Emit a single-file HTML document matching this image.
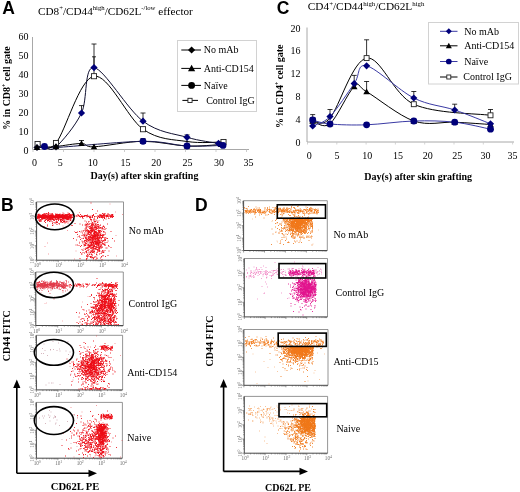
<!DOCTYPE html>
<html><head><meta charset="utf-8"><title>Figure</title>
<style>html,body{margin:0;padding:0;background:#fff;}body{width:520px;height:492px;position:relative;overflow:hidden;font-family:'Liberation Serif', serif;}</style>
</head><body>
<svg width="520" height="492" viewBox="0 0 520 492" style="position:absolute;left:0;top:0;filter:blur(0.3px)"><rect width="520" height="492" fill="#fff"/><text x="2.2" y="13.6" font-size="17.5" text-anchor="start" font-weight="bold" font-family="'Liberation Sans', sans-serif" fill="#000" >A</text><text x="38" y="14.7" font-size="11.2" font-family="'Liberation Serif', serif">CD8<tspan font-size="6.7" dy="-4.5">+</tspan><tspan dy="4.5">/CD44</tspan><tspan font-size="6.7" dy="-4.5">high</tspan><tspan dy="4.5">/CD62L</tspan><tspan font-size="6.7" dy="-4.5">-/low</tspan><tspan dy="4.5"> effector</tspan></text><path d="M32.5,37 V149.5 H249" stroke="#a8a8a8" stroke-width="1" fill="none"/><path d="M33,149.5 v2.5" stroke="#c0c0c0" stroke-width="0.8"/><path d="M63.5,149.5 v2.5" stroke="#c0c0c0" stroke-width="0.8"/><path d="M94,149.5 v2.5" stroke="#c0c0c0" stroke-width="0.8"/><path d="M124.5,149.5 v2.5" stroke="#c0c0c0" stroke-width="0.8"/><path d="M155,149.5 v2.5" stroke="#c0c0c0" stroke-width="0.8"/><path d="M185.5,149.5 v2.5" stroke="#c0c0c0" stroke-width="0.8"/><path d="M216,149.5 v2.5" stroke="#c0c0c0" stroke-width="0.8"/><path d="M246.5,149.5 v2.5" stroke="#c0c0c0" stroke-width="0.8"/><text x="28.5" y="153.6" font-size="10" text-anchor="end" font-weight="normal" font-family="'Liberation Serif', serif" fill="#000" >0</text><text x="28.5" y="134.67" font-size="10" text-anchor="end" font-weight="normal" font-family="'Liberation Serif', serif" fill="#000" >10</text><text x="28.5" y="115.74" font-size="10" text-anchor="end" font-weight="normal" font-family="'Liberation Serif', serif" fill="#000" >20</text><text x="28.5" y="96.81" font-size="10" text-anchor="end" font-weight="normal" font-family="'Liberation Serif', serif" fill="#000" >30</text><text x="28.5" y="77.88" font-size="10" text-anchor="end" font-weight="normal" font-family="'Liberation Serif', serif" fill="#000" >40</text><text x="28.5" y="58.94999999999998" font-size="10" text-anchor="end" font-weight="normal" font-family="'Liberation Serif', serif" fill="#000" >50</text><text x="28.5" y="40.01999999999999" font-size="10" text-anchor="end" font-weight="normal" font-family="'Liberation Serif', serif" fill="#000" >60</text><text x="34.5" y="165.8" font-size="10" text-anchor="middle" font-weight="normal" font-family="'Liberation Serif', serif" fill="#000" >0</text><text x="60.3" y="165.8" font-size="10" text-anchor="middle" font-weight="normal" font-family="'Liberation Serif', serif" fill="#000" >5</text><text x="92.8" y="165.8" font-size="10" text-anchor="middle" font-weight="normal" font-family="'Liberation Serif', serif" fill="#000" >10</text><text x="125.5" y="165.8" font-size="10" text-anchor="middle" font-weight="normal" font-family="'Liberation Serif', serif" fill="#000" >15</text><text x="156.2" y="165.8" font-size="10" text-anchor="middle" font-weight="normal" font-family="'Liberation Serif', serif" fill="#000" >20</text><text x="187.5" y="165.8" font-size="10" text-anchor="middle" font-weight="normal" font-family="'Liberation Serif', serif" fill="#000" >25</text><text x="219" y="165.8" font-size="10" text-anchor="middle" font-weight="normal" font-family="'Liberation Serif', serif" fill="#000" >30</text><text x="248.5" y="165.8" font-size="10" text-anchor="middle" font-weight="normal" font-family="'Liberation Serif', serif" fill="#000" >35</text><text x="144.5" y="179" font-size="10" text-anchor="middle" font-weight="bold" font-family="'Liberation Serif', serif" fill="#000" >Day(s) after skin grafting</text><text transform="translate(10,88) rotate(-90)" font-size="10" font-weight="bold" text-anchor="middle" font-family="'Liberation Serif', serif">% in CD8<tspan font-size="6" dy="-4">+</tspan><tspan dy="4"> cell gate</tspan></text><path d="M37.0,147.5 C40.2,147.3 48.6,147.2 56.0,146.5 C63.4,145.8 75.2,143.4 81.5,143.5 C87.8,143.6 83.8,147.2 94.0,146.8 C104.2,146.4 127.5,141.4 143.0,141.3 C158.5,141.2 174.0,145.5 187.0,146.0 C200.0,146.5 215.3,144.8 221.0,144.5" stroke="#000" stroke-width="1" fill="none"/><path d="M37.0,147.5 C38.2,147.3 41.3,146.5 44.5,146.5 C47.7,146.5 39.6,148.4 56.0,147.5 C72.4,146.6 121.2,141.6 143.0,141.3 C164.8,141.1 173.7,145.3 187.0,146.0 C200.3,146.7 217.0,145.5 223.0,145.4" stroke="#1a1a50" stroke-width="1" fill="none"/><path d="M37.6,144.0 C40.7,143.8 46.6,154.3 56.0,143.0 C65.4,131.7 79.5,78.5 94.0,76.2 C108.5,73.9 127.5,118.3 143.0,129.2 C158.5,140.1 173.6,139.4 187.0,141.5 C200.4,143.6 217.4,141.9 223.5,142.0" stroke="#000" stroke-width="1" fill="none"/><path d="M37.0,147.5 C38.2,147.4 41.3,147.1 44.5,147.0 C47.7,146.9 49.8,152.7 56.0,147.0 C62.2,141.3 75.2,126.2 81.5,113.0 C87.8,99.8 83.8,66.2 94.0,67.6 C104.2,69.0 127.5,109.6 143.0,121.2 C158.5,132.8 174.4,133.6 187.0,137.3 C199.6,141.0 213.2,142.4 218.5,143.4" stroke="#101030" stroke-width="1" fill="none"/><path d="M94,67.6 V44 M91.5,44 H96.5" stroke="#000" stroke-width="0.8" fill="none"/><path d="M94,76 V56.8 M92,56.8 H96" stroke="#000" stroke-width="0.8" fill="none"/><path d="M81.5,113 V105.6 M79.0,105.6 H84.0" stroke="#000" stroke-width="0.8" fill="none"/><path d="M143,121.2 V113 M140.5,113 H145.5" stroke="#000" stroke-width="0.8" fill="none"/><path d="M187,137.3 V134.9 M184.5,134.9 H189.5" stroke="#000" stroke-width="0.8" fill="none"/><path d="M187,146 V137.5 M187,137.5 H187" stroke="#000" stroke-width="0.8" fill="none"/><path d="M81.5,143.5 V140.5 M79.0,140.5 H84.0" stroke="#000" stroke-width="0.8" fill="none"/><path d="M143,141 V138.5 M140.5,138.5 H145.5" stroke="#000" stroke-width="0.8" fill="none"/><path d="M223.5,142 V140 M221.0,140 H226.0" stroke="#000" stroke-width="0.8" fill="none"/><rect x="35.04" y="141.44" width="5.12" height="5.12" fill="#fff" stroke="#222" stroke-width="0.9"/><rect x="53.44" y="140.44" width="5.12" height="5.12" fill="#fff" stroke="#222" stroke-width="0.9"/><rect x="91.44" y="73.64" width="5.12" height="5.12" fill="#fff" stroke="#222" stroke-width="0.9"/><rect x="140.44" y="126.64" width="5.12" height="5.12" fill="#fff" stroke="#222" stroke-width="0.9"/><rect x="220.94" y="139.44" width="5.12" height="5.12" fill="#fff" stroke="#222" stroke-width="0.9"/><path d="M37,143.9 L40.6,147.5 L37,151.1 L33.4,147.5 Z" fill="#0a0a28"/><path d="M56,143.4 L59.6,147 L56,150.6 L52.4,147 Z" fill="#0a0a28"/><path d="M37,144.3 L40.2,150.06 L33.8,150.06 Z" fill="#000"/><path d="M56,143.3 L59.2,149.06 L52.8,149.06 Z" fill="#000"/><path d="M81.5,140.3 L84.7,146.06 L78.3,146.06 Z" fill="#000"/><path d="M94,143.60000000000002 L97.2,149.36 L90.8,149.36 Z" fill="#000"/><path d="M143,138.10000000000002 L146.2,143.86 L139.8,143.86 Z" fill="#000"/><path d="M187,142.8 L190.2,148.56 L183.8,148.56 Z" fill="#000"/><path d="M221,141.3 L224.2,147.06 L217.8,147.06 Z" fill="#000"/><circle cx="44.5" cy="146.5" r="3.42" fill="#00007a"/><circle cx="143" cy="141.3" r="3.42" fill="#00007a"/><circle cx="187" cy="146" r="3.42" fill="#00007a"/><circle cx="223" cy="145.4" r="3.42" fill="#00007a"/><path d="M81.5,109.4 L85.1,113 L81.5,116.6 L77.9,113 Z" fill="#00007a"/><path d="M94,63.99999999999999 L97.6,67.6 L94,71.19999999999999 L90.4,67.6 Z" fill="#00007a"/><path d="M143,117.60000000000001 L146.6,121.2 L143,124.8 L139.4,121.2 Z" fill="#00007a"/><path d="M187,133.70000000000002 L190.6,137.3 L187,140.9 L183.4,137.3 Z" fill="#00007a"/><path d="M218.5,139.8 L222.1,143.4 L218.5,147.0 L214.9,143.4 Z" fill="#00007a"/><rect x="177.5" y="40.5" width="79" height="71" fill="#fff" stroke="#d2d2d2" stroke-width="1"/><path d="M181.3,50 H201" stroke="#000" stroke-width="1"/><path d="M191.6,46.4 L195.2,50 L191.6,53.6 L188.0,50 Z" fill="#000"/><text x="203.8" y="53.3" font-size="10" text-anchor="start" font-weight="normal" font-family="'Liberation Serif', serif" fill="#000" >No mAb</text><path d="M181.3,68.4 H201" stroke="#000" stroke-width="1"/><path d="M191.6,64.80000000000001 L195.2,71.28 L188.0,71.28 Z" fill="#000"/><text x="203.8" y="71.7" font-size="10" text-anchor="start" font-weight="normal" font-family="'Liberation Serif', serif" fill="#000" >Anti-CD154</text><path d="M181.3,85.4 H201" stroke="#000" stroke-width="1"/><circle cx="191.6" cy="85.4" r="3.42" fill="#000"/><text x="203.8" y="88.7" font-size="10" text-anchor="start" font-weight="normal" font-family="'Liberation Serif', serif" fill="#000" >Naïve</text><path d="M182.4,100.4 H198" stroke="#000" stroke-width="1"/><rect x="187.92" y="98.32" width="4.16" height="4.16" fill="#fff" stroke="#222" stroke-width="0.9"/><text x="206.2" y="103.7" font-size="10" text-anchor="start" font-weight="normal" font-family="'Liberation Serif', serif" fill="#000" >Control IgG</text><text x="276.8" y="13.5" font-size="17.5" text-anchor="start" font-weight="bold" font-family="'Liberation Sans', sans-serif" fill="#000" >C</text><text x="307.8" y="10.4" font-size="11.3" font-family="'Liberation Serif', serif">CD4<tspan font-size="6.8" dy="-4.4">+</tspan><tspan dy="4.4">/CD44</tspan><tspan font-size="6.8" dy="-4.4">high</tspan><tspan dy="4.4">/CD62L</tspan><tspan font-size="6.8" dy="-4.4">high</tspan></text><path d="M307,27.5 V142 H514" stroke="#a8a8a8" stroke-width="1" fill="none"/><path d="M307.5,142 v2.5" stroke="#c8c8c8" stroke-width="0.8"/><path d="M336.8,142 v2.5" stroke="#c8c8c8" stroke-width="0.8"/><path d="M366.1,142 v2.5" stroke="#c8c8c8" stroke-width="0.8"/><path d="M395.4,142 v2.5" stroke="#c8c8c8" stroke-width="0.8"/><path d="M424.7,142 v2.5" stroke="#c8c8c8" stroke-width="0.8"/><path d="M454,142 v2.5" stroke="#c8c8c8" stroke-width="0.8"/><path d="M483.3,142 v2.5" stroke="#c8c8c8" stroke-width="0.8"/><path d="M512.6,142 v2.5" stroke="#c8c8c8" stroke-width="0.8"/><text x="300.5" y="146.0" font-size="10" text-anchor="end" font-weight="normal" font-family="'Liberation Serif', serif" fill="#000" >0</text><text x="300.5" y="123.12" font-size="10" text-anchor="end" font-weight="normal" font-family="'Liberation Serif', serif" fill="#000" >4</text><text x="300.5" y="100.24000000000001" font-size="10" text-anchor="end" font-weight="normal" font-family="'Liberation Serif', serif" fill="#000" >8</text><text x="300.5" y="77.36" font-size="10" text-anchor="end" font-weight="normal" font-family="'Liberation Serif', serif" fill="#000" >12</text><text x="300.5" y="54.48" font-size="10" text-anchor="end" font-weight="normal" font-family="'Liberation Serif', serif" fill="#000" >16</text><text x="300.5" y="31.6" font-size="10" text-anchor="end" font-weight="normal" font-family="'Liberation Serif', serif" fill="#000" >20</text><text x="309.3" y="158.8" font-size="10" text-anchor="middle" font-weight="normal" font-family="'Liberation Serif', serif" fill="#000" >0</text><text x="337" y="158.8" font-size="10" text-anchor="middle" font-weight="normal" font-family="'Liberation Serif', serif" fill="#000" >5</text><text x="367.3" y="158.8" font-size="10" text-anchor="middle" font-weight="normal" font-family="'Liberation Serif', serif" fill="#000" >10</text><text x="398" y="158.8" font-size="10" text-anchor="middle" font-weight="normal" font-family="'Liberation Serif', serif" fill="#000" >15</text><text x="427.8" y="158.8" font-size="10" text-anchor="middle" font-weight="normal" font-family="'Liberation Serif', serif" fill="#000" >20</text><text x="457.3" y="158.8" font-size="10" text-anchor="middle" font-weight="normal" font-family="'Liberation Serif', serif" fill="#000" >25</text><text x="485.4" y="158.8" font-size="10" text-anchor="middle" font-weight="normal" font-family="'Liberation Serif', serif" fill="#000" >30</text><text x="512.6" y="158.8" font-size="10" text-anchor="middle" font-weight="normal" font-family="'Liberation Serif', serif" fill="#000" >35</text><text x="418.2" y="179.5" font-size="10" text-anchor="middle" font-weight="bold" font-family="'Liberation Serif', serif" fill="#000" >Day(s) after skin grafting</text><text transform="translate(282.6,86.2) rotate(-90)" font-size="10" font-weight="bold" text-anchor="middle" font-family="'Liberation Serif', serif">% in CD4<tspan font-size="6" dy="-4">+</tspan><tspan dy="4"> cell gate</tspan></text><path d="M312.7,120.4 C315.6,120.0 321.0,128.4 330.0,118.0 C339.0,107.6 352.6,60.4 366.6,58.1 C380.6,55.8 393.2,94.7 413.8,104.2 C434.4,113.7 477.7,113.5 490.5,115.3" stroke="#000" stroke-width="1" fill="none"/><path d="M312.7,121.0 C315.6,121.5 323.1,129.4 330.0,123.7 C336.9,118.0 348.1,91.9 354.2,86.6 C360.3,81.3 356.7,86.0 366.6,91.7 C376.5,97.4 399.1,115.9 413.8,121.0 C428.5,126.1 441.9,121.6 454.7,122.2 C467.5,122.8 484.5,124.1 490.5,124.5" stroke="#000" stroke-width="1" fill="none"/><path d="M312.7,120.0 C315.6,120.7 321.0,123.2 330.0,124.0 C339.0,124.8 352.6,125.3 366.6,124.8 C380.6,124.3 399.1,121.4 413.8,121.0 C428.5,120.6 441.9,120.8 454.7,122.2 C467.5,123.6 484.5,128.0 490.5,129.2" stroke="#3a3aa4" stroke-width="1" fill="none"/><path d="M312.7,126.0 C315.6,124.4 323.1,123.7 330.0,116.6 C336.9,109.5 348.1,92.1 354.2,83.6 C360.3,75.1 356.7,63.4 366.6,65.8 C376.5,68.2 399.1,90.6 413.8,98.0 C428.5,105.4 441.9,105.7 454.7,110.0 C467.5,114.3 484.5,121.5 490.5,123.8" stroke="#3a3aa4" stroke-width="1" fill="none"/><path d="M312.7,120.4 V114.6 M310.2,114.6 H315.2" stroke="#000" stroke-width="0.8" fill="none"/><path d="M330,116.6 V109.5 M327.5,109.5 H332.5" stroke="#000" stroke-width="0.8" fill="none"/><path d="M354.2,81 V75.4 M351.7,75.4 H356.7" stroke="#000" stroke-width="0.8" fill="none"/><path d="M366.6,58.1 V39.8 M364.1,39.8 H369.1" stroke="#000" stroke-width="0.8" fill="none"/><path d="M366.6,91.7 V81.5 M364.1,81.5 H369.1" stroke="#000" stroke-width="0.8" fill="none"/><path d="M413.8,98 V91.5 M411.3,91.5 H416.3" stroke="#000" stroke-width="0.8" fill="none"/><path d="M454.7,110 V104.2 M452.2,104.2 H457.2" stroke="#000" stroke-width="0.8" fill="none"/><path d="M490.5,115.3 V109.5 M488.0,109.5 H493.0" stroke="#000" stroke-width="0.8" fill="none"/><rect x="310.22" y="117.92" width="4.96" height="4.96" fill="#fff" stroke="#222" stroke-width="0.9"/><rect x="364.12" y="55.62" width="4.96" height="4.96" fill="#fff" stroke="#222" stroke-width="0.9"/><rect x="411.32" y="101.72" width="4.96" height="4.96" fill="#fff" stroke="#222" stroke-width="0.9"/><rect x="488.02" y="112.82" width="4.96" height="4.96" fill="#fff" stroke="#222" stroke-width="0.9"/><path d="M312.7,117.7 L316.0,123.64 L309.4,123.64 Z" fill="#000"/><path d="M330,120.4 L333.3,126.34 L326.7,126.34 Z" fill="#000"/><path d="M354.2,83.3 L357.5,89.24 L350.9,89.24 Z" fill="#000"/><path d="M366.6,88.4 L369.90000000000003,94.34 L363.3,94.34 Z" fill="#000"/><path d="M413.8,117.7 L417.1,123.64 L410.5,123.64 Z" fill="#000"/><path d="M454.7,118.9 L458.0,124.84 L451.4,124.84 Z" fill="#000"/><path d="M490.5,121.2 L493.8,127.14 L487.2,127.14 Z" fill="#000"/><circle cx="312.7" cy="120" r="3.42" fill="#00007a"/><circle cx="330" cy="124" r="3.42" fill="#00007a"/><circle cx="366.6" cy="124.8" r="3.42" fill="#00007a"/><circle cx="413.8" cy="121" r="3.42" fill="#00007a"/><circle cx="454.7" cy="122.2" r="3.42" fill="#00007a"/><circle cx="490.5" cy="129.2" r="3.42" fill="#00007a"/><path d="M312.7,122.4 L316.3,126 L312.7,129.6 L309.09999999999997,126 Z" fill="#00007a"/><path d="M330,113.0 L333.6,116.6 L330,120.19999999999999 L326.4,116.6 Z" fill="#00007a"/><path d="M354.2,80.0 L357.8,83.6 L354.2,87.19999999999999 L350.59999999999997,83.6 Z" fill="#00007a"/><path d="M366.6,62.199999999999996 L370.20000000000005,65.8 L366.6,69.39999999999999 L363.0,65.8 Z" fill="#00007a"/><path d="M413.8,94.4 L417.40000000000003,98 L413.8,101.6 L410.2,98 Z" fill="#00007a"/><path d="M454.7,106.4 L458.3,110 L454.7,113.6 L451.09999999999997,110 Z" fill="#00007a"/><path d="M490.5,120.2 L494.1,123.8 L490.5,127.39999999999999 L486.9,123.8 Z" fill="#00007a"/><rect x="428.5" y="22.5" width="90" height="61.5" fill="#fff" stroke="#d2d2d2" stroke-width="1"/><path d="M440,31.3 H457.5" stroke="#3a3aa4" stroke-width="1"/><path d="M448.8,28.3 L451.8,31.3 L448.8,34.3 L445.8,31.3 Z" fill="#00007a"/><text x="464.2" y="34.6" font-size="10" text-anchor="start" font-weight="normal" font-family="'Liberation Serif', serif" fill="#000" >No mAb</text><path d="M440,45.8 H457.5" stroke="#000" stroke-width="1"/><path d="M448.8,42.8 L451.8,48.199999999999996 L445.8,48.199999999999996 Z" fill="#000"/><text x="464.2" y="49.099999999999994" font-size="10" text-anchor="start" font-weight="normal" font-family="'Liberation Serif', serif" fill="#000" >Anti-CD154</text><path d="M440,61.5 H457.5" stroke="#3a3aa4" stroke-width="1"/><circle cx="448.8" cy="61.5" r="2.8499999999999996" fill="#00007a"/><text x="464.2" y="64.8" font-size="10" text-anchor="start" font-weight="normal" font-family="'Liberation Serif', serif" fill="#000" >Naïve</text><path d="M440,77 H457.5" stroke="#000" stroke-width="1"/><rect x="446.80" y="75.00" width="4.00" height="4.00" fill="#fff" stroke="#222" stroke-width="0.9"/><text x="463.3" y="80.3" font-size="10" text-anchor="start" font-weight="normal" font-family="'Liberation Serif', serif" fill="#000" >Control IgG</text><text x="1" y="211" font-size="17.5" text-anchor="start" font-weight="bold" font-family="'Liberation Sans', sans-serif" fill="#000" >B</text><path d="M36.6,201.9 H123.5 V260.2" stroke="#7a7a7a" stroke-width="0.8" fill="none"/><path d="M36.6,201.9 V260.2 H123.5" stroke="#333" stroke-width="0.9" fill="none"/><path d="M36.6,260.2v2M36.6,260.2h-2M43.1,260.2v1.2M36.6,255.8h-1.2M47.0,260.2v1.2M36.6,253.2h-1.2M49.7,260.2v1.2M36.6,251.4h-1.2M51.8,260.2v1.2M36.6,250.0h-1.2M53.5,260.2v1.2M36.6,248.9h-1.2M55.0,260.2v1.2M36.6,247.9h-1.2M56.2,260.2v1.2M36.6,247.0h-1.2M57.3,260.2v1.2M36.6,246.3h-1.2M58.3,260.2v2M36.6,245.6h-2M64.9,260.2v1.2M36.6,241.2h-1.2M68.7,260.2v1.2M36.6,238.7h-1.2M71.4,260.2v1.2M36.6,236.8h-1.2M73.5,260.2v1.2M36.6,235.4h-1.2M75.2,260.2v1.2M36.6,234.3h-1.2M76.7,260.2v1.2M36.6,233.3h-1.2M77.9,260.2v1.2M36.6,232.5h-1.2M79.1,260.2v1.2M36.6,231.7h-1.2M80.1,260.2v2M36.6,231.1h-2M86.6,260.2v1.2M36.6,226.7h-1.2M90.4,260.2v1.2M36.6,224.1h-1.2M93.1,260.2v1.2M36.6,222.3h-1.2M95.2,260.2v1.2M36.6,220.9h-1.2M97.0,260.2v1.2M36.6,219.7h-1.2M98.4,260.2v1.2M36.6,218.7h-1.2M99.7,260.2v1.2M36.6,217.9h-1.2M100.8,260.2v1.2M36.6,217.1h-1.2M101.8,260.2v2M36.6,216.5h-2M108.3,260.2v1.2M36.6,212.1h-1.2M112.1,260.2v1.2M36.6,209.5h-1.2M114.9,260.2v1.2M36.6,207.7h-1.2M117.0,260.2v1.2M36.6,206.3h-1.2M118.7,260.2v1.2M36.6,205.1h-1.2M120.1,260.2v1.2M36.6,204.2h-1.2M121.4,260.2v1.2M36.6,203.3h-1.2M122.5,260.2v1.2M36.6,202.6h-1.2" stroke="#555" stroke-width="0.6" fill="none"/><text x="37.4" y="267.2" font-size="5.2" text-anchor="middle" font-family="'Liberation Serif', serif" fill="#6a6a6a">10<tspan font-size="3.8" dy="-2">0</tspan></text><text transform="translate(34.4,260.2) rotate(-90)" font-size="5.2" text-anchor="middle" font-family="'Liberation Serif', serif" fill="#6a6a6a">10<tspan font-size="3.8" dy="-2">0</tspan></text><text x="59.1" y="267.2" font-size="5.2" text-anchor="middle" font-family="'Liberation Serif', serif" fill="#6a6a6a">10<tspan font-size="3.8" dy="-2">1</tspan></text><text transform="translate(34.4,245.6) rotate(-90)" font-size="5.2" text-anchor="middle" font-family="'Liberation Serif', serif" fill="#6a6a6a">10<tspan font-size="3.8" dy="-2">1</tspan></text><text x="80.9" y="267.2" font-size="5.2" text-anchor="middle" font-family="'Liberation Serif', serif" fill="#6a6a6a">10<tspan font-size="3.8" dy="-2">2</tspan></text><text transform="translate(34.4,231.1) rotate(-90)" font-size="5.2" text-anchor="middle" font-family="'Liberation Serif', serif" fill="#6a6a6a">10<tspan font-size="3.8" dy="-2">2</tspan></text><text x="102.6" y="267.2" font-size="5.2" text-anchor="middle" font-family="'Liberation Serif', serif" fill="#6a6a6a">10<tspan font-size="3.8" dy="-2">3</tspan></text><text transform="translate(34.4,216.5) rotate(-90)" font-size="5.2" text-anchor="middle" font-family="'Liberation Serif', serif" fill="#6a6a6a">10<tspan font-size="3.8" dy="-2">3</tspan></text><text x="124.3" y="267.2" font-size="5.2" text-anchor="middle" font-family="'Liberation Serif', serif" fill="#6a6a6a">10<tspan font-size="3.8" dy="-2">4</tspan></text><text transform="translate(34.4,201.9) rotate(-90)" font-size="5.2" text-anchor="middle" font-family="'Liberation Serif', serif" fill="#6a6a6a">10<tspan font-size="3.8" dy="-2">4</tspan></text><path d="M58 217h1m8 0h1m-5 1h1m-19.5 -2.5h1m1.5 1h1m18.5 1h1m-30.5 0h1m26.5 0.5h1m-2 -1h1m-12 -0.5h1m-6.5 0.5h1m-1.5 -1.5h1m-2 -1h1m5.5 3h1m1 -1h1m0.5 0.5h1m14 -2.5h1m-8 1.5h1m-6.5 0h1m11 -0.5h1m-27 -1.5h1m-2.5 2.5h1m14 1.5h1m-20 -1h1m-1.5 -1h1m15 0.5h1m-2.5 1h1m14 -4.5h1m-10.5 3.5h1m-5 1h1m-1.5 0h1m-9 1.5h1m-9 -1h1m5 -1h1m15.5 0h1m-17.5 0.5h1m5 -1.5h1m-13.5 0.5h1m27 1.5h1m-24 1h1m3 -2.5h1m19.5 0h1m-13.5 0.5h1m10.5 1.5h1m-8 -2h1m2.5 2h1m-23 -3h1m14 1h1m-2 0h1m11 1h1m-18 0.5h1m7 -3.5h1m-19 1h1m10 1.5h1m-3 -1h1m-7 -1.5h1m21.5 3.5h1m-16 -0.5h1m19.5 0h1m-14 -1.5h1m-0.5 2h1m0 -1.5h1m0 1.5h1m-18.5 -2.5h1m9 0h1m-8 1.5h1m4.5 -1h1m-11.5 1.5h1m28.5 -0.5h1m-26.5 -1.5h1m14.5 1.5h1m-13.5 -1h1m18.5 2h1m-8.5 -2h1m-18.5 0h1m23 2.5h1m2 1h1m-2 0h1m-12.5 -2.5h1m-15 0h1m0.5 1.5h1m23.5 -2h1m-13.5 -1h1m-13.5 1.5h1m22.5 0.5h1m-9 -2h1m-3.5 -1h1m-7.5 0.5h1m0.5 2.5h1m-7 -2h1m-7.5 1h1m27 0.5h1m-15 0.5h1m2 -1h1m-8.5 1h1m13 -2h1m-25 0.5h1m10.5 -0.5h1m-12.5 2.5h1m2 -1.5h1m27.5 -1h1m-11.5 0.5h1m-8.5 0.5h1m2 1h1m10.5 -3h1m-18.5 1h1m7.5 0.5h1m2 4h1m-12 -2h1m4.5 -1.5h1m7 1h1m4 2h1m-26.5 -3h1m25.5 -0.5h1m-32.5 2.5h1m24 -1h1m1 0h1m-23.5 -1.5h1m8.5 3h1m12.5 0h1m-28 -1.5h1m19.5 0h1m4.5 -3.5h1m-10.5 3.5h1m6.5 -1h1m-18 1h1m-2 0h1m4.5 -1h1m-7 -2h1m4.5 2.5h1m19.5 -1.5h1m-14 1h1m-8.5 -0.5h1m-3.5 0.5h1m22 -3h1m-18 5h1m17 -1.5h1m-16.5 1h1m-1 1.5h1m11.5 -3h1m-6 -2h1m-6.5 1h1m-6 -0.5h1m14 1h1m-16.5 1h1m16 -3h1m-29.5 3h1m11 -2.5h1m2 2.5h1m13.5 -0.5h1m-24.5 0h1m17.5 0h1m-5.5 -0.5h1m0.5 0h1m-4 -1.5h1m10.5 2h1m-22.5 2.5h1m1.5 0.5h1m-7.5 -1h1m-6.5 -1h1m4.5 -1.5h1m22.5 2.5h1m-3.5 -2h1m-25 0h1m15 0h1m-5 0.5h1m3 -1h1m1 0.5h1m-12.5 -1h1m20.5 0.5h1m-17.5 3.5h1m4.5 -3h1m-0.5 0h1m-16.5 1h1m-5 0h1m11 -2h1m10.5 1h1m1 1.5h1m-4 -1h1m-21.5 0h1m25.5 1.5h1m-4.5 -2.5h1m1.5 1h1m-13 -1h1m12 2.5h1m-30 -4.5h1m-1.5 2h1m-1.5 0h1m7 1.5h1m-1 0h1m-3 1h1m11.5 -4h1m-18.5 3h1m17.5 -1h1m-15.5 -0.5h1m16 1.5h1m-23 -2h1m9 -1.5h1m20 2h1m-14.5 -1h1m8 1h1m-6 1h1m-2.5 0h1m-15 2h1m11.5 -2.5h1m-18.5 -2h1m24.5 1h1m4 0h1m-4.5 -0.5h1m-28 2.5h1m9 -1.5h1m-2 -2h1m-7.5 3.5h1m16 -1h1m4.5 0.5h1m-17 0h1m17.5 0.5h1m-3.5 -1h1m-23 2h1m20 -1h1m3 -0.5h1m-24 0h1m11.5 -2h1m1.5 1.5h1m-2 0h1m-18.5 0.5h1m18 -2h1m-2 4h1m5.5 -2h1m-1.5 -2h1m-17 -0.5h1m12 2h1m4 0h1m0 -0.5h1m-25.5 1h1m-5.5 -1h1m20 1.5h1m-16 -1.5h1m11 0.5h1m11.5 1.5h1m-20 2h1m-5 -4.5h1m6 0.5h1m5.5 -0.5h1m-19.5 2h1m8 -2.5h1m-9 1h1m16.5 0.5h1m5 -1h1m-16.5 0h1m-1 0.5h1m4.5 -2h1m-12 1h1m0.5 1h1m1.5 1h1m3.5 -0.5h1m-14 -2h1m21.5 1.5h1m-6.5 1.5h1m-10.5 0h1m-8.5 -1h1m22 -1h1m-22 2h1m-1 -1.5h1m-1 -1h1m-3 0.5h1m27 3h1m-22.5 -1.5h1m0.5 1h1m16.5 -2h1m-8 2h1m-15.5 -2h1m7 0.5h1m14 3.5h1m-18 -2.5h1m10.5 -1.5h1m-22 0.5h1m20.5 0.5h1m0.5 1.5h1m0.5 -2.5h1m-6 -1.5h1m-11 2h1m-11.5 0h1m14.5 0.5h1m7 1.5h1m-20 -1.5h1m1.5 1h1m8 -2.5h1m6 2.5h1m4 1.5h1m-27 -2h1m1 -0.5h1m20 0h1m-6.5 2h1m1.5 -3.5h1m8.5 1h1m-3 1h1m-4.5 0h1m-3 -1.5h1m-14 1h1m7.5 -0.5h1m-16.5 0.5h1m18.5 -0.5h1m-1 -1.5h1m-2.5 1.5h1m-10 1.5h1m-3.5 -2.5h1m0.5 1h1m-14 1h1m26.5 -2h1m-11.5 1.5h1m-6 -1.5h1m4.5 2.5h1m4.5 1.5h1m-12 0h1m14 -3h1m2 1h1m-19 -0.5h1m-9.5 0h1m20 1.5h1m7 -3.5h1m-29.5 3h1m18 -1.5h1m2.5 2h1m2.5 -1.5h1m-28 -1h1m-2 1h1m29 0.5h1m-30 -1h1m1 1h1m12.5 -1.5h1m-5.5 -2h1m9 4h1m-19.5 -0.5h1m23 -0.5h1m-24 0h1m17.5 1h1m-24.5 -2h1m12.5 0h1m-16 0.5h1m8.5 1.5h1m-1 -3h1m12.5 3h1m-10 -2h1m-14 -0.5h1m30.5 3h1m-4.5 -2h1m-0.5 -1.5h1m-23 1h1m3.5 2h1m-6.5 0h1m-4.5 -2h1m-4 1h1m15 0.5h1m-14 -1.5h1m1 1h1m22 -0.5h1m-14 -0.5h1m-11 0h1m15.5 1h1m-14.5 -0.5h1m7.5 -0.5h1m-9 0h1m7 2h1m2.5 -1h1m-4 1h1m-5.5 0.5h1m12 -1h1m2 2h1m-24.5 -4h1m-2.5 2.5h1m-1.5 -1.5h1m28 2.5h1m-2.5 0h1m-25 -5h1m24 1.5h1m-26.5 2h1m9 0h1m-1.5 0h1m13 -1h1m-30 1h1m8 0h1m8.5 -1h1m-19 1.5h1m5 -4h1m6.5 3.5h1m13 -2h1m-5 2.5h1m1.5 -1.5h1m-3.5 -1h1m-3 1.5h1m4 -1.5h1m-6.5 0h1m0.5 -1h1m-15.5 2h1m-5.5 1h1m19 0.5h1m-21 -1.5h1m24.5 1.5h1m-12 -1.5h1m-10 0h1m19.5 1h1m-27.5 0.5h1m11 -1.5h1m-15 0h1m28.5 0h1m-14 0.5h1m6.5 -1.5h1m-18.5 2.5h1m16.5 -2h1m-4.5 1.5h1m-3 -2h1m9.5 1.5h1m-18.5 0h1m-1.5 -1h1m8 3.5h1m4 -2.5h1m-18 2h1m10.5 -1h1m-16.5 -2h1m10.5 0h1m6.5 1.5h1m-25 -0.5h1m21.5 0h1m-25 -0.5h1m30.5 -2h1m-17.5 2h1m-3 -2.5h1m9.5 3h1m-7.5 -1h1m6 0h1m-22.5 0.5h1m15 0.5h1m-1.5 -2h1m11.5 -0.5h1m-30.5 1h1m12.5 -1.5h1m5 1.5h1m-3.5 3.5h1m-17 -3.5h1m16.5 2h1m-13.5 -2.5h1m-2 2h1m22 -0.5h1m-24 0h1m7.5 1h1m9 1.5h1m-2.5 -2h1m-6 0h1m7.5 -1.5h1m-12.5 2h1m4.5 -1h1m5.5 1.5h1m-6 -1.5h1m-2 2.5h1m-9 -5h1m4 2.5h1m-6 1.5h1m10.5 -2h1m-13.5 -0.5h1m2 1h1m9 -1.5h1m-9.5 2h1m-6.5 3h1m15 -2h1m-15.5 -2.5h1m14.5 0h1m-3 0.5h1m-12.5 2h1m8 -2.5h1m-24 0.5h1m11 2h1m15 0h1m-10.5 -2h1m-2 -1h1m3 -0.5h1m-1 1.5h1m-4 -2h1m-6.5 3.5h1m-9 -1.5h1m3 1.5h1m-1 1.5h1m3.5 -1h1m18 -3h1m-22.5 3h1m2 0h1m-3.5 -2.5h1m6 0h1m11.5 1h1m-3 -2h1m-18.5 4h1m-4.5 -5h1m19.5 2h1m-14 1h1m5.5 0h1m-21.5 0.5h1m25.5 0h1m-19.5 -0.5h1m5 1.5h1m-11 -4h1m6.5 2.5h1m12.5 -0.5h1m-1 1h1m-12.5 0h1m8.5 -1.5h1m-11 0.5h1m-4 1.5h1m5 -0.5h1m-13 -1h1m3 3.5h1m12 0h1m1.5 -4.5h1m-25 2h1m21.5 3h1m2 -2.5h1m-13.5 -0.5h1m-14 -0.5h1m20 -0.5h1m-16 0.5h1m12.5 -0.5h1m-10 1.5h1m8 -1.5h1m-14 0h1m6.5 -1h1m0.5 1.5h1m2.5 -1h1m-15 1h1m24 1.5h1m-23.5 -1h1m0 0.5h1m-3 -0.5h1m-7 0h1m10.5 -0.5h1m11 0h1m-3 1h1m-18.5 -2h1m-3 3h1m5.5 -2h1m13.5 -1h1m-10 0.5h1m13.5 0h1m-10 1h1m-2 -1h1m3.5 2h1m-1.5 -2.5h1m-14.5 -2h1m-4 2h1m5 -1.5h1m1 2.5h1m-13 1.5h1m9.5 -0.5h1m5.5 -2.5h1m-18 0.5h1m-1 3.5h1m0.5 -2h1m2.5 -0.5h1m21.5 1.5h1m-32 2h1m4 -1.5h1m-1.5 -1.5h1m9.5 0h1m-16.5 0.5h1m14 -1.5h1m-11 -0.5h1m2.5 1.5h1m16.5 -1.5h1m-21.5 1h1m13.5 0.5h1m-8 2.5h1m-0.5 -4h1m12.5 1h1m-23 0h1m24.5 1h1m-2 0.5h1m-8.5 -2h1m-22 -0.5h1m19.5 -1h1m-3 1h1m5 2h1m-20 -0.5h1m24 -1.5h1m-3.5 0.5h1m-26.5 0.5h1m5.5 1h1m-10.5 -1.5h1m26 0.5h1m1.5 -2h1m1.5 0.5h1m-13.5 4h1m1 -5h1m-1 2.5h1m-4.5 0.5h1m12 -1h1m-12.5 -0.5h1m-10.5 1h1m5 0h1m-17.5 0h1m23 -2h1m-2.5 2h1m-10 -1h1m-3.5 1.5h1m7 2.5h1m3 -3h1m1.5 2.5h1m-15 2.5h1m13 -1.5h1m1.5 -1.5h1m-1 0h1m1.5 -1.5h1m-16.5 8h1m-1 -6h1m9 -2h1m-23 4.5h1m14.5 -4h1m-8.5 0h1m1 3.5h1m-6.5 1.5h1m8 -6h1m8 0.5h1m0 5h1m-12 -2.5h1m-2 6h1m-7.5 -6.5h1m11.5 1.5h1m-7.5 -2h1m7.5 1.5h1m10.5 1h1m-19 -0.5h1m-15.5 -3.5h1m5.5 0.5h1m-7 2h1m1.5 -1.5h1m24 0h1m-11.5 1h1m-18.5 2h1m20.5 -4.5h1m5 2.5h1m-17 2h1m-4.5 -0.5h1m2.5 -2.5h1m5.5 4.5h1m2.5 -1.5h1m4.5 1h1m-1 -5h1m-1 1h1m0.5 5h1m-8 -1.5h1m-23 -3h1m13 1h1m3.5 -2.5h1m-8 0.5h1m12 4.5h1m-13.5 -4.5h1m-7 3h1m23 0.5h1m-9 -3.5h1m-5.5 0h1m6.5 3.5h1m0 -1h1m-8 -1.5h1m-11.5 0h1m1.5 0h1m-6.5 0h1m11 4h1m9 -5h1m-18 0.5h1m-7.5 0.5h1m31 5h1m-26 -6h1m-9 1.5h1m14 2.5h1m1 2h1m-12.5 1.5h1m14 -5h1m-14 -0.5h1m-5 1h1m10 -1h1m4.5 -2.5h1m-15 3.5h1m9 -2h1m-5.5 0.5h1m28 6h1m-36 1h1m20 -7h1m-15.5 3.5h1m-2 -3h1m7.5 2h1m1 0h1m2.5 0h1m-10 -5h1m-10.5 4h1m-0.5 -3.5h1m9.5 7h1m0 -2h1m7 -5h1m-11 3h1m5.5 -3h1m3.5 0h1m-14.5 6h1m-17.5 -2h1m2 -4.5h1m-3.5 4h1m29.5 -1.5h1m-25.5 -1.5h1m20 2h1m-7.5 1h1m10 -3h1m-8 3.5h1m-12 -4h1m-2 5h1m2 -3h1m0 -2h1m-8.5 2.5h1m4 1h1m15.5 0h1m-14.5 4h1m-12.5 -6.5h1m23.5 -0.5h1m-14.5 3.5h1m14.5 4.5h1m-10.5 -5h1m-21 -2.5h1m13.5 -0.5h1m-15 -2h1m-5 0h1m30.5 -0.5h1m-22 2h1m-6.5 0h1m-4 3h1m18.5 -3h1m-8 0.5h1m-16.5 -3h1m23.5 8h1m-17 -3h1m17.5 3.5h1m-11.5 -3h1m0.5 2h1m-3.5 -4.5h1m6.5 2.5h1m10 5.5h1m-7.5 -11h1m-26.5 7h1m14 1.5h1m-10.5 -4h1m-5.5 1h1m2.5 1.5h1m0.5 -5.5h1m24 3h1m-8.5 -3.5h1m3 0.5h1m-6.5 0h1m-14.5 1.5h1m1.5 1h1m1 1h1m-6 -5.5h1m3.5 9.5h1m11 -2h1m-25.5 -1.5h1m6 -3h1m6.5 0.5h1m5.5 2h1m-2 -0.5h1m2 -6h1m-23 7h1m2 6.5h1m3.5 -14h1m-2 8.5h1m15.5 -2h1m7.5 -1.5h1m-12 4.5h1m-24 -7.5h1m8.5 4h1m16.5 3.5h1m3.5 -4.5h1m-12.5 -0.5h1m-10 1.5h1m-0.5 -2h1" stroke="#ec0c16" stroke-opacity="0.9" stroke-width="1" fill="none"/><path d="M110 217h1m-1.5 -1.5h1m0 0.5h1m-10.5 1.5h1m-3 -1.5h1m-18 0.5h1m3.5 -1h1m-16.5 0h1m33 0.5h1m-23.5 2.5h1m-9 -2.5h1m8.5 0h1m-1 0h1m15.5 0h1m-30.5 1h1m8.5 -0.5h1m26.5 1.5h1m-3 -1.5h1m-10 1h1m-4 -1h1m-15 0.5h1m26 -2h1m-6 1h1m-11 0h1m-15.5 0h1m1.5 -1.5h1m5.5 2.5h1m-3 -1h1m-12 0h1m13 0h1m1 0h1m-7.5 0.5h1m3 -1.5h1m-3.5 0.5h1m1 1h1m9 0h1m-6 -0.5h1m-13.5 0h1m23.5 -0.5h1m-12.5 0.5h1m-3 1.5h1m9 -2h1m1 2h1m3 -0.5h1m-2.5 -1h1m-7 1h1m1 -2h1m-24 -0.5h1m21 0.5h1m-19 1h1m-1 0h1m-6.5 0h1m10.5 0.5h1m-16.5 -2h1m25 2h1m2.5 -1.5h1m0.5 0.5h1m-27.5 0.5h1m20 -0.5h1m7 -0.5h1m-34 0.5h1m5.5 1h1m2 0.5h1m7 0h1m-13 -1.5h1m14 0h1m-9 0h1m12 1h1m-6 -2h1m5 3h1m-19 -1.5h1m18 -0.5h1m0 1h1m-1.5 0.5h1m-27.5 -0.5h1m35 0.5h1m-16.5 -0.5h1m-13.5 1h1m6 0h1m2 -1.5h1m-1 1.5h1m-12 -1h1m0 0h1m3 -1h1m16 0.5h1m-15 1h1m-17.5 -2h1m16 2h1m-11 -0.5h1m-9 0h1m40 -1.5h1m-14.5 2.5h1m3.5 -2.5h1m-2.5 -1.5h1m-4 4h1m6 -2h1m-7 0.5h1m10.5 -1.5h1m-4 0h1m-5.5 0.5h1m6 1h1m-2 0.5h1m-7.5 -3h1m6.5 3.5h1m0 -2h1m-5.5 0h1m-4.5 2h1m6.5 -1h1m-0.5 -1.5h1m-9 4h1m-5 -3.5h1m10 1.5h1m-3.5 0h1m-7.5 1.5h1m4 -2.5h1m-4.5 2h1m7.5 -2h1m-9 2h1m-3.5 -2h1m-3 0.5h1m3.5 2.5h1m8 -2h1m-12 0h1m2.5 2.5h1m6 -2.5h1m-14.5 -1.5h1m3 2h1m6.5 -2h1m-11 2.5h1m10.5 0h1m-2.5 -2h1m-10.5 0h1m5.5 1h1m-1.5 -0.5h1m0.5 -1h1m-6 2h1m0 -3.5h1m-3 2h1m-0.5 0h1m-2.5 0.5h1m9 0.5h1m-1 -2h1m-8.5 2.5h1m3.5 -1h1m-3.5 -0.5h1m-4 -1h1m0 0.5h1m7.5 1.5h1m-9.5 -1.5h1m2 1.5h1" stroke="#ec0c16" stroke-opacity="0.9" stroke-width="1" fill="none"/><path d="M99 248h1m2 -13h1m-15.5 12.5h1m6.5 1h1m-2.5 1h1m3.5 -4.5h1m-3 -3h1m-2.5 -2h1m3 -7h1m3 4h1m-5 0h1m-7.5 20.5h1m-1 -31.5h1m-3.5 9h1m14.5 5h1m-7.5 -11.5h1m-4 16h1m6.5 -13h1m-7.5 9.5h1m-9.5 -3h1m3 -22h1m3.5 27h1m-6.5 -17.5h1m9.5 15h1m-3.5 11h1m-9.5 -6h1m0.5 -8h1m0 0.5h1m5.5 1h1m-8 -3.5h1m2 -6h1m-5.5 8h1m-1.5 -0.5h1m-1 20h1m9 -14.5h1m-8.5 16.5h1m1 -22h1m-1 4h1m5 -3h1m2.5 -8.5h1m-8.5 -1h1m5 6.5h1m-11 12h1m6 -19.5h1m-9.5 -3h1m1.5 12.5h1m-3.5 -5.5h1m-1 -0.5h1m4 21.5h1m-14 -15.5h1m7 5.5h1m-4 -6h1m-1.5 8h1m5 -8h1m0.5 -1h1m-11 8h1m8.5 -7h1m2.5 13h1m-12 -19h1m13 21h1m-13 -24.5h1m-0.5 6.5h1m-6 5h1m0.5 -12h1m11 5h1m-6.5 12.5h1m4 -9h1m-5.5 -5h1m8.5 14h1m-16.5 -6h1m9 4.5h1m4.5 8.5h1m-13.5 -14h1m-5 3.5h1m6.5 -22.5h1m-5 21h1m-4 -9h1m3.5 11h1m0 -11.5h1m4 3.5h1m-7.5 -8h1m-2.5 19h1m-5.5 -6.5h1m11.5 -3h1m-3.5 -7h1m4.5 21h1m-7 -27h1m-7.5 26h1m13.5 -6.5h1m-3.5 -9h1m-8.5 6h1m2 -14.5h1m2 27h1m-12 -25.5h1m7 7h1m-15.5 13.5h1m12.5 -12h1m9 6h1m-16 -0.5h1m-2.5 -8h1m6.5 1.5h1m-5.5 21.5h1m6 -8.5h1m-2.5 -3h1m3.5 -4.5h1m1.5 -9h1m-12.5 -4h1m-1.5 18h1m8.5 -11.5h1m-8.5 3h1m-5 -8h1m3.5 -5h1m-1 16.5h1m-5 -9.5h1m-5 27.5h1m-0.5 -3h1m9 -18.5h1m-10 13.5h1m14 -19h1m-11.5 19h1m2.5 9h1m-6 -14h1m-4.5 15h1m1.5 -41h1m2.5 19.5h1m9.5 -1.5h1m-11 8.5h1m7.5 -6h1m-4 5.5h1m-8 -4.5h1m0.5 -9h1m5.5 -4.5h1m-1.5 22h1m-7.5 -16.5h1m-1.5 12h1m4 -2h1m0.5 -8h1m-5.5 -9.5h1m2 16.5h1m-7 9.5h1m4.5 -38h1m-4.5 13h1m-3.5 14.5h1m0 3h1m4 8.5h1m-9.5 3h1m-1 -12.5h1m10 4.5h1m-12 -13.5h1m1.5 6h1m7.5 -12h1m-4.5 18.5h1m-0.5 -1.5h1m4 0h1m-4.5 1h1m4 -23.5h1m-3.5 15.5h1m-9.5 -6.5h1m-9.5 5.5h1m5.5 8h1m-5.5 9h1m8.5 -16h1m-6.5 -5h1m-3 2.5h1m5 3.5h1m-8.5 -1h1m2 4h1m13.5 4.5h1m-12.5 -21.5h1m-7 -0.5h1m10.5 8.5h1m-4.5 1.5h1m-1 19.5h1m-5 -16.5h1m-2 11.5h1m-2 -19.5h1m-3 -2.5h1m1 22.5h1m6 -19.5h1m-4 8.5h1m-3 20.5h1m-7.5 -15h1m11 -9h1m-2 14h1m-1 -4.5h1m1.5 -23.5h1m3.5 41h1m-4 -12h1m-13.5 -10.5h1m2 -4.5h1m8.5 -2h1m-6.5 -10.5h1m-1.5 19h1m-3.5 -8h1m12.5 -4.5h1m-16.5 4h1m11 27.5h1m-5.5 -27h1m-5.5 17h1m-3.5 4h1m11.5 -13.5h1m-5 6.5h1m3.5 -17h1m-2.5 6.5h1m-11.5 4.5h1m2 -10.5h1m-8.5 0.5h1m15 27.5h1m-5 -7h1m-7 -12h1m3 -10h1m-7.5 11.5h1m2.5 -11h1m2.5 7.5h1m2.5 2.5h1m-8 1h1m-0.5 -7.5h1m-2 13.5h1m4.5 5h1m-13.5 -15.5h1m6 5h1m-1.5 -6.5h1m5.5 6.5h1m-11 11h1m10.5 -18h1m-2 -1.5h1m0.5 5h1m-11.5 -1.5h1m-0.5 5.5h1m4 -1.5h1m-5 -35.5h1m2.5 17h1m0 28.5h1m-1 -14h1m-3.5 2h1m-3 -4h1m-3 17h1m4 -2.5h1m-2.5 -8.5h1m-0.5 4h1m4.5 -2h1m-9 -10h1m11.5 5h1m-11.5 16.5h1m6.5 -9h1m-5 0h1m-4 -18.5h1m-7 17.5h1m8 -6.5h1m-9 -11h1m3.5 -0.5h1m5.5 25h1m9 -2.5h1m-19 -17h1m-16.5 3h1m16.5 14.5h1m3 -3.5h1m-3 1h1m5.5 -16.5h1m-11 -3h1m10 25.5h1m-5.5 -24h1m-4 9.5h1m-1.5 0h1m1.5 -2h1m0.5 6.5h1m-7 -3.5h1m-2 8.5h1m0 -4.5h1m-1.5 -17h1m6 4h1m-2.5 14h1m-13.5 -13h1m5.5 1h1m-5 15h1m4 -3.5h1m-2 -0.5h1m-2.5 -3.5h1m6 1h1m-6.5 -11h1m2.5 14h1m-3.5 -11h1m-1 10.5h1m2.5 -27.5h1m-2.5 18h1m6 4h1m-12.5 0.5h1m4 -3.5h1m-2.5 -7.5h1m-1.5 20.5h1m10.5 -1h1m-10 4.5h1m3 5h1m-1 -17h1m-5 2.5h1m-1 0.5h1m-6.5 -22h1m-0.5 1h1m3 19h1m-10.5 6.5h1m12.5 -5.5h1m3.5 17h1m-16.5 -8h1m8 -6h1m1.5 -11h1m-9 -1h1m-2 7h1m-4.5 -9h1m9.5 9.5h1m-2 -17.5h1m-7 12.5h1m3 0h1m4 5h1m-6 0.5h1m3 -4.5h1m1 9h1m-6 -4h1m1 9h1m1 -6h1m-1.5 -2.5h1m1 -1.5h1m-18.5 13h1m10.5 -23.5h1m-2.5 2.5h1m11 13h1m-20.5 0.5h1m5.5 13h1m-4.5 -39.5h1m5 18h1m-3.5 -17h1m3.5 36.5h1m-13.5 -5h1m11.5 -13h1m2.5 7h1m-10 1.5h1m-0.5 -23.5h1m12.5 13.5h1m-15 6.5h1m-6.5 -16h1m5 8h1m2 15.5h1m-4 -6h1m4.5 -15h1m-3 1.5h1m3.5 13.5h1m-6.5 -17h1m-0.5 5h1m2 6.5h1m-9 10h1m7.5 -14.5h1m1 2.5h1m-8.5 4h1m-3.5 -5h1m2 18.5h1m8 -17h1m-0.5 2h1m-7.5 9h1m-1.5 -20h1m4.5 7.5h1m-9.5 -24.5h1m6 36.5h1m-2.5 1.5h1m4 -10h1m-5 -6.5h1m-8 17h1m3 -22.5h1m-1 11h1m-7.5 5.5h1m1.5 -19h1m-5 32h1m-3 -15h1m10 4h1m-10.5 -9h1m6 10.5h1m-5 -18.5h1m8 21.5h1m-4.5 -16.5h1m-1 7h1m1.5 -13h1m-5 10.5h1m-7.5 3.5h1m5 -6h1m1 -9.5h1m-3.5 17.5h1m1 6h1m-9 -24.5h1m7 19h1m8.5 1.5h1m-16.5 1.5h1m-1 -21.5h1m17.5 17h1m-11 2.5h1m4.5 -3h1m-4 -12.5h1m-15 23.5h1m14.5 -8.5h1m-8 -3.5h1m-5.5 13h1m6 -9.5h1m-2.5 5h1m-0.5 -3h1m-9.5 -2h1m16.5 -10h1m-13 13.5h1m4.5 -2.5h1m-14.5 -1h1m1 -13h1m8.5 5h1m0 10h1m-9.5 -13h1m-2 1h1m-1.5 -1.5h1m4 -3h1m-7.5 -3.5h1m9 13.5h1m2 9.5h1m-8.5 -3.5h1m-6.5 15h1m13 -23.5h1m-13.5 5.5h1m-5 -11h1m13 8h1m-7.5 8.5h1m-4 -6.5h1m2 -10.5h1m4 -1.5h1m6.5 4h1m-0.5 -5h1m-8.5 -1h1m-11 13h1m9.5 -13.5h1m2 4.5h1m-7 11h1m1.5 -20.5h1m4.5 22.5h1m-12 -15h1m-7.5 -3.5h1m11 10h1m-10 -2h1m13.5 2h1m-12.5 16h1m4.5 -12.5h1m-6.5 -15h1m-4 10h1m4 8h1m3 -1.5h1m-3 -11.5h1m-13.5 4.5h1m5.5 -1h1m2.5 -6h1m-5.5 11h1m5.5 -5h1m1 4h1m-9 2.5h1m14.5 -7h1m-5 19.5h1m1 -21h1m1.5 9h1m-13 -3h1m3.5 2.5h1m-5 11.5h1m-4 -22h1m7 16.5h1m1 -16.5h1m-1.5 14.5h1m3 -16.5h1m-9.5 9.5h1m-10.5 -4.5h1m13.5 2.5h1m-11 12.5h1m8 1.5h1m-10 -10h1m8.5 -5.5h1m-10.5 14h1m11.5 -19h1m-23.5 -3h1m7.5 12.5h1m8 0h1m-8 3h1m-2.5 -2h1m8.5 -7.5h1m-11 4h1m-4 -3h1m3.5 15.5h1m0.5 -16h1m-5.5 -3.5h1m5.5 9h1m5.5 -4h1m-1.5 8.5h1m-6.5 -21.5h1m-8 26h1m13.5 -5h1m-4.5 -6h1m-7 -2.5h1m6 10h1m-7 -6.5h1m3 6h1m-8.5 13.5h1m5 -16.5h1m5.5 9.5h1m-9.5 -4.5h1m-6 -11h1m-7.5 17.5h1m1 -5h1m4.5 -16h1m2.5 12h1m3 14.5h1m-2 -8.5h1m-6 -1.5h1m3 -11.5h1m-2.5 4h1m0.5 4.5h1m-4.5 -11h1m5.5 -9h1m-8.5 30.5h1m-12 -21h1m17 -9h1m9.5 -9h1m-7.5 39.5h1m-3.5 -17h1m-4 -6.5h1m1.5 -2h1m-7 20h1m-5.5 -13h1m6 -9h1m4 15.5h1m-15 -3.5h1m3 -5.5h1m3.5 -0.5h1m3.5 0h1m-1 6h1m-1.5 -4.5h1m-8 -6h1m4.5 20h1m7 3.5h1m-10.5 -14.5h1m-0.5 1.5h1m5 9.5h1m-13.5 -15.5h1m10.5 9.5h1m-9 8.5h1m-2 -14h1m-1.5 -16h1m6 7h1m-8.5 4.5h1m6 6.5h1m-5 -15.5h1m-1.5 2h1m1 17.5h1m-2.5 16h1m2 -14h1m-3 -7.5h1m3 12.5h1m-13 -0.5h1m8.5 -1h1m-1 -21h1m-9.5 29.5h1m6.5 -31h1m-0.5 10h1m-13 -18.5h1m0.5 24.5h1m7 -5h1m1 8h1m-13.5 -8.5h1m5.5 -8.5h1m0.5 10.5h1m0.5 -13h1m-2 33h1m-4 -35h1m6 21.5h1m0 -16h1m2 3h1m-12.5 1.5h1m4.5 13h1m3 -7h1m0.5 1h1m-1.5 -14.5h1m-14 21h1m0 -10.5h1m6 -1.5h1m-3 17.5h1m-12 -4.5h1m24.5 -8.5h1m-13 7h1m8.5 -18.5h1m-10 9.5h1m1.5 3.5h1m-0.5 -5.5h1m-4 -2.5h1m-5 5h1m1.5 -9.5h1m8.5 9.5h1m-17 12h1m2.5 -5.5h1m3 -2.5h1m0 -8h1m-2 25h1m-13 -19h1m13.5 -10.5h1m-11 30.5h1m4.5 -0.5h1m4 -19.5h1m-1.5 5.5h1m3 -2h1m-6.5 -2.5h1m5 6.5h1m-13.5 -14h1m6.5 0h1m-5 -3h1m-0.5 13h1m6 -4h1m4.5 -0.5h1m5 10h1m-15.5 -14h1m-18.5 3h1m15 20h1m-9.5 -0.5h1m5 -11h1m-13 -5.5h1m10.5 5h1m1.5 -17.5h1m3.5 17.5h1m-3 3h1m2 -9.5h1m-14 -13h1m13 19.5h1m-7.5 -10.5h1m-1.5 4h1m-3 -6.5h1m12.5 8.5h1m-15.5 -14.5h1m-2 19.5h1m7 -9h1m-4.5 -1h1m-7.5 15.5h1m1 -14h1m7.5 -1h1m-13 -6.5h1m7 12.5h1m-2 6h1m7 -2.5h1m-9 -5.5h1m3.5 11.5h1m-5 -4.5h1m-4 -18.5h1m-6.5 21.5h1m10.5 8.5h1m-4 -7.5h1m9 1.5h1m-16.5 -12h1m5 -8h1m2 20h1m-7.5 -12h1m-0.5 -5h1m4.5 7h1m9 6h1m-10 -8h1m-17 1h1m3.5 10.5h1m6 7h1m5 -8h1m-5 -6.5h1m2 7h1m-11.5 -4h1m25.5 -6h1m-24 -6h1m-10.5 19h1m11 -9h1m-8.5 7.5h1m11 -6.5h1m-2 -4h1m7.5 6h1m-10.5 6.5h1m3 -8h1m-5.5 13h1m0.5 -18.5h1m-12 -2.5h1m-2.5 4.5h1m9.5 -21.5h1m-3 27h1m0.5 -16h1m7.5 2.5h1m-21 -4h1m9 21h1m8.5 -8h1m-20 -8.5h1m1.5 4.5h1m-8 3h1m18 -2.5h1m-2.5 -8h1m-16 3h1m20 17h1m-14 1.5h1m0 3h1m5.5 -19.5h1m1.5 -3h1m-15 -7h1m8.5 14h1m-3.5 -3.5h1m11 0h1m-18.5 16.5h1m16.5 -9h1m-26.5 -9.5h1m18 6h1m6.5 -13.5h1m-8 7h1m4 5.5h1m-3.5 -5.5h1m-20.5 -4.5h1m5.5 1h1m13.5 23.5h1m-8.5 -24h1m-4 3.5h1m11.5 10h1m-8.5 -7h1m-21 -3.5h1m6 11h1m9 -11.5h1m-5 23.5h1m-5.5 -24.5h1m4.5 2h1m-2.5 12.5h1m16.5 -23.5h1m-15 18.5h1m-1.5 -2.5h1m-3 12h1m-2 -11.5h1m2.5 2.5h1m-2.5 9h1m0.5 -8.5h1m-1.5 -11.5h1m-7 -0.5h1m7 3.5h1m-11 9.5h1m11.5 -20h1m8.5 18h1m-15.5 10h1m0.5 -16.5h1m16 -4.5h1m-19.5 19h1m-8.5 -9.5h1m0.5 0.5h1m11.5 1.5h1m-16 3h1m9.5 0.5h1m7 5.5h1m-6.5 -7h1m-13.5 -4.5h1m10 -2.5h1m-2 -4.5h1m-5 12.5h1m0 8.5h1m4.5 -11.5h1m-6.5 0.5h1m-7 5.5h1m1.5 -1.5h1m5.5 5.5h1m-2 -1h1m-8.5 -4h1m4.5 -4h1m1.5 7.5h1m-17.5 -6.5h1m3 9h1m-5 -22h1m1.5 26.5h1m2 -15.5h1m5 -19h1m1 24.5h1m0 3h1m-2.5 -9.5h1m-1 3.5h1m17 0h1m-14.5 -9.5h1m-8.5 20.5h1m-4 -23.5h1m7 4.5h1m15.5 -19h1m-13.5 30.5h1m-13 -13.5h1m11.5 23h1m-12 -32.5h1m14.5 31h1m-11.5 -37h1m13 20h1m-3.5 1.5h1m-13 -4h1m14 19h1m-30 -24h1m30 6h1m-26 3.5h1m9 -1h1m-4 -2h1m-0.5 6.5h1m-4 -6.5h1m4.5 16h1m3 -14h1m0.5 5h1m3 1h1m5 8.5h1m-16 -17.5h1m6.5 9h1m-9 -20h1m-14.5 18.5h1m19.5 4.5h1m-17.5 2.5h1m5 -6.5h1m7 -12h1m-9 -12.5h1m-4 2.5h1m10 18.5h1m3 3h1m-13.5 0h1m1 2.5h1m4.5 -16h1m-3.5 10.5h1m-3.5 8.5h1m15 -12.5h1m-17.5 -19h1m1 18h1m-17.5 7.5h1m21 -10.5h1m-8.5 -2h1m8 -5.5h1m-6.5 19.5h1m-2.5 -16h1m-0.5 15.5h1m-8.5 -0.5h1m17 7h1m-23.5 -20.5h1m-1.5 20.5h1m17 -3.5h1m-13 -18.5h1m6.5 12.5h1m-8.5 0.5h1m11 1h1m-14.5 -23.5h1m5.5 22.5h1m-1 -6h1m-4.5 11.5h1m4 -6h1m-8.5 -7h1m8.5 -4h1m-12.5 6.5h1m18.5 5.5h1m1 -3.5h1m-15 -12.5h1m-3 28.5h1m6 -7h1m2 -7.5h1m-8 1h1m6 3.5h1m-2.5 -3h1m-11 -4h1m-2.5 12.5h1m-10.5 -12h1m35 -1.5h1m-29 3.5h1m18.5 -1.5h1m-6.5 2.5h1m-5.5 -6.5h1m-5.5 9.5h1m6.5 3.5h1m-3.5 -22h1m2.5 11.5h1m-8 -12h1m-3 7.5h1m3 -7h1m0 15.5h1m-10.5 -7h1m1 15h1m-14 -12.5h1m5.5 -1h1m19.5 -2h1m-7 -2h1m13.5 17.5h1m-7.5 -22.5h1m-19 24.5h1m6.5 -13.5h1m3 -10h1m2.5 12.5h1m-3 -6.5h1m-1 -0.5h1m2.5 18.5h1m-1 -6.5h1" stroke="#ec0c16" stroke-opacity="0.85" stroke-width="1" fill="none"/><path d="M43.5 213.5h1m77.5 1h1m-47.5 36.5h1m39 -15.5h1m-76 -9h1m3 20h1m2.5 7.5h1m66 -42h1m-42 47h1m34.5 -55h1m-13.5 33.5h1m-51 -19.5h1m21.5 -1h1m-3.5 13.5h1m9 6.5h1m24 -9.5h1m-56 15.5h1m68 13h1m-38 -43.5h1m-10 4h1m26 20.5h1m-35.5 -11h1m35 -5.5h1m-25.5 11h1m4 10.5h1" stroke="#ec0c16" stroke-opacity="0.4" stroke-width="1" fill="none"/><ellipse cx="54.8" cy="216.8" rx="19.3" ry="12.9" fill="none" stroke="#000" stroke-width="1.55"/><path d="M35.8,272 H123.3 V325.5" stroke="#7a7a7a" stroke-width="0.8" fill="none"/><path d="M35.8,272 V325.5 H123.3" stroke="#333" stroke-width="0.9" fill="none"/><path d="M35.8,325.5v2M35.8,325.5h-2M42.4,325.5v1.2M35.8,321.5h-1.2M46.2,325.5v1.2M35.8,319.1h-1.2M49.0,325.5v1.2M35.8,317.4h-1.2M51.1,325.5v1.2M35.8,316.2h-1.2M52.8,325.5v1.2M35.8,315.1h-1.2M54.3,325.5v1.2M35.8,314.2h-1.2M55.6,325.5v1.2M35.8,313.4h-1.2M56.7,325.5v1.2M35.8,312.7h-1.2M57.7,325.5v2M35.8,312.1h-2M64.3,325.5v1.2M35.8,308.1h-1.2M68.1,325.5v1.2M35.8,305.7h-1.2M70.8,325.5v1.2M35.8,304.1h-1.2M73.0,325.5v1.2M35.8,302.8h-1.2M74.7,325.5v1.2M35.8,301.7h-1.2M76.2,325.5v1.2M35.8,300.8h-1.2M77.4,325.5v1.2M35.8,300.0h-1.2M78.5,325.5v1.2M35.8,299.4h-1.2M79.5,325.5v2M35.8,298.8h-2M86.1,325.5v1.2M35.8,294.7h-1.2M90.0,325.5v1.2M35.8,292.4h-1.2M92.7,325.5v1.2M35.8,290.7h-1.2M94.8,325.5v1.2M35.8,289.4h-1.2M96.6,325.5v1.2M35.8,288.3h-1.2M98.0,325.5v1.2M35.8,287.4h-1.2M99.3,325.5v1.2M35.8,286.7h-1.2M100.4,325.5v1.2M35.8,286.0h-1.2M101.4,325.5v2M35.8,285.4h-2M108.0,325.5v1.2M35.8,281.3h-1.2M111.9,325.5v1.2M35.8,279.0h-1.2M114.6,325.5v1.2M35.8,277.3h-1.2M116.7,325.5v1.2M35.8,276.0h-1.2M118.4,325.5v1.2M35.8,275.0h-1.2M119.9,325.5v1.2M35.8,274.1h-1.2M121.2,325.5v1.2M35.8,273.3h-1.2M122.3,325.5v1.2M35.8,272.6h-1.2" stroke="#555" stroke-width="0.6" fill="none"/><text x="36.6" y="332.5" font-size="5.2" text-anchor="middle" font-family="'Liberation Serif', serif" fill="#6a6a6a">10<tspan font-size="3.8" dy="-2">0</tspan></text><text transform="translate(33.6,325.5) rotate(-90)" font-size="5.2" text-anchor="middle" font-family="'Liberation Serif', serif" fill="#6a6a6a">10<tspan font-size="3.8" dy="-2">0</tspan></text><text x="58.5" y="332.5" font-size="5.2" text-anchor="middle" font-family="'Liberation Serif', serif" fill="#6a6a6a">10<tspan font-size="3.8" dy="-2">1</tspan></text><text transform="translate(33.6,312.1) rotate(-90)" font-size="5.2" text-anchor="middle" font-family="'Liberation Serif', serif" fill="#6a6a6a">10<tspan font-size="3.8" dy="-2">1</tspan></text><text x="80.3" y="332.5" font-size="5.2" text-anchor="middle" font-family="'Liberation Serif', serif" fill="#6a6a6a">10<tspan font-size="3.8" dy="-2">2</tspan></text><text transform="translate(33.6,298.8) rotate(-90)" font-size="5.2" text-anchor="middle" font-family="'Liberation Serif', serif" fill="#6a6a6a">10<tspan font-size="3.8" dy="-2">2</tspan></text><text x="102.2" y="332.5" font-size="5.2" text-anchor="middle" font-family="'Liberation Serif', serif" fill="#6a6a6a">10<tspan font-size="3.8" dy="-2">3</tspan></text><text transform="translate(33.6,285.4) rotate(-90)" font-size="5.2" text-anchor="middle" font-family="'Liberation Serif', serif" fill="#6a6a6a">10<tspan font-size="3.8" dy="-2">3</tspan></text><text x="124.1" y="332.5" font-size="5.2" text-anchor="middle" font-family="'Liberation Serif', serif" fill="#6a6a6a">10<tspan font-size="3.8" dy="-2">4</tspan></text><text transform="translate(33.6,272.0) rotate(-90)" font-size="5.2" text-anchor="middle" font-family="'Liberation Serif', serif" fill="#6a6a6a">10<tspan font-size="3.8" dy="-2">4</tspan></text><path d="M63.5 288h1m-0.5 -0.5h1m-4.5 -1h1m-15 -2h1m15 1.5h1m-6 0.5h1m-17.5 -3h1m22.5 2h1m-22 1h1m12 -1h1m-0.5 2h1m5 -0.5h1m-8 -3h1m8.5 1.5h1m-28.5 -1.5h1m-2 2h1m4 -2h1m10.5 2.5h1m-6 -0.5h1m-11 0.5h1m2.5 -1.5h1m10.5 -2h1m-6.5 5h1m10 -3h1m-10 2.5h1m11.5 -1.5h1m-4.5 0h1m-9 2h1m-5.5 -2.5h1m-5 2h1m1.5 -4.5h1m0.5 3.5h1m-0.5 -1.5h1m-6.5 0h1m7.5 0h1m-11.5 0.5h1m21.5 2h1m-10.5 -5h1m-14.5 3h1m6 -1.5h1m-3.5 3h1m-4 -2.5h1m9 1.5h1m-10 -1.5h1m-2 1.5h1m15.5 0.5h1m-9 -2h1m6 1h1m-7 -2.5h1m0 2.5h1m-6.5 1h1m2.5 -2h1m0.5 2.5h1m-5 -5h1m13.5 0.5h1m-18.5 0.5h1m-2 1.5h1m3 0.5h1m12 0h1m1 0h1m-9.5 1.5h1m-7 -2h1m7.5 -1h1m4.5 0h1m-18.5 5h1m11.5 -7h1m0.5 3.5h1m-11 2.5h1m-8 -1.5h1m12.5 -2h1m-12.5 1h1m3.5 1.5h1m4.5 0.5h1m11.5 -3h1m-25.5 2.5h1m-3.5 -1h1m13 1.5h1m11.5 0.5h1m-28 -3h1m17 -1.5h1m-19.5 3h1m14.5 2h1m-14 -2h1m15.5 -0.5h1m-10 3.5h1m7.5 -5.5h1m-13 3h1m-6.5 -2h1m2.5 1h1m1.5 0h1m-4 2h1m0 -3.5h1m9.5 0.5h1m-4.5 -1.5h1m11 3h1m-11 -1.5h1m0 1.5h1m4.5 -2.5h1m3 1h1m-9 2.5h1m-17.5 -2h1m12 1h1m-14 0h1m16 -1.5h1m-17 -1.5h1m13 3.5h1m-12.5 -1h1m20 1h1m-23.5 -4.5h1m16 0.5h1m0 -0.5h1m-13.5 2h1m8.5 3h1m-9 -1h1m-3 -1h1m-1 0.5h1m-8.5 1h1m18.5 -2h1m-19 1.5h1m3 -0.5h1m-4.5 -3.5h1m20.5 2.5h1m-9 2.5h1m-3 -2.5h1m2.5 0.5h1m5.5 -0.5h1m-6.5 0h1m-4 2.5h1m-7 -2h1m5 -1.5h1m13 -3h1m-13.5 4h1m-3.5 -2.5h1m11 0.5h1m-26 4h1m-0.5 0h1m20.5 -4h1m4 4h1m-28 -0.5h1m-2 -2h1m16 -1h1m-14.5 0.5h1m12 -0.5h1m2 0.5h1m-20.5 3h1m24.5 -3.5h1m-19.5 0.5h1m8 0.5h1m-7 1.5h1m-1 -1h1m0.5 2h1m0 -3h1m-6 1h1m1.5 1h1m-6.5 -1.5h1m4 1.5h1m10 2.5h1m7.5 -3.5h1m-24.5 1h1m19 1.5h1m-8.5 -3h1m-16.5 0h1m-3.5 -0.5h1m25 2.5h1m-20.5 0h1m-5 -1h1m15.5 0h1m0.5 2h1m5 -0.5h1m-13 -3.5h1m-6.5 2h1m-1 0.5h1m-4.5 0.5h1m12 -1h1m8.5 -1h1m-27 0.5h1m8 -2h1m-2 2.5h1m-9 -0.5h1m14.5 1.5h1m10.5 -2.5h1m-22 1h1m12.5 -1h1m4 0h1m-20 2.5h1m18.5 -1.5h1m-6 1.5h1m-4 -2.5h1m-14.5 2h1m1.5 -3h1m-6.5 2h1m23 0h1m-3.5 1.5h1m-23 -0.5h1m12.5 -0.5h1m-10.5 1.5h1m15.5 -1h1m-7 0.5h1m10.5 0.5h1m-7.5 -1.5h1m-20 -0.5h1m7 1h1m5.5 -1h1m9 1h1m-17.5 1.5h1m-6.5 -0.5h1m2 -2h1m-2 -1.5h1m-4 2h1m5 0h1m-4 2h1m7 -2.5h1m10.5 0.5h1m0.5 1h1m-24.5 -1.5h1m11 0.5h1m2 2.5h1m-16.5 0h1m10.5 -1.5h1m-11 -0.5h1m4 -2h1m-2.5 2.5h1m14 -1h1m-18.5 0.5h1m8 -1h1m0.5 0.5h1m-8.5 0h1m17 0.5h1m-19 2h1m-1 -2h1m10 -3h1m-7.5 1h1m6 -0.5h1m-18 1h1m-1 2h1m16.5 -0.5h1m-11.5 -1.5h1m13 1.5h1m-19.5 -1.5h1m-1 -1h1m18 0h1m-16 1h1m-8.5 3.5h1m2 -4.5h1m15.5 4h1m-16 0h1m7.5 -2h1m7.5 0h1m-7.5 -1h1m3 1h1m6 1h1m-21.5 -1h1m16.5 1.5h1m-11 0.5h1m-11.5 -1.5h1m-3 0h1m5 -0.5h1m-7 0.5h1m18 -2h1m-7.5 2h1m-16 0h1m24 -1.5h1m-9.5 4.5h1m-5.5 -5h1m-10.5 0.5h1m9 1.5h1m12.5 -3.5h1m-11 2h1m-4.5 -1h1m3 0.5h1m-2.5 1.5h1m1 0.5h1m-13.5 1.5h1m-2.5 -0.5h1m-5 0.5h1m23.5 -1h1m-18.5 1h1m9 -2.5h1m-3.5 -0.5h1m11 3.5h1m-21.5 -1h1m-4 -1h1m0.5 0.5h1m9 0.5h1m-7.5 -3.5h1m4 2h1m6 -1.5h1m-12 2h1m9.5 -1.5h1m-20.5 3h1m15 -1h1m9.5 -2h1m0 1h1m-12 -1.5h1m11.5 1.5h1m-23.5 1h1m1 -0.5h1m3.5 -3.5h1m1 2.5h1m8 1.5h1m-12 -0.5h1m-13 1.5h1m18.5 -4h1m-15.5 3h1m19 -2h1m-21 1.5h1m1.5 0h1m-6 0.5h1m4 -2h1m8 1.5h1m-11 -2h1m-7.5 -0.5h1m15 3h1m3.5 -1h1m-19.5 -2.5h1m8 1.5h1m-11.5 1h1m-2.5 2.5h1m9.5 -1h1m-3.5 0h1m17 -4h1m-27 2.5h1m18 1h1m1.5 -0.5h1m-10.5 0h1m1.5 -0.5h1m-8.5 2.5h1m-1 0h1m-7 -2.5h1m24.5 -1.5h1m-27 4.5h1m2 -3.5h1m16.5 2.5h1m-9 1h1m1 -4.5h1m-7.5 2h1m-5 -1h1m18 1.5h1m-21.5 -0.5h1m4.5 2.5h1m12.5 -2h1m-14.5 -1h1m18.5 2h1m-24 -2.5h1m9.5 0h1m-1 4h1m-2 -4.5h1m7 0.5h1m-22.5 0.5h1m14 -1.5h1m6 -1.5h1m-23 4.5h1m14 -2.5h1m-4.5 0.5h1m-2 0h1m3 -1h1m1.5 0h1m1.5 2h1m5 3h1m-8.5 -2.5h1m9.5 0h1m-11 -3h1m-13 2h1m-4.5 -1.5h1m-3.5 3h1m5 -1.5h1m-5.5 0h1m16 0h1m-1 -1h1m-3 -1h1m-8 3h1m1.5 -3h1m-7 0.5h1m18.5 1h1m-28 -0.5h1m8 1.5h1m6.5 1h1m-12.5 -1h1m19 0h1m-12 -0.5h1m-4.5 1.5h1m-10 -4h1m5.5 3h1m8 -2h1m-10 0h1m-8 1.5h1m15 -0.5h1m-9.5 1.5h1m15.5 1h1m-5.5 -5.5h1m-0.5 3.5h1m4 3h1m-3 -1.5h1m-15.5 1h1m6 -2h1m-10 -2.5h1m-3 0.5h1m-1 2.5h1m-3.5 0.5h1m2.5 -2.5h1m-1.5 0.5h1m12.5 1h1m-13.5 -3h1m-7 2h1m10 3h1m-7.5 1h1m13.5 -3.5h1m-15 3h1m9 -3.5h1m-12 -0.5h1m8 -2h1m10.5 4.5h1m-18 -2h1m6 4h1m-4 -3h1m-12 0h1m-2.5 -3h1m6.5 2.5h1m17.5 1h1m-12.5 -2h1m12.5 4h1m-7 1h1m5 -3h1m-3 6h1m2.5 -11h1m-21.5 4h1m1.5 6.5h1m8.5 -7h1m-2.5 -4h1m5.5 10h1m0 -3h1m-18 -5.5h1m-7.5 6.5h1m20 -6h1m-2.5 -1h1m-15 4h1m-8.5 -1h1m-2 -2h1m6.5 2h1m0 -2h1m-3.5 3.5h1m-6.5 0h1m3.5 2h1m5 -3.5h1m-10 -3h1m3 0h1m7 3.5h1m13 6h1m-0.5 -2.5h1m-16.5 -4.5h1m-10.5 5h1m3.5 -7h1m13 7h1m-10 -4.5h1m4.5 4h1m4.5 -0.5h1m-3.5 -3h1m5.5 2h1m-27 -4.5h1m6 3h1m-10 4h1m15.5 9.5h1m2.5 -11h1m-13.5 -2h1m-7.5 -3.5h1m13 6.5h1m-11.5 -8.5h1m0 3h1m5.5 3.5h1m18 -5h1m-21 9h1m11 -1.5h1m-12.5 -5.5h1m0.5 0h1m-10 -2.5h1m0.5 0h1m18.5 6h1m-12.5 0.5h1m-6 -1h1m23 -0.5h1m-4.5 -2.5h1m-22 3h1m5 -6h1m3.5 5h1m-15 4.5h1m8 -0.5h1m-6 -5.5h1m17 0.5h1m-25.5 5.5h1m29.5 1h1m-26.5 -10.5h1m2.5 3.5h1m-10 2h1m27.5 3.5h1m-4 -7h1m-26.5 5h1m14.5 -3h1m-5.5 8.5h1m6 -6.5h1m-10 -1.5h1m20 -0.5h1m-26 4h1m19.5 -1h1m-20 -5.5h1m12 4h1m-8.5 -5h1m2.5 2h1" stroke="#e23a48" stroke-opacity="0.75" stroke-width="1" fill="none"/><path d="M87 286h1m15.5 -2h1m-12 1h1m-10.5 2h1m26.5 -1h1m-36.5 -2h1m32 2.5h1m2 -0.5h1m-7 -0.5h1m-12 0h1m-0.5 -0.5h1m13 -1h1m-23.5 0.5h1m17 1h1m-3.5 -0.5h1m3 1.5h1m-20 -2h1m8.5 -1.5h1m-27 1.5h1m-1.5 0.5h1m0.5 0.5h1m28 -0.5h1m-18.5 -1h1m24.5 2.5h1m-39.5 -2h1m3.5 1h1m29.5 -1h1m-20.5 -0.5h1m-10 2h1m25 -3.5h1m-26 1.5h1m33 1.5h1m-33.5 -1h1m26 1h1m-18.5 -0.5h1m20 -0.5h1m-30.5 2.5h1m28 -2h1m-29.5 0h1m5.5 -1h1m7.5 0.5h1m-4.5 1h1m4.5 0h1m0 -0.5h1m-20.5 -0.5h1m-13 1h1m32 -2h1m-7 1h1m-2.5 0.5h1m-4 -1h1m18.5 1h1m-30 -0.5h1m27.5 0h1m-35.5 2h1m23.5 -1h1m10.5 0.5h1m-37.5 -1h1m27.5 1h1m-24 -0.5h1m-11 0.5h1m16.5 1h1m11 -2h1m-20 0h1m29.5 0h1m-44.5 -3h1m11.5 1.5h1m2 1.5h1m0.5 0.5h1m-4 -1h1m-14 1.5h1m7.5 0h1m1.5 -1.5h1m18 2h1m-14.5 0h1m14.5 -1h1m-13.5 -1.5h1m-6 2.5h1m-9 -1.5h1m2 -0.5h1m30 0.5h1m-21.5 -0.5h1m-7.5 1.5h1m-5.5 -0.5h1m29.5 0.5h1m-9 -0.5h1m-1.5 -1h1m4 0.5h1m-27 1h1m21.5 -1.5h1m-31 3h1m39 -3h1m4.5 -1.5h1m0.5 -0.5h1m-12 4.5h1m2.5 -2h1m-0.5 -0.5h1m0.5 0h1m4 -0.5h1m-5 3h1m-5 -2h1m3.5 2.5h1m-5 -2.5h1m1.5 -2.5h1m-6.5 3.5h1m5 -1h1m-2.5 0h1m1.5 2h1m-2 -2h1m-1 1.5h1m1 -1h1m-9 -1h1m7.5 1.5h1m-3 -1.5h1m0 2h1m-5 0h1m-5 -1h1m10 0.5h1m-2 0h1m0.5 -1h1m-7.5 1.5h1m4.5 -1.5h1m-1 1h1m-5.5 -1.5h1m3.5 1h1m-2 0.5h1m-10 -1.5h1m-1 0.5h1m3 -0.5h1m0.5 1.5h1m0.5 -1.5h1m-2 1.5h1m3 1h1m-2 -1.5h1m-10 -2h1m2 2h1m6 1h1m-2.5 -1.5h1m-11 1.5h1m7 -0.5h1m-7.5 0h1m4 -1h1m5.5 -0.5h1m-13 0.5h1m8.5 0.5h1m-5 0.5h1m5 0h1m-2.5 -1h1m-11 0.5h1m6.5 0h1m1.5 -2h1m-8.5 1h1m4.5 0h1m-6.5 0.5h1m-2 0h1m1 0h1m-1.5 -0.5h1m7.5 1.5h1m-10.5 -0.5h1m1.5 -2h1m0 2h1" stroke="#ec0c16" stroke-opacity="0.85" stroke-width="1" fill="none"/><path d="M93 322.5h1m11.5 -10.5h1m4 10h1m-6 -1.5h1m7 -3h1m-4.5 5.5h1m-0.5 -12.5h1m-3.5 10h1m-4.5 -4h1m5 3h1m-8.5 2h1m-0.5 -25.5h1m-1 25.5h1m1 -29h1m-14.5 20h1m17.5 6.5h1m2 1.5h1m-7 -27.5h1m2 27.5h1m-5.5 -10h1m-0.5 -16.5h1m5 12.5h1m-3.5 13h1m-1.5 -25h1m-15.5 29.5h1m16 -30.5h1m-11 11.5h1m-3.5 3h1m15.5 -14h1m-19.5 29.5h1m-2 -3h1m12.5 -19.5h1m-33 22.5h1m24 -14.5h1m7.5 1h1m-15 7h1m1 -21.5h1m12 -7.5h1m2 36.5h1m-1.5 -15h1m-18.5 12h1m14 -9h1m-6.5 -17.5h1m-6.5 18.5h1m5 -12.5h1m0 -5h1m-2 -2.5h1m-7 17h1m7 -3h1m-0.5 5h1m2.5 12h1m-14 -2.5h1m-1 -3h1m12.5 -13.5h1m-6.5 17h1m3.5 -2h1m-10.5 -5.5h1m4 -10h1m1 -2.5h1m-22 9.5h1m3 -7.5h1m3.5 17.5h1m12.5 -9h1m-2.5 4.5h1m-4.5 4h1m-11 -4.5h1m12.5 -17h1m0 9h1m-9.5 15.5h1m3.5 -32.5h1m2 13h1m-3.5 13h1m1 5h1m4.5 -1.5h1m-32.5 -2.5h1m26 3h1m-0.5 -12h1m-3 -14.5h1m-21.5 21.5h1m22.5 -22.5h1m-11 26h1m7.5 -20h1m0 -8.5h1m0 10h1m-21 12.5h1m19.5 -19h1m-2 -5h1m-7 25h1m0.5 5.5h1m-4.5 -16.5h1m7.5 -17h1m-4.5 9h1m-0.5 -2h1m-1.5 24.5h1m-3 -7h1m-10 11h1m9 -3.5h1m2.5 -4.5h1m1.5 -11h1m-20.5 0.5h1m22.5 20h1m-9 -13h1m2.5 8.5h1m-5 -1.5h1m-9 -11.5h1m-7.5 -1h1m17 15.5h1m-27.5 2.5h1m26.5 -16h1m-5 -14h1m-13.5 11h1m13.5 -8.5h1m-8.5 28h1m-1.5 -17h1m-1 11h1m10.5 -12.5h1m-40 16.5h1m38 -11h1m-2.5 11.5h1m-9.5 -6h1m2 4h1m6.5 -24.5h1m-10 1.5h1m2 10h1m-23.5 12.5h1m27 2h1m-22.5 -3.5h1m15.5 -2.5h1m2 -22h1m-15 28h1m-6 -3.5h1m8 -3.5h1m-4 7.5h1m13.5 -19.5h1m-17 15h1m-2.5 0h1m15 -1h1m-0.5 -20.5h1m-5 26h1m3.5 2h1m-4.5 -9h1m-2 -12h1m-3.5 19.5h1m5.5 -26h1m-7 8h1m-17 16.5h1m10.5 -6h1m3 -8.5h1m8 17h1m-19 -8.5h1m4.5 -20.5h1m7.5 11h1m-33 13h1m14 3h1m15.5 -27.5h1m-27 18.5h1m-3 7h1m27.5 -14h1m-1 -11h1m-1 16.5h1m-32 6.5h1m28 -16.5h1m-23 14.5h1m19.5 -9h1m0 -1.5h1m-8.5 -4.5h1m11 11.5h1m-8 -4h1m4.5 -1h1m-15.5 13.5h1m1 0h1m10.5 -10h1m-8 7h1m-8.5 5.5h1m9 -3.5h1m5 -4h1m-7.5 0.5h1m5 2.5h1m-20.5 1h1m9.5 3.5h1m0 -16h1m1.5 2.5h1m-6.5 -3.5h1m7 17h1m-11 0.5h1m-5.5 -11.5h1m15 -3.5h1m-12 -9h1m-15 24h1m16.5 -4.5h1m-23.5 4h1m18.5 -5h1m2 -5.5h1m-10 6h1m15 3h1m-4.5 0.5h1m3 -14h1m-14.5 3.5h1m5 12h1m0.5 -11h1m1 8h1m-4.5 -8h1m-1 10h1m9.5 -29h1m0.5 -7h1m-6 10.5h1m0 16.5h1m-11 -4h1m-21 14h1m23 -25h1m-10.5 20.5h1m1.5 -6.5h1m9 9h1m0 -13h1m-1.5 13.5h1m3.5 -36h1m-8 27.5h1m2 -5.5h1m1.5 -4h1m-12.5 1h1m7.5 5.5h1m6.5 1h1m-5 0.5h1m-2 5h1m-8.5 6h1m4.5 -6.5h1m-14 -12h1m-13.5 9h1m7 -2h1m6.5 -8.5h1m-8 4h1m19.5 -4.5h1m-18.5 10.5h1m16.5 -18h1m-22 16h1m-1.5 0.5h1m19 -23.5h1m-22.5 14.5h1m12.5 11.5h1m7.5 -20.5h1m-4 21h1m-18.5 3h1m11.5 -20h1m-17 11.5h1m21.5 -4.5h1m3 7h1m-13 10.5h1m9 -19.5h1m-1 -2.5h1m-1.5 0h1m-17 15.5h1m9 -21h1m-5.5 18.5h1m5 9.5h1m-24.5 -0.5h1m15 -5.5h1m9 -28.5h1m-1.5 21h1m2.5 -4.5h1m-14 8.5h1m16.5 -9h1m-22 -5h1m10.5 24.5h1m-23 -1.5h1m26.5 -24h1m-18.5 23h1m15.5 -26.5h1m-13 13h1m5.5 15h1m-8.5 -13h1m-14 8h1m14.5 -9h1m7 13.5h1m4 -14.5h1m-4 -8h1m-9.5 0h1m9.5 15h1m-6.5 0.5h1m-5 4.5h1m-0.5 -19.5h1m6.5 17h1m-28.5 4.5h1m15 -2.5h1m6 -20.5h1m3 2.5h1m0.5 -4.5h1m-4 10h1m-12 13h1m-1 -20h1m-8.5 11h1m20 -16.5h1m-4.5 23.5h1m-12 -20.5h1m15.5 24.5h1m-9 -6.5h1m4.5 -13.5h1m-19.5 14.5h1m15 -9.5h1m1.5 4.5h1m-1.5 1.5h1m-1.5 -9h1m-12.5 6.5h1m-19.5 10.5h1m32.5 0.5h1m-6.5 0.5h1m0.5 -3.5h1m-33 3h1m26 -22.5h1m7 -3.5h1m-6.5 26.5h1m-20.5 1h1m20 -13h1m-24.5 8.5h1m25.5 -19h1m-0.5 17.5h1m-0.5 -29h1m-2 29.5h1m-13.5 -24.5h1m6.5 22h1m1 -25h1m-4.5 21h1m-4.5 10h1m8 -14h1m-4.5 14h1m-5.5 -9h1m-3.5 -11h1m8 -0.5h1m-2 13.5h1m-19.5 9h1m16.5 -9h1m-5 -10.5h1m-30 8.5h1m34 -5.5h1m-8.5 -0.5h1m-8.5 0.5h1m18.5 -3.5h1m-7.5 -14h1m-1.5 30h1m1.5 -30h1m-18 27h1m11.5 -7.5h1m-6.5 6.5h1m-4.5 0h1m10 -3h1m-8.5 7h1m-23.5 -2.5h1m17.5 4h1m17.5 -4h1m-26 6h1m1.5 -1h1m13 -4h1m-3.5 -12h1m8 5h1m0.5 -15h1m-6 24.5h1m-20 -1h1m4 4h1m12.5 -27h1m1 3h1m4 19h1m-8.5 0h1m-5 -21.5h1m9.5 -6.5h1m-2.5 17h1m-6.5 1.5h1m-1.5 -17h1m1 7.5h1m3.5 4.5h1m-2 -15h1m0 11h1m-5.5 -8.5h1m0 16.5h1m-0.5 13h1m-9 -3h1m7 -0.5h1m3.5 -7h1m-8.5 -6.5h1m-3 -9.5h1m-3 10h1m-6 18h1m15.5 -9h1m-18 3h1m13 3.5h1m-15 0h1m5.5 -14h1m4 13h1m4.5 0h1m-3 -14h1m-11.5 2h1m2 -3h1m4 11.5h1m-25 8h1m19.5 -2h1m4.5 -20.5h1m-12 -1.5h1m9 6.5h1m-0.5 -4.5h1m-6.5 -2h1m5.5 19.5h1m0.5 -11h1m-5.5 7h1m-11 -5.5h1m6 6h1m5.5 -17h1m-18 19.5h1m13 -12.5h1m-17.5 7.5h1m12 -7h1m-7.5 6h1m9.5 -5.5h1m-14 -0.5h1m-3 -5.5h1m9.5 23.5h1m1 -18.5h1m2 1h1m-5 8h1m5 -15h1m-1 4h1m-7 7.5h1m0 3.5h1m-6 1h1m-1.5 -9h1m-4 13.5h1m0.5 0.5h1m-22.5 -13.5h1m22.5 -4h1m5.5 17.5h1m-1 -11.5h1m-21.5 13h1m21.5 -35h1m-6.5 27.5h1m1 -5h1m4 -8h1m-6.5 21h1m0 -18h1m-5.5 15h1m3.5 4.5h1m-15.5 0.5h1m17 -27.5h1m-1 3h1m-6.5 -4.5h1m-9 12.5h1m-4 16.5h1m-9.5 -7h1m20 -16h1m-1.5 -3.5h1m2 23h1m-17 -2.5h1m20 -30h1m-19.5 25h1m13.5 -10.5h1m-19 3.5h1m9 -6.5h1m9.5 10.5h1m-2 5.5h1m-5 -15.5h1m-1.5 10h1m-12.5 7.5h1m3.5 1.5h1m-5 2h1m-3 -15.5h1m5.5 -2.5h1m1.5 8h1m8 -5.5h1m-20.5 18.5h1m13.5 -12.5h1m-12.5 0h1m15 -1h1m-13.5 6h1m9 -6h1m-5 -23.5h1m-4.5 32h1m1 -21.5h1m-1.5 25.5h1m6 -15h1m-0.5 -5h1m-7.5 9h1m-18.5 12h1m8 -16h1m5 5.5h1m-9 -3.5h1m8.5 -11.5h1m6.5 9h1m-6.5 16h1m2.5 -20h1m1 18h1m1 -31.5h1m-3.5 27h1m-4 -26h1m-11.5 20.5h1m-3.5 -1h1m11.5 -2h1m3 13.5h1m-21 -14.5h1m17.5 -16.5h1m-5 9h1m3 21h1m-2.5 -21.5h1m-5 -4.5h1m7.5 7.5h1m-13 -12.5h1m3.5 15h1m-10.5 -2h1m9 -1.5h1m-1 6.5h1m-12 -8h1m8.5 9.5h1m4 -22.5h1m-8.5 21h1m5.5 7.5h1m-12 -16h1m-1.5 9h1m-2 3h1m10 -5.5h1m-16.5 -9h1m13.5 -6h1m-6 10.5h1m4.5 3h1m-4 -5.5h1m-2 2h1m2.5 0h1m0.5 -12h1m0 12h1m-1.5 2h1m-2.5 11h1m-8 -11h1m1 1h1m-8 -3h1m5.5 -5h1m-0.5 -6h1m6.5 16h1m1.5 -10.5h1m-16 9h1m-3.5 -0.5h1m4 -4.5h1m3.5 3h1m7 4.5h1m-16.5 3h1m-1.5 -7h1m-0.5 -7.5h1m12 2.5h1m-11 0h1m1 15.5h1m-5.5 -21h1m7.5 -3h1m-5.5 21.5h1m1 -12.5h1m-4.5 -3.5h1m-0.5 8.5h1m8 6.5h1m-10 -13.5h1m5 -8.5h1m-6.5 11.5h1m-4 -5h1m6 -5.5h1m-7.5 8h1m4 -5.5h1m4 8h1m-7.5 -0.5h1m-3 -4.5h1m8 9h1m-7.5 6.5h1m-4 -3h1m3 -12h1m2.5 -5h1m-1.5 5h1m-2.5 18h1m0 -16h1m-4 2h1m-6.5 -6h1m5 13h1m-10 -4.5h1m10 1h1m-8.5 7.5h1m-2 -3h1m13 -21h1m-7.5 18.5h1m-1.5 -8.5h1m-3.5 -5h1m1 15h1m-4.5 -11.5h1m-0.5 7h1m2 -0.5h1m-1 -9.5h1m-15 15h1m19.5 -16h1m-11 13.5h1m6.5 3h1m1 -5.5h1m-5.5 3.5h1m-5 6h1m4 -1.5h1m-6 0.5h1m-4 -5h1m-9 -11h1m15.5 4h1m-3.5 -9h1m5.5 17.5h1m-8.5 -1.5h1m0.5 8h1m-1.5 -23h1m-3 22h1m3 -13.5h1m-1 4h1m-1 -13h1m-8.5 17.5h1m2.5 -2.5h1m9.5 -5h1m-9.5 -2h1m-5 3.5h1m-5 -16h1m12.5 16h1m-2 1.5h1m-6 4.5h1m2 -14.5h1m1.5 1.5h1m-6 27.5h1m-1.5 -7h1m-3 -8h1m1 -1.5h1m-5.5 -10.5h1m4.5 -5h1m-6.5 17h1m0 -11.5h1m-3.5 8h1m2.5 0h1m0 13h1m-2 -29.5h1m1.5 15h1m-0.5 -12.5h1m3.5 12.5h1m-6.5 -12h1m1.5 11.5h1m3 -2.5h1m-13.5 4h1m0.5 2.5h1m-2 -4.5h1m3.5 1h1m-2.5 -6h1m1 1.5h1m0.5 2.5h1m-13 1.5h1m17 3h1m-5 1.5h1m-6.5 -14h1m5.5 18.5h1m-2 -5h1m-2 -3.5h1m-1.5 0.5h1m-1 -7.5h1m-5.5 11.5h1m0.5 -23h1m1 1h1m7.5 23.5h1m-6.5 -11h1m-10 3.5h1m4.5 -4h1m0 11h1m1 -13h1m-14.5 8h1m6.5 3h1m10 9.5h1m-7.5 -4h1m5.5 -8.5h1m-7.5 6.5h1m-2.5 -10.5h1m-4.5 4h1m-0.5 6h1m0.5 5h1m6.5 -20.5h1m-1.5 6.5h1m0 7h1m-7.5 1h1m-3.5 -2.5h1m3.5 -3.5h1m-1 -6.5h1m0 -2h1m-1 13h1m-0.5 -8h1m10 2.5h1m-14.5 -4h1m5 2.5h1m-3 -3.5h1m-4.5 4h1m2 1h1m-9.5 5.5h1m-2.5 -10.5h1m8.5 -7h1m-1 11h1m-9 5h1m6 -6.5h1m-4.5 10.5h1m3.5 -6.5h1m-8.5 -6.5h1m0 12.5h1m4.5 -3h1m3 -4.5h1m-9.5 -0.5h1m10 -13h1m-9 19h1m-2 14.5h1m4.5 -12h1m-11 -2h1m1.5 -3.5h1m2 -4h1m1 16h1m1 -10.5h1m-15 6.5h1m13 -9.5h1m-8.5 6.5h1m-2.5 1h1m-2 -13h1m4 -4h1m-1 15h1m-7.5 3h1m3 -3h1m2.5 -7.5h1m-4.5 -9.5h1m-2 7h1m10 13.5h1m-15 -1.5h1m6.5 -9h1m0 9h1m-5.5 -8h1m2 -5.5h1m-0.5 7h1m-5 -6h1m3.5 13h1m-1 -13h1m1 7.5h1m-1.5 7.5h1m-8 -9.5h1m0 -5.5h1m11.5 13.5h1m-19 -4h1m5 5.5h1m2 -10h1m-1 4.5h1m-1.5 -4.5h1m-1.5 5.5h1m-6 -4h1m4 -3.5h1m3 -6h1m-6 3h1m3 3h1m-3.5 6.5h1m-8.5 0.5h1m3 -5.5h1m2 8h1m3 7h1m-3.5 -16.5h1m-4.5 8.5h1m9 -2.5h1m-11 -0.5h1m2.5 -2h1m-5.5 -19h1m0 27h1m2.5 -24.5h1m-2 2.5h1m8.5 15.5h1m-16 4.5h1m1 -2h1m2.5 -13h1m2 -1h1m2.5 10.5h1m-12.5 -14h1m11.5 24.5h1m-14.5 1.5h1m6 -14h1m-2.5 -0.5h1m6 3h1m-16 14.5h1m11.5 -23.5h1m-6.5 1h1m0.5 10h1m0 -7.5h1m-5.5 11h1m2 10.5h1m-4.5 -11h1m3 -11.5h1m5.5 6.5h1m-11.5 -3.5h1m8 -6.5h1m0.5 14h1m-9 5h1m8.5 -5.5h1m-8 9.5h1m5 -21h1m-9 5.5h1m-2 -9.5h1m5 11.5h1m-4.5 10h1m-4 -11h1m3 -2.5h1m-3 8.5h1m-0.5 4.5h1m-4.5 -8.5h1m-4 -2.5h1m2 11h1m6 -6h1m4 7h1m-6 -16h1m-11.5 5h1m4.5 -5h1m-1 -7.5h1m7.5 4h1m-11 13h1m-5.5 2.5h1m11 -9.5h1m-10.5 -1h1m-4.5 14h1m8 -16h1m-6 10h1m10.5 -14h1m-10.5 -4h1m4.5 14.5h1m6.5 -2h1m-13.5 -4.5h1m5 -7h1m-1.5 14.5h1m-7 -9h1m6.5 21h1m-8 -10h1m9.5 -8.5h1m-10.5 -5h1m-0.5 9h1m-2.5 -5h1m-6.5 -4.5h1m2 15h1m1 -11.5h1m4.5 11h1m-7.5 -9.5h1m5.5 8h1m-8 -1h1m3 6.5h1m-5 -2h1m5 -14h1m2 14.5h1m-12.5 8h1m0 -22h1m3 13h1m3.5 -6.5h1m2.5 3.5h1m-1 18.5h1m-6.5 -41h1m-4 11.5h1m1.5 8.5h1m-7.5 -9.5h1m3.5 7.5h1m-12 9h1m11.5 -7.5h1m0.5 -8h1m-2.5 16h1m4 -4.5h1m-7.5 -10h1m7 10.5h1m-9.5 -21h1m-3 2h1m9 16.5h1m-10.5 -3.5h1m15 11.5h1m-20 -10.5h1m-0.5 -12.5h1m6 32.5h1m5.5 -18.5h1m-10.5 1h1m6 -13h1m-15 26.5h1m9.5 -2.5h1m-1.5 -1h1m-5 -7.5h1m9.5 4h1m-11 -1h1m-2 -18h1m5 22h1m0.5 -21h1m-0.5 15.5h1m-8 -25h1m6.5 26.5h1m-3.5 -20.5h1m-11 21.5h1m10.5 -4h1m-6 -1h1m-2.5 -5.5h1m-3 4.5h1m1.5 5.5h1m4.5 -14h1m4.5 -2.5h1m-8 17.5h1m3.5 -26h1m-2.5 27h1m1 -27h1m-11.5 16.5h1m0.5 11.5h1m-2.5 -0.5h1m5.5 -21.5h1m-9 8h1m4.5 11.5h1m-2.5 -0.5h1m-8 -32h1m5.5 28h1m-1.5 -11.5h1m3 23.5h1m-3.5 -21.5h1m-4.5 21.5h1m3 -10.5h1m5 3.5h1m-11.5 -1h1m7.5 -3.5h1m0 -8.5h1m-6.5 0.5h1m3.5 -1h1m-3 -4h1m-3.5 6h1m-1 4h1m-1.5 -3h1m-10.5 11h1m6.5 -11h1m-2 10h1m-1.5 -4h1m9.5 9h1m-1 -8h1m-13 5.5h1m11 -4h1m-3 -6h1m-7.5 8h1m8 -17h1m-3 10.5h1m-1 0.5h1m0 6h1m-2 -19.5h1m-1.5 11.5h1m-10.5 5h1m-2 1.5h1m14 -11h1m-5 7.5h1m-2 -14h1m-1.5 11.5h1m0 -1h1m0.5 2.5h1m-3 8.5h1m-3.5 -3h1m-0.5 -3.5h1m-5 2h1m7.5 -7h1m-3 4h1m-10.5 -0.5h1m11 -6.5h1m-16 5.5h1m4.5 13h1m2 -15h1m-4 2h1m-0.5 -9h1m1.5 1h1m5.5 -3h1m-7.5 4h1m-7.5 18.5h1m-4.5 -2h1m2 -10.5h1m17.5 -17.5h1m-19 27h1m6.5 -14.5h1m-2 -3.5h1m0 19.5h1m-3.5 -10.5h1m6.5 14.5h1m-9.5 -13.5h1m-1 -7.5h1m-0.5 0.5h1m-7.5 -11h1m4 17h1m8.5 -5.5h1m-7.5 9.5h1m3.5 -6h1m-5 15.5h1m-2.5 -18.5h1m-7.5 7h1m6 11.5h1m-1.5 -8.5h1m5 6.5h1m-24 8h1m9.5 -11.5h1m-3.5 -2h1m-1.5 -13h1m6 16h1m-12.5 -0.5h1m24.5 3h1m-22.5 9h1m-4 -13h1m1 -0.5h1m9 5.5h1m-12.5 -4.5h1m5.5 -2h1m-2 -2h1m-6.5 5h1m-3.5 2.5h1m6 -9h1m-4.5 3h1m2.5 4h1m-1.5 -6.5h1m12 12h1m-11.5 0h1m1 -8h1m4 9h1m-12 -3h1m20 -1.5h1m-10.5 6h1m-4.5 2h1m-4 -7.5h1m-0.5 -2.5h1m7.5 -4h1m-12 -2h1m-0.5 2.5h1m3 2h1m-10 -1.5h1m3 -1.5h1m7 8.5h1m-7 -13h1m1.5 -0.5h1m-3.5 9h1m-7 -6h1m1.5 4.5h1m8.5 4h1m0 -11h1m-9.5 6h1m0.5 9h1m-11.5 -5h1m8 2.5h1m0.5 -8h1m-9 -13h1m13.5 7h1m-12 21h1m-1 -7h1m0.5 0.5h1m1 -8h1m9 1.5h1m-21.5 -0.5h1m13.5 -5.5h1m1 13h1m9 -9.5h1m-12 -7h1m-9.5 12h1m5.5 -1h1m-5 -4h1m-3.5 6h1m6.5 2.5h1m2.5 3.5h1m-22.5 -11.5h1m11.5 -0.5h1m8 9h1m-9.5 -4h1m9.5 -3h1m-13 8.5h1m5 3h1m-2 -4.5h1m-8 -11h1m3 -11.5h1m2.5 24h1m-3.5 -8h1m6.5 1.5h1m-3.5 6.5h1m-3 -4.5h1m-2.5 -1.5h1m5 -11h1m-11.5 15h1m-5 -5h1m0 3.5h1m11 7h1m-4 -14.5h1m-3 8.5h1m8 -18h1m-9 2h1m1.5 15h1m-2.5 3h1m-2 -10h1m-1 12h1m-4.5 -7.5h1m-9.5 7.5h1m4.5 -13h1m-0.5 -0.5h1m0.5 14h1m7 1h1m4 -15.5h1m-8.5 16h1m13 -19.5h1m-29.5 13h1m7 -10h1m4.5 1.5h1m-21 5h1m17 4.5h1m5.5 -3h1m-10 -6h1m-12 1.5h1m19.5 7.5h1m7 -5.5h1m-30.5 6.5h1m20.5 -13h1m-21 8.5h1m16.5 -8.5h1m-9 2.5h1m-7.5 -3.5h1m9 6h1m-7 -15h1m17.5 11.5h1m-15.5 -1.5h1m3 -2.5h1m-3 9h1m5 -6h1m-13 5.5h1m20 -8h1m-14.5 5h1m-1 9h1m-2.5 -2.5h1m0 -6h1m-4.5 -7h1m-2 6h1m-0.5 10h1m4 -2h1m4.5 -19h1m-6 16h1m-5 -8.5h1m4 16h1m2.5 -8h1m-4 6.5h1m8 2h1m-14 -7.5h1m-0.5 1h1m-6 3.5h1m-2.5 -10.5h1m6.5 1.5h1m-5.5 -10h1m7 14h1m-8 3h1m1.5 -7.5h1m13 1.5h1" stroke="#ec0c16" stroke-opacity="0.85" stroke-width="1" fill="none"/><path d="M80.5 324.5h1m6 -28h1m18.5 7.5h1m-62 -1h1m9.5 -5.5h1m-17 -5h1m3 11h1m8.5 -6.5h1m48 -6h1m-42 30h1m19 -19h1m-21 -11.5h1" stroke="#ec0c16" stroke-opacity="0.3" stroke-width="1" fill="none"/><ellipse cx="53.9" cy="285" rx="19.6" ry="12.7" fill="none" stroke="#000" stroke-width="1.55"/><path d="M36.4,335.3 H122.6 V389.9" stroke="#7a7a7a" stroke-width="0.8" fill="none"/><path d="M36.4,335.3 V389.9 H122.6" stroke="#333" stroke-width="0.9" fill="none"/><path d="M36.4,389.9v2M36.4,389.9h-2M42.9,389.9v1.2M36.4,385.8h-1.2M46.7,389.9v1.2M36.4,383.4h-1.2M49.4,389.9v1.2M36.4,381.7h-1.2M51.5,389.9v1.2M36.4,380.4h-1.2M53.2,389.9v1.2M36.4,379.3h-1.2M54.6,389.9v1.2M36.4,378.4h-1.2M55.9,389.9v1.2M36.4,377.6h-1.2M57.0,389.9v1.2M36.4,376.9h-1.2M57.9,389.9v2M36.4,376.2h-2M64.4,389.9v1.2M36.4,372.1h-1.2M68.2,389.9v1.2M36.4,369.7h-1.2M70.9,389.9v1.2M36.4,368.0h-1.2M73.0,389.9v1.2M36.4,366.7h-1.2M74.7,389.9v1.2M36.4,365.6h-1.2M76.2,389.9v1.2M36.4,364.7h-1.2M77.4,389.9v1.2M36.4,363.9h-1.2M78.5,389.9v1.2M36.4,363.2h-1.2M79.5,389.9v2M36.4,362.6h-2M86.0,389.9v1.2M36.4,358.5h-1.2M89.8,389.9v1.2M36.4,356.1h-1.2M92.5,389.9v1.2M36.4,354.4h-1.2M94.6,389.9v1.2M36.4,353.1h-1.2M96.3,389.9v1.2M36.4,352.0h-1.2M97.7,389.9v1.2M36.4,351.1h-1.2M99.0,389.9v1.2M36.4,350.3h-1.2M100.1,389.9v1.2M36.4,349.6h-1.2M101.0,389.9v2M36.4,348.9h-2M107.5,389.9v1.2M36.4,344.8h-1.2M111.3,389.9v1.2M36.4,342.4h-1.2M114.0,389.9v1.2M36.4,340.7h-1.2M116.1,389.9v1.2M36.4,339.4h-1.2M117.8,389.9v1.2M36.4,338.3h-1.2M119.3,389.9v1.2M36.4,337.4h-1.2M120.5,389.9v1.2M36.4,336.6h-1.2M121.6,389.9v1.2M36.4,335.9h-1.2" stroke="#555" stroke-width="0.6" fill="none"/><text x="37.2" y="396.9" font-size="5.2" text-anchor="middle" font-family="'Liberation Serif', serif" fill="#6a6a6a">10<tspan font-size="3.8" dy="-2">0</tspan></text><text transform="translate(34.2,389.9) rotate(-90)" font-size="5.2" text-anchor="middle" font-family="'Liberation Serif', serif" fill="#6a6a6a">10<tspan font-size="3.8" dy="-2">0</tspan></text><text x="58.7" y="396.9" font-size="5.2" text-anchor="middle" font-family="'Liberation Serif', serif" fill="#6a6a6a">10<tspan font-size="3.8" dy="-2">1</tspan></text><text transform="translate(34.2,376.2) rotate(-90)" font-size="5.2" text-anchor="middle" font-family="'Liberation Serif', serif" fill="#6a6a6a">10<tspan font-size="3.8" dy="-2">1</tspan></text><text x="80.3" y="396.9" font-size="5.2" text-anchor="middle" font-family="'Liberation Serif', serif" fill="#6a6a6a">10<tspan font-size="3.8" dy="-2">2</tspan></text><text transform="translate(34.2,362.6) rotate(-90)" font-size="5.2" text-anchor="middle" font-family="'Liberation Serif', serif" fill="#6a6a6a">10<tspan font-size="3.8" dy="-2">2</tspan></text><text x="101.8" y="396.9" font-size="5.2" text-anchor="middle" font-family="'Liberation Serif', serif" fill="#6a6a6a">10<tspan font-size="3.8" dy="-2">3</tspan></text><text transform="translate(34.2,348.9) rotate(-90)" font-size="5.2" text-anchor="middle" font-family="'Liberation Serif', serif" fill="#6a6a6a">10<tspan font-size="3.8" dy="-2">3</tspan></text><text x="123.4" y="396.9" font-size="5.2" text-anchor="middle" font-family="'Liberation Serif', serif" fill="#6a6a6a">10<tspan font-size="3.8" dy="-2">4</tspan></text><text transform="translate(34.2,335.3) rotate(-90)" font-size="5.2" text-anchor="middle" font-family="'Liberation Serif', serif" fill="#6a6a6a">10<tspan font-size="3.8" dy="-2">4</tspan></text><path d="M68 354.5h1m-19 -5h1m-1 0.5h1m-6.5 0.5h1m22 -9h1m1 10.5h1m-27 -8h1m21 7h1m-7.5 -2h1m-17 4.5h1m-3 0h1m17.5 -2.5h1m-8 -9.5h1m-1 41.5h1m-11.5 -34.5h1m26.5 18h1m0 7.5h1m-24.5 -18.5h1m11.5 29h1m10 -28.5h1m-18.5 -6.5h1m4 -6.5h1m-10.5 40h1m7 -32.5h1m-6.5 32.5h1m17 -21h1m-24.5 23h1" stroke="#b07080" stroke-opacity="0.5" stroke-width="1" fill="none"/><path d="M94 374h1m-0.5 -1h1m-0.5 -16.5h1m-5.5 -3.5h1m0 3.5h1m0 8.5h1m-15 3h1m19 -10h1m-8.5 13h1m-3.5 0h1m1.5 2.5h1m1 -8.5h1m-1 7h1m-0.5 -8.5h1m-7 -1.5h1m-1 4.5h1m4 -1h1m-2.5 1.5h1m7 9.5h1m-13 -8.5h1m1.5 -3.5h1m0.5 -3h1m-4.5 -14.5h1m2 27h1m-6.5 -6h1m2.5 -1h1m-2.5 -4h1m7 -13.5h1m-3 16h1m-19 1h1m15 0.5h1m2.5 -3.5h1m-10 -2.5h1m-1.5 19h1m17.5 -14.5h1m-16 2h1m6.5 -5.5h1m-15 15.5h1m17.5 -20.5h1m-19.5 0.5h1m9 12.5h1m-1 -15.5h1m-1.5 15.5h1m-0.5 -7.5h1m2 4h1m-11.5 -2h1m-3.5 6h1m13 -11h1m-6.5 15h1m-13 -13h1m24.5 -3.5h1m-12 -2h1m1 -6.5h1m-13.5 10h1m8 9h1m-0.5 5.5h1m1.5 -2h1m-10 -9h1m20.5 23h1m-13 -14h1m2 -7.5h1m5 2h1m-18 14h1m-10 -15.5h1m3 -6.5h1m8.5 4.5h1m1.5 -2h1m-2 -3.5h1m-2.5 -2h1m5 2.5h1m-2 6h1m-10 9.5h1m7 -20.5h1m3 -6.5h1m-7 17h1m-12 0.5h1m2.5 15h1m-2 -0.5h1m15 -15h1m-18 10h1m5 -7h1m1 -9.5h1m-2.5 1.5h1m-9 3h1m16 18.5h1m-10 -13.5h1m0.5 9.5h1m1 -13h1m-8 10h1m21 -7.5h1m-33 2.5h1m12.5 -1.5h1m7.5 1.5h1m-13.5 -18h1m5.5 7.5h1m1.5 0h1m-4.5 -2.5h1m-3 7h1m1.5 14h1m-2 -16.5h1m10.5 12h1m-10 -0.5h1m3.5 4h1m-5 -3h1m-8.5 -12h1m2.5 6h1m-0.5 2h1m0.5 -5h1m-14 6h1m16 -8.5h1m-3.5 9h1m0 -16.5h1m-11 6.5h1m17 3h1m-13 -5h1m-4.5 10h1m-5 -25h1m11 24.5h1m-10.5 4.5h1m14 -19h1m-13.5 20.5h1m-2 -10.5h1m9.5 3h1m-14 -6.5h1m-4 8.5h1m-4 2.5h1m1 -6.5h1m0.5 -2.5h1m12.5 14h1m3 -7.5h1m-9.5 0h1m3.5 -3.5h1m0.5 6h1m-1 1h1m-1.5 -9h1m-7 -6h1m-2 8h1m8 -5.5h1m12 11.5h1m-15.5 5h1m-22.5 -15h1m28 -9h1m-8 9.5h1m-11 6h1m-9.5 -2.5h1m8 -4.5h1m3 10.5h1m-1 -9.5h1m-3 16.5h1m-0.5 -4.5h1m-6.5 10.5h1m-6.5 -16h1m13.5 1.5h1m-9 -12.5h1m2 10h1m-5 -9.5h1m6.5 17.5h1m-5 -14h1m-7.5 22h1m11 -16h1m-2 17.5h1m7 -26h1m-11 5h1m-1 -6h1m-1.5 1h1m1.5 9h1m-9 -15h1m0.5 18h1m6.5 -3.5h1m-24 -9h1m14.5 5h1m-3.5 -1.5h1m-3 23h1m12.5 -18h1m-6 -1h1m1 -1.5h1m-4.5 10h1m5.5 -4h1m2.5 0.5h1m-12.5 -17.5h1m-2 12h1m4 10h1m-4 -15h1m4 16h1m-7.5 -8h1m11 3h1m-6 -19h1m3 21.5h1m-6.5 -10h1m-10.5 0.5h1m4 10h1m-8.5 1h1m7.5 0h1m-6 -7.5h1m13.5 2h1m-17.5 -7.5h1m13.5 -4.5h1m-16 8.5h1m1 4h1m2 -18h1m-4 24h1m1 -11h1m7.5 -4.5h1m2.5 9h1m-2 -14h1m-13 -11h1m4.5 20.5h1m1.5 13h1m-4 -13.5h1m0.5 13.5h1m-7.5 -8.5h1m4.5 -5.5h1m6.5 -1.5h1m-15.5 7h1m7 -4.5h1m-3 5h1m-3 1.5h1m3 6h1m5.5 -3h1m-9 -7.5h1m-8.5 18.5h1m5.5 -15.5h1m12.5 -10.5h1m-16.5 3h1m-0.5 -6h1m-2.5 18.5h1m9 -7h1m-2.5 -13h1m-0.5 16h1m-12 -4.5h1m6 -3.5h1m-5.5 -2.5h1m-3 8h1m7.5 1h1m-3 -6h1m15.5 -6.5h1m-10 14h1m-7 -7.5h1m-1.5 -5.5h1m-10 5.5h1m-4.5 6.5h1m24 -25.5h1m-24.5 21.5h1m10.5 2h1m-1 4.5h1m0 8h1m-4.5 -7.5h1m-9.5 -10h1m-1.5 11.5h1m23 0h1m-22.5 -10.5h1m6.5 4h1m4.5 7h1m-25 -3h1m16 -10h1m10.5 5h1m-17 -11.5h1m4 17.5h1m10 -5h1m-16.5 9.5h1m-0.5 -1.5h1m5.5 -7h1m-4 -0.5h1m-1 -7h1m1 0.5h1m0.5 6h1m-4 -3h1m-4 13.5h1m4.5 -16h1m-5 8.5h1m1 -5.5h1m-2 2h1m2.5 3h1m-11 -14h1m-10.5 11.5h1m21.5 9.5h1m-6.5 -2.5h1m0 -9h1m-9.5 -7h1m2 13h1m15.5 -6h1m-10.5 3.5h1m-4.5 -16h1m-1.5 2h1m-0.5 10h1m0 0h1m4.5 -4.5h1m3 -4.5h1m-10 13h1m-3 -15h1m6.5 8.5h1m-2.5 10.5h1m-4.5 -7h1m4.5 4.5h1m-13 -4.5h1m8.5 2.5h1m-2.5 -3h1m-1.5 -6h1m-13 12.5h1m5.5 -5h1m-6.5 -2h1m-1.5 20.5h1m4.5 -27.5h1m8 17.5h1m-19 -11h1m20.5 -5.5h1m-3.5 4.5h1m-12 -1.5h1m4.5 -6h1m14 10.5h1m-22 4.5h1m2.5 4.5h1m-0.5 -7h1m1.5 -1h1m-2 -2.5h1m11.5 -1h1m-15.5 -1h1m4.5 7h1m4.5 -11.5h1m-7 7h1m-5 1.5h1m-12 -2h1m15.5 -8.5h1m-8 20.5h1m-1 -7.5h1m2.5 -9h1m-6 1.5h1m10.5 12h1m-14 -2h1m6 -10.5h1m2.5 -1h1m-17 12h1m-1.5 -5.5h1m2 -3.5h1m8 -0.5h1m-14 -1h1m13.5 -2h1m-4.5 13h1m-3.5 -6h1m-4 0h1m6.5 17.5h1m4.5 -14h1m4.5 -9h1m-4 2.5h1m-14.5 9h1m4 3h1m-9.5 -10h1m5.5 -2.5h1m-11.5 6h1m15.5 -9.5h1m-11 -2h1m15 10h1m-13 1h1m1.5 -1h1m3.5 2h1m2.5 -10.5h1m-7.5 4.5h1m-1.5 2.5h1m-5 -3.5h1m9.5 1h1m-17 4.5h1m14.5 -2.5h1m-5.5 -5h1m-6 12.5h1m6.5 -5h1m-4.5 -13.5h1m-1 15h1m1 12h1m-3.5 -8.5h1m-10.5 -0.5h1m11 4h1m-0.5 -6.5h1m6 -6h1m-9.5 10.5h1m-6 -17.5h1m4.5 10.5h1m-1 4h1m-9 -4.5h1m12 -1.5h1m-8.5 -7.5h1m0.5 22.5h1m-12 -11.5h1m15 -5.5h1m-8 -5h1m-5.5 7.5h1m8 2h1m0 1h1m-15.5 5h1m17 -11h1m0.5 9h1m-13.5 7.5h1m-11 -28h1m16.5 14h1m-14.5 9.5h1m13 -16.5h1m-12 12.5h1m19 -15.5h1m-13 8.5h1m-14 -1.5h1m0.5 -2.5h1m17 12.5h1m-6 -1h1m-4.5 2h1m-8 -11.5h1m12 0.5h1m-12 11.5h1m14 -9.5h1m-17.5 4.5h1m8 -7h1m-1 9h1m-8.5 15.5h1m10.5 -12.5h1m-6.5 14h1m5.5 -25h1m-7 4.5h1m-7 -0.5h1m5 -0.5h1m-7.5 4.5h1m-7.5 -1.5h1m10 -1.5h1m-18.5 6h1m7.5 -16.5h1m13 5.5h1m-4.5 -12.5h1m-5.5 16.5h1m7 -1.5h1m-5 4h1m-4.5 -9.5h1m15.5 3.5h1m-7.5 5.5h1m2 -4.5h1m-8.5 5h1m-5.5 -1.5h1m-4 -3.5h1m0 6.5h1m4.5 -14.5h1m-5 8.5h1m-6.5 9h1m7.5 -1h1m-6 -10.5h1m12 -4.5h1m-7.5 9.5h1m-6.5 -1.5h1m-5 0h1m1 -10.5h1m14 8.5h1m-25.5 5.5h1m15 -28.5h1m-4.5 31.5h1m0.5 6h1m-2 -8h1m-6 -4.5h1m14.5 6.5h1m-5.5 -19.5h1m-5.5 4h1m5.5 5.5h1m-3.5 -2.5h1m9 1.5h1m-18.5 23h1m5.5 -23.5h1m-1.5 13h1m5.5 -19.5h1m-4.5 -2.5h1m5.5 18h1m-17 0.5h1m8.5 -11.5h1m4 8.5h1m-24.5 6h1m19.5 4h1m-3.5 -16.5h1m-3 19.5h1m-1.5 -2h1m-10 -6.5h1m14 -14.5h1m-18 1.5h1m7.5 10.5h1m-2 -4h1m-0.5 1.5h1m2.5 4h1m-4.5 -3h1m-4.5 3h1m-3 6h1m4.5 -8.5h1m-4.5 -5.5h1m4 4h1m-3.5 -9.5h1m0.5 10h1m0.5 8.5h1m-0.5 -24h1m-0.5 1.5h1m-13 18h1m13.5 -8.5h1m-9.5 2h1m-9 2h1m5.5 11.5h1m-4 -7h1m1 1h1m-2 -2.5h1m5 -10h1m-1.5 9.5h1m0.5 8.5h1m9 -28.5h1m-9.5 2.5h1m-6 18h1m-3.5 -14h1m6.5 8.5h1m7 7h1m-10 8h1m-4.5 -14h1m-4.5 1h1m10 11h1m-4 -16h1m-4.5 -6h1m-0.5 20.5h1m-10.5 -28.5h1m22 10h1m-8.5 1h1m-1.5 14.5h1m-5 -0.5h1m-1.5 -2h1m9.5 6.5h1m-13.5 -17h1m0.5 4.5h1m2 -2h1m1.5 5.5h1m-3 -1h1m3 -8h1m2 12.5h1m-8.5 0h1m3 2h1m-5 -8h1m-13.5 0h1m8.5 -1.5h1m19 -6.5h1m-21.5 17.5h1m4.5 2h1m-11 -19h1m10 7.5h1m4.5 5.5h1m-10.5 -1h1m-3.5 -3h1m-3.5 -1.5h1m0 2h1m-4 -13.5h1m8 15h1m-9.5 -5.5h1m-5.5 16h1m-3.5 -3.5h1m6 -7.5h1m4 -5h1m4.5 10.5h1m-6 -14h1m10 20h1m-10 -15h1m-1 3h1m6.5 -6h1m-8.5 -0.5h1m2.5 20h1m-7.5 -11h1m10 -3.5h1m-18.5 5.5h1m10.5 -6.5h1m4 5h1m-21.5 -4.5h1m7 13.5h1m3 -14.5h1m1 3.5h1m-12 -3.5h1m3.5 10.5h1m20.5 -13h1m-22.5 -3.5h1m0.5 1.5h1m0.5 13.5h1m-5 -20.5h1m-9 17.5h1m23.5 -13.5h1m-22.5 7h1m14.5 10.5h1m-6 -3.5h1m2 -8.5h1m8 6.5h1m-19 -8h1m-5 2.5h1m18 -5h1m-6.5 23.5h1m0 -23.5h1m-10.5 3.5h1m-2 -7h1m3.5 9h1m6.5 -5.5h1m3 17.5h1m-4.5 -13.5h1m4 3.5h1m-3 10h1m-15.5 -15h1m14 15h1m-12.5 -9h1m3 -6.5h1m-3.5 0.5h1m-4.5 7.5h1m-5 1h1m6 2h1m3 4.5h1m-2 -4h1m-5.5 -2.5h1m-4.5 -7h1m9 4h1m-1 -7.5h1m4 5h1m-8 2.5h1m3 -2h1m-10.5 -13.5h1m2 6h1m-0.5 20h1m-13.5 -24h1m10.5 22h1m1 -6.5h1m-0.5 2h1m6 2h1m-17 -12h1m8.5 0h1m-4.5 1h1m-5.5 8h1m4 -12h1m-5 7.5h1m16.5 6h1m-5.5 0.5h1m-24 -6.5h1m10.5 -10h1m-8 21.5h1m0 -17.5h1m14 13.5h1m-17.5 -10h1m6.5 1h1m7.5 -0.5h1m-11 12.5h1m-7.5 -15.5h1m15 -2h1m-7.5 -2.5h1m2.5 6h1m0 12.5h1m-3 -11h1m-0.5 3.5h1m-12 5h1m8.5 0h1m-11.5 -2h1m21.5 4h1m-22.5 -10h1m7.5 3.5h1m-2.5 2h1m-2 -2.5h1m-2 -1h1m10.5 -1.5h1m-2.5 -3.5h1m-8.5 3h1m10 -1h1m0.5 -5h1m-14.5 14.5h1m8 -12h1m-16.5 10h1m-0.5 -2h1m4.5 -3h1m14.5 15.5h1m-5.5 -23h1m-6.5 9h1m-6 8.5h1m-9.5 -10h1m12.5 -4.5h1m10 -1h1m-14 7h1m-12.5 -14.5h1m3 17.5h1m11.5 2h1m-0.5 -21h1m-4.5 12h1m2 14.5h1m7 -2.5h1m-7 -15h1m-5.5 -2.5h1m4 1.5h1m-8.5 1h1m-5 8.5h1m-1 -1.5h1m-6 7.5h1m2 -2h1m23 -20h1m-25 10.5h1m13 1.5h1m-5.5 -3h1m1 -3h1m4 -12h1m-27 29.5h1m17 -16h1m8.5 17h1m-5 -12h1m-6 5.5h1m-16 -3h1m7.5 7.5h1m12 -11.5h1m-15 3h1m8.5 -2h1m-8 6h1m1.5 4.5h1m1.5 -15h1m-17 9h1m10.5 -6h1m1.5 -8.5h1m0 -7.5h1m-4 12h1m11 13.5h1m-14 -5.5h1m7 -5h1m-8 1h1m15.5 7.5h1m-31 -2h1m31.5 -5h1m3.5 8h1m-16 -8h1m-8 -6.5h1m-4.5 -8h1m11.5 10.5h1m-9 9.5h1m-7 -3.5h1m3.5 -3h1m-1 4h1m-5.5 -11.5h1m-2.5 10.5h1m11 13.5h1m-7 -5.5h1m-2.5 0.5h1m0.5 -5h1m-3 -3.5h1m15.5 -5h1m-14.5 1.5h1m0.5 18.5h1m-0.5 -35h1m-1.5 26h1m-14.5 -10h1m13.5 -12.5h1m-1 21.5h1m-1 -12h1m-8 1.5h1m7 -0.5h1m3 11.5h1m-27 3.5h1m18.5 -12.5h1m1 -9h1m0.5 -4.5h1m-16 25.5h1m20.5 -3h1m-25 4h1m9.5 -3.5h1m8.5 -8.5h1m3.5 -8.5h1m3.5 6.5h1m-23 1.5h1m8 16h1m-3.5 -3h1m1.5 -5h1m-17.5 -25.5h1m-11 18h1m19 5h1m3.5 0.5h1m-9.5 -14h1m-16.5 20h1m32.5 -13.5h1m-17 12h1m19.5 -3.5h1m-19 10.5h1m-14.5 -21.5h1m15 5h1m15.5 20h1m-14.5 -21h1m1.5 15.5h1m-11.5 -13.5h1m-11 0.5h1m18.5 16h1m-3.5 -2.5h1m-8.5 -14.5h1m13.5 13h1m-20 -5.5h1m13.5 6.5h1m-4.5 -12h1m-4 19.5h1m3 -21h1m2 -4h1m-4.5 7.5h1m5 5.5h1m-9.5 -11.5h1m3 8.5h1m-2.5 -5.5h1m1 7h1m-25.5 -10.5h1m18.5 19h1m-4 -19h1m14.5 6.5h1m-13.5 6h1m6 -2h1m-21 3h1m9.5 -11h1m18.5 19h1m-26.5 -20.5h1m7.5 0h1m-21 8.5h1m26 3h1m-12 -3.5h1m12 -7.5h1m-11.5 1h1m6.5 10h1m-17.5 -13.5h1m29 6h1m-17.5 -1.5h1m8 8h1m-14 -14.5h1m-4.5 17.5h1m13.5 -15.5h1m4.5 11.5h1m-26.5 -4.5h1m5 -4.5h1m-2.5 4h1m4.5 -13h1m5.5 13h1m2.5 10.5h1m-5.5 -4.5h1m6.5 -2.5h1m-24 -1h1m-15.5 -11h1m26.5 8.5h1m6 12h1m-9 -12.5h1m9 0.5h1m-19 7.5h1m5.5 14h1m1.5 -35.5h1m-1 29h1m-9.5 0h1m23 -13h1m-20.5 -11.5h1m3.5 19.5h1m4.5 -16h1m-13.5 -5.5h1m-9 -2h1m-4 10h1m16 12.5h1m-2 -12h1m-4 10.5h1m-2.5 -5.5h1m0.5 -4.5h1m3.5 -4h1m10 -1h1m-7 0h1m3 21.5h1m-19.5 -17.5h1m-5 2.5h1m-6.5 10h1m9 -6h1m12 6.5h1m-3.5 -7.5h1m-6 2h1m14.5 -10.5h1m-17.5 -3h1m-6.5 2.5h1m21.5 3.5h1m-13 -3.5h1m-3.5 21.5h1m1 -3h1m-0.5 -26h1m-22.5 10.5h1m19 19h1m-6.5 -13h1m2 10h1m1.5 -19h1m6 16h1m-3 -16h1m-3.5 -5h1m-23.5 6.5h1m11.5 11.5h1m18 0.5h1m3.5 -4h1m-8.5 -8.5h1m-9.5 6h1m-6.5 7h1m-15.5 -9h1m9 3h1m11.5 -0.5h1m-6 -8.5h1m6.5 6.5h1m0 -6.5h1m6.5 6h1m-4.5 4h1m-7.5 1h1m0 1.5h1m2.5 7.5h1m-9 6.5h1m-13 -7h1m13.5 -21h1m-0.5 11.5h1m11 1.5h1m-18 1h1m-20 -3.5h1m5 10.5h1m27.5 -4.5h1m-31.5 -7.5h1m14 9.5h1m-0.5 -17.5h1m-0.5 3h1m16.5 7h1m-25.5 -1.5h1m-5.5 -5h1m9.5 3h1m-6.5 14h1m12 -19.5h1m-14.5 15h1m-1.5 -6h1m4 5.5h1m-1 -6h1m-8.5 2h1m-5 11.5h1m12.5 -14h1m6 3.5h1m-7.5 -1.5h1m-6.5 -10h1m-6 17.5h1m3.5 -12.5h1m-2 9.5h1m26 -6.5h1m-17 4.5h1m-10 1h1m-11 0h1m17.5 -11h1m7 19h1m1 -20.5h1m-16.5 4h1m2.5 18h1m-21.5 -18.5h1m13.5 13.5h1m5.5 -18.5h1m-3 1.5h1m-9.5 7h1m1.5 3h1m-16 14h1m29 -5.5h1m-17.5 -31h1m-2 17h1m24 22h1m-26.5 -9h1m18.5 -5h1m-2 2.5h1m-14.5 -17.5h1m-1.5 19.5h1m-6 -25.5h1m19.5 -3.5h1m5 22.5h1m-17 16h1m-14 -30.5h1m31.5 17h1m-24.5 -2.5h1m7.5 12.5h1m-5.5 -16.5h1m-4 5h1m12 2.5h1m6 -7h1m-19.5 18h1m9.5 -9.5h1m-18.5 -15h1m3 10.5h1m3 -15h1m-10.5 15h1m18.5 -11h1m-11.5 -6h1m-0.5 12.5h1m-5 -9h1m-15.5 6h1m9.5 17h1m-11 -12.5h1m33 -11.5h1m-8.5 1h1m-10 25.5h1m-3 -11.5h1m-7 -2h1m17 1h1m-14.5 1.5h1m13.5 -14h1m-10.5 5.5h1m-1.5 15.5h1m-3.5 1.5h1m-8.5 -17.5h1m-2.5 3.5h1m10 1h1m-13.5 -2.5h1m4.5 8h1m-1 5h1m11.5 -24h1m-6 2.5h1m2.5 27h1m-8 -11h1m-7 -26.5h1m2 19.5h1m-11 0h1m15 10h1m10 4.5h1m-17 -11h1m11 -7h1m0.5 18.5h1m-11.5 -17.5h1m3.5 23.5h1m3.5 -13h1m-0.5 -10h1m0.5 -5h1m-9 16.5h1m-23 5.5h1m5 -6h1m7 -4.5h1m-8 18h1m16.5 -1h1m-0.5 -10h1m-4.5 -9.5h1m2.5 5h1m-4.5 -15h1m-7.5 16h1m-1.5 -2.5h1m5.5 -11h1m-9 0.5h1m3.5 5.5h1m14.5 -19.5h1m4 0.5h1m-8 -0.5h1m-1.5 0.5h1m-2.5 -2h1m3 3.5h1m3.5 -1h1m-4.5 -1.5h1m3.5 2.5h1m-4 -1h1m-1.5 1h1m-1.5 -3h1m-6.5 3h1m5.5 -1.5h1m-5.5 -2.5h1m-2.5 3h1m-1 -1h1m0 -1h1m4.5 1h1m-5 -2h1m-1 3h1m0.5 -1h1m5.5 0h1m-9.5 2h1m-0.5 -1.5h1m-1.5 -1h1m0 0h1m-1.5 1h1m5.5 1h1m1 -2h1m-8.5 -0.5h1m5 2.5h1m-10 -1h1m3.5 0h1m3 2h1m-10 -3.5h1m10 1.5h1m-8 -2h1m0 1.5h1m4.5 1h1m-1.5 0.5h1m-9.5 -2.5h1m2 2.5h1m2.5 -0.5h1m-4.5 -1h1m5 3h1m-10 -2.5h1m8 -1h1m-5 1.5h1m-1 -3h1m-0.5 4h1m-6 -0.5h1m1.5 -1.5h1m-4 1h1m6 0h1m-6.5 1.5h1m-3.5 -3h1m8 -0.5h1m-7.5 -1h1m6.5 2h1m-7 -1.5h1m1.5 1.5h1m0.5 1h1m-4.5 -1h1m4.5 -0.5h1m-3 2h1m0 -1.5h1m-5 0.5h1m-6 1h1m-0.5 -2.5h1m-1 0.5h1m3.5 3.5h1m4 -3h1m-6 -1h1m-2.5 1h1m-4.5 -0.5h1m2 -0.5h1m-3.5 1h1m2.5 0.5h1m-1 0h1m-4 39.5h1m-14 1h1m1.5 -0.5h1m0.5 1h1m1 -0.5h1m-12 0.5h1m-3.5 0.5h1m15.5 -0.5h1m-17.5 0h1m-1 0h1m22 -0.5h1m-7 0h1m-15.5 -1h1m5.5 2h1m8 -0.5h1m-2 -0.5h1m4 0.5h1m-8 0h1m-7.5 0.5h1m-1.5 -1h1m8 1h1m-13 -0.5h1m7.5 0h1m-9 -1h1m14 0.5h1m-8 0h1m-7.5 0.5h1m13.5 0.5h1m-4.5 -1.5h1m-10 1h1m-6.5 -1.5h1m14 0h1m-10.5 1h1m8 -0.5h1m-4 1h1m6 0h1m-20 0h1m19.5 0h1m-9 0h1m-13.5 0.5h1m-5.5 -1h1m22.5 0h1m-7.5 0h1" stroke="#ec0c16" stroke-opacity="0.85" stroke-width="1" fill="none"/><path d="M74 364.5h1m-2 13h1m40.5 -6h1m-38 -6.5h1m10.5 -6h1m23.5 11.5h1m-42 9.5h1m41 -36.5h1m-11.5 7h1m-15 -3.5h1m-8.5 32h1m13.5 -26h1m15 7h1m-33.5 3h1m1.5 23.5h1m12 -50.5h1m15 10h1m-21.5 36h1m-1 -22h1m27.5 -4.5h1" stroke="#ec0c16" stroke-opacity="0.4" stroke-width="1" fill="none"/><ellipse cx="53.9" cy="352.4" rx="19.6" ry="12.9" fill="none" stroke="#000" stroke-width="1.55"/><path d="M36.4,402.4 H122.4 V458.2" stroke="#7a7a7a" stroke-width="0.8" fill="none"/><path d="M36.4,402.4 V458.2 H122.4" stroke="#333" stroke-width="0.9" fill="none"/><path d="M36.4,458.2v2M36.4,458.2h-2M42.9,458.2v1.2M36.4,454.0h-1.2M46.7,458.2v1.2M36.4,451.5h-1.2M49.3,458.2v1.2M36.4,449.8h-1.2M51.4,458.2v1.2M36.4,448.4h-1.2M53.1,458.2v1.2M36.4,447.3h-1.2M54.6,458.2v1.2M36.4,446.4h-1.2M55.8,458.2v1.2M36.4,445.6h-1.2M56.9,458.2v1.2M36.4,444.9h-1.2M57.9,458.2v2M36.4,444.2h-2M64.4,458.2v1.2M36.4,440.1h-1.2M68.2,458.2v1.2M36.4,437.6h-1.2M70.8,458.2v1.2M36.4,435.9h-1.2M72.9,458.2v1.2M36.4,434.5h-1.2M74.6,458.2v1.2M36.4,433.4h-1.2M76.1,458.2v1.2M36.4,432.5h-1.2M77.3,458.2v1.2M36.4,431.7h-1.2M78.4,458.2v1.2M36.4,430.9h-1.2M79.4,458.2v2M36.4,430.3h-2M85.9,458.2v1.2M36.4,426.1h-1.2M89.7,458.2v1.2M36.4,423.6h-1.2M92.3,458.2v1.2M36.4,421.9h-1.2M94.4,458.2v1.2M36.4,420.5h-1.2M96.1,458.2v1.2M36.4,419.4h-1.2M97.6,458.2v1.2M36.4,418.5h-1.2M98.8,458.2v1.2M36.4,417.7h-1.2M99.9,458.2v1.2M36.4,417.0h-1.2M100.9,458.2v2M36.4,416.3h-2M107.4,458.2v1.2M36.4,412.2h-1.2M111.2,458.2v1.2M36.4,409.7h-1.2M113.8,458.2v1.2M36.4,408.0h-1.2M115.9,458.2v1.2M36.4,406.6h-1.2M117.6,458.2v1.2M36.4,405.5h-1.2M119.1,458.2v1.2M36.4,404.6h-1.2M120.3,458.2v1.2M36.4,403.8h-1.2M121.4,458.2v1.2M36.4,403.0h-1.2" stroke="#555" stroke-width="0.6" fill="none"/><text x="37.2" y="465.2" font-size="5.2" text-anchor="middle" font-family="'Liberation Serif', serif" fill="#6a6a6a">10<tspan font-size="3.8" dy="-2">0</tspan></text><text transform="translate(34.2,458.2) rotate(-90)" font-size="5.2" text-anchor="middle" font-family="'Liberation Serif', serif" fill="#6a6a6a">10<tspan font-size="3.8" dy="-2">0</tspan></text><text x="58.7" y="465.2" font-size="5.2" text-anchor="middle" font-family="'Liberation Serif', serif" fill="#6a6a6a">10<tspan font-size="3.8" dy="-2">1</tspan></text><text transform="translate(34.2,444.2) rotate(-90)" font-size="5.2" text-anchor="middle" font-family="'Liberation Serif', serif" fill="#6a6a6a">10<tspan font-size="3.8" dy="-2">1</tspan></text><text x="80.2" y="465.2" font-size="5.2" text-anchor="middle" font-family="'Liberation Serif', serif" fill="#6a6a6a">10<tspan font-size="3.8" dy="-2">2</tspan></text><text transform="translate(34.2,430.3) rotate(-90)" font-size="5.2" text-anchor="middle" font-family="'Liberation Serif', serif" fill="#6a6a6a">10<tspan font-size="3.8" dy="-2">2</tspan></text><text x="101.7" y="465.2" font-size="5.2" text-anchor="middle" font-family="'Liberation Serif', serif" fill="#6a6a6a">10<tspan font-size="3.8" dy="-2">3</tspan></text><text transform="translate(34.2,416.3) rotate(-90)" font-size="5.2" text-anchor="middle" font-family="'Liberation Serif', serif" fill="#6a6a6a">10<tspan font-size="3.8" dy="-2">3</tspan></text><text x="123.2" y="465.2" font-size="5.2" text-anchor="middle" font-family="'Liberation Serif', serif" fill="#6a6a6a">10<tspan font-size="3.8" dy="-2">4</tspan></text><text transform="translate(34.2,402.4) rotate(-90)" font-size="5.2" text-anchor="middle" font-family="'Liberation Serif', serif" fill="#6a6a6a">10<tspan font-size="3.8" dy="-2">4</tspan></text><path d="M55 416.5h1m-14 -0.5h1m6.5 0h1m4.5 1h1m-13 1h1m12.5 2h1m-2 3h1m-17.5 -5h1m14 -2h1m-10 7.5h1m-2 -7.5h1m4 1.5h1m4.5 0h1m13.5 21h1m0.5 5h1m-4.5 -22h1m-20 -6.5h1m27.5 31.5h1m-28 -25.5h1m2.5 -3h1m19.5 2.5h1m2.5 -3.5h1m-27.5 -5h1m7.5 13.5h1m14 -10.5h1m-13.5 24.5h1m-13.5 -29h1m5 13.5h1" stroke="#b07080" stroke-opacity="0.5" stroke-width="1" fill="none"/><path d="M98 440h1m3 -7h1m3 15h1m-4.5 -23.5h1m-5 11.5h1m-0.5 -3h1m4 -5h1m1.5 -3.5h1m-9 14h1m2 -4h1m-3 7h1m0.5 -9.5h1m0.5 20.5h1m-2 -19.5h1m-3 -5h1m7 22h1m-7.5 4.5h1m2.5 -7.5h1m-4 -4.5h1m-1.5 8.5h1m2 -23h1m-6.5 3h1m4 -5.5h1m0 3.5h1m-2 9.5h1m-3.5 -12h1m-0.5 15.5h1m-5.5 -12.5h1m3 0.5h1m0.5 6.5h1m0.5 -8.5h1m-3 2.5h1m-2.5 -6h1m-2.5 14.5h1m1.5 -11h1m-0.5 2.5h1m2 16.5h1m-4.5 -17.5h1m-2.5 8h1m0.5 0h1m-2.5 -7h1m0 9h1m-6.5 6h1m0.5 -14.5h1m0 4.5h1m4 -1.5h1m-2.5 7.5h1m-0.5 -9.5h1m2 8h1m-7.5 -12.5h1m5 -1.5h1m-3 5h1m-4 1h1m5 1.5h1m-9 -3.5h1m0 -4.5h1m1.5 0h1m0.5 8.5h1m-2.5 -9.5h1m-6.5 21h1m4 -9h1m0 5.5h1m6 12.5h1m-4 -28.5h1m-4.5 17h1m-4.5 1.5h1m3 -3.5h1m-5 -3h1m2.5 -9h1m-0.5 11h1m-3 -14.5h1m0.5 5.5h1m-2.5 2h1m-1.5 0.5h1m5 -7.5h1m-4 14.5h1m-3.5 -9.5h1m-2 12h1m1.5 -15h1m0 -2.5h1m0 22.5h1m0.5 -1.5h1m-3.5 -11.5h1m-5.5 4.5h1m7.5 -11.5h1m-4 20.5h1m-7.5 -18.5h1m2 0.5h1m-1.5 10.5h1m4 -14h1m-7.5 2h1m1 10.5h1m4 -0.5h1m-3 -13h1m-4 11h1m5 -9.5h1m-9.5 25h1m4 -20.5h1m-3 10.5h1m1 2h1m-3 -5h1m-3 -10.5h1m2 -1h1m-5 23h1m4 1h1m-3.5 -12h1m2.5 -6h1m-4.5 19h1m-2 -23h1m2 25.5h1m1.5 -18h1m-10 5h1m5 -3.5h1m0.5 -11.5h1m-7 20.5h1m0.5 7.5h1m3.5 -22.5h1m-5 24.5h1m-0.5 -4h1m5.5 -22h1m-8.5 -5.5h1m-1 3h1m-5 5h1m2.5 22h1m-1.5 -26h1m7.5 23h1m-2.5 -26.5h1m-8 18.5h1m8 -8h1m-4.5 -8h1m-3.5 -2h1m2 14h1m-2.5 -16.5h1m-4 12.5h1m-4 -4.5h1m1.5 -4.5h1m1.5 2h1m-2 -1.5h1m-2 7.5h1m3.5 -9.5h1m-6.5 -2h1m4.5 8.5h1m-5 -7h1m1 26.5h1m-1.5 -17.5h1m-3 -9.5h1m-4 6h1m4 0.5h1m-1 -1.5h1m1.5 2h1m-2.5 -1.5h1m-5 15h1m0.5 -7h1m-6.5 4h1m3 9.5h1m5.5 -7h1m-0.5 -4h1m-3 -14.5h1m-2 19.5h1m-0.5 5h1m-1 -2.5h1m-7.5 -23h1m1.5 3h1m5 18h1m-1 6h1m-4 -13.5h1m-2.5 -4h1m-1 -10.5h1m-1.5 10.5h1m-2 -9.5h1m-4 -1h1m5 8.5h1m-2.5 -7.5h1m-0.5 1.5h1m4.5 11.5h1m-4.5 -5h1m-4.5 -3h1m2.5 -3h1m-6.5 8.5h1m6 -2.5h1m-3.5 -1.5h1m-2 -8h1m1 12h1m1.5 1.5h1m-7.5 -0.5h1m7.5 11.5h1m-7 -12h1m3 2.5h1m-7 5h1m2 -1h1m-4 -6.5h1m3 0.5h1m-4 10h1m-2 -12h1m5.5 -3.5h1m-4.5 9h1m-7.5 -7h1m4 -4h1m-3 13h1m-2 0h1m1 -3h1m-1 -8h1m0.5 -2.5h1m-3 -5.5h1m-4 3h1m2.5 10h1m3 -12.5h1m-7.5 5.5h1m4.5 18.5h1m-1 -19.5h1m-3.5 24h1m1 -1h1m-4 -6h1m0 -11h1m-3 6.5h1m3.5 14h1m1.5 -17h1m-7 11.5h1m4.5 -22h1m-7 9.5h1m-1.5 7h1m7 -20h1m-7.5 5h1m2.5 10h1m-8.5 -10.5h1m5 -1h1m0 -1h1m-2.5 0.5h1m-0.5 4h1m1 4.5h1m0 -8.5h1m-3.5 21h1m-6.5 -19.5h1m3 -1.5h1m2 12.5h1m-6 -6h1m3 3.5h1m-4 -7.5h1m1 -3.5h1m-3.5 3h1m9 4h1m-8.5 1.5h1m-0.5 -3h1m-4 -5.5h1m0.5 1.5h1m-4.5 -3h1m-1.5 20h1m4.5 0h1m-2 -16.5h1m-8.5 -1h1m0.5 18h1m4 5h1m0 -17h1m0.5 15.5h1m-6 -18h1m4 6.5h1m-3.5 -2.5h1m-1.5 15.5h1m0 -19.5h1m2.5 10.5h1m-2.5 -15.5h1m0 0.5h1m-5.5 5h1m0 -7h1m-3.5 15.5h1m1 10.5h1m-0.5 -17.5h1m-1.5 2h1m2.5 -6.5h1m-2 13h1m0 2.5h1m-2.5 -14.5h1m1.5 -4h1m-3.5 3.5h1m1 -2h1m-2 14.5h1m-0.5 10.5h1m-3 -14.5h1m-4.5 -10h1m-1.5 11.5h1m8.5 5h1m-5.5 -16h1m-1 4.5h1m-2.5 -2.5h1m-2 3.5h1m8.5 -5h1m-9 2h1m-1 1h1m-4 -1h1m-1.5 -0.5h1m0.5 8.5h1m0 -12.5h1m-1.5 5.5h1m3 -7h1m-7 12h1m3.5 6h1m2 -9h1m-2.5 5.5h1m-6.5 7.5h1m-6.5 -19h1m10 9.5h1m-2 -12.5h1m-4 19h1m4 -16h1m-5.5 0h1m0.5 14h1m-4.5 -2h1m3 13.5h1m-3 1.5h1m-1.5 -26h1m3.5 3h1m-3.5 7h1m-5.5 -13.5h1m5 18.5h1m-5.5 -4.5h1m0.5 -10h1m0 24h1m-1.5 -17h1m0 7.5h1m0.5 13h1m-4.5 -26h1m6.5 -2h1m-9 -3h1m-0.5 22.5h1m6 -11h1m-6.5 -11h1m-1.5 24h1m2.5 -8h1m-3.5 -10.5h1m-4 -2.5h1m2.5 0h1m2 12h1m-3 -0.5h1m3 1h1m-4 12.5h1m-3 -27h1m-2 27h1m0.5 -17h1m1 18h1m-2 -26.5h1m-0.5 12h1m-3.5 -12.5h1m0.5 6.5h1m-3.5 8.5h1m-4 -11h1m7.5 -2.5h1m-4.5 13.5h1m-3.5 -4h1m0.5 2h1m-2 -10h1m-5.5 0h1m3.5 14h1m-4.5 -18.5h1m3.5 9.5h1m-2 -4h1m2.5 -4.5h1m-4.5 16.5h1m0.5 2h1m-3 -11.5h1m-1 -7.5h1m-4 23.5h1m6 -22.5h1m-3.5 21.5h1m-3 -10h1m1 -9h1m-2.5 21.5h1m-2 -25h1m1.5 1h1m2 8.5h1m-5.5 8h1m-4 -8h1m1.5 10h1m5.5 -9.5h1m-8.5 -6.5h1m1 -4h1m1.5 19.5h1m-3.5 -17h1m-1.5 -4.5h1m6 16.5h1m-7.5 -8h1m1 -4.5h1m-3.5 8.5h1m-0.5 -9h1m0.5 16.5h1m-0.5 -11h1m3.5 -8h1m-7 19h1m-1.5 -7h1m-2.5 -10.5h1m-2.5 8h1m-2 -3.5h1m5.5 -3.5h1m-8 -0.5h1m8 8.5h1m-2.5 0h1m-4.5 4h1m-3 -13h1m2 6h1m-1 17h1m2 -20h1m-6 7h1m0 16.5h1m0 -3.5h1m-2 4h1m-1.5 -24.5h1m-4.5 3h1m-0.5 -4.5h1m3 -4h1m2.5 13h1m2.5 15h1m-2.5 -14.5h1m-5 10h1m3.5 -7h1m-7 -5.5h1m-2 -10.5h1m7 4.5h1m-10.5 20h1m1 -19.5h1m4 6.5h1m-6.5 -9.5h1m2.5 8.5h1m-4 8h1m-3.5 -8h1m3 5h1m-1 0.5h1m-4.5 1h1m-0.5 -3.5h1m3 6.5h1m-2 4h1m0 -18h1m-4 -3.5h1m2 28.5h1m-4 -19h1m-3 -11h1m0.5 17.5h1m1.5 -4h1m-1 8h1m1.5 -23h1m-8.5 15h1m3 11.5h1m0.5 -12.5h1m-4.5 -0.5h1m2 -5h1m-2.5 -6h1m-3 2.5h1m5 -4h1m-8 12h1m6 0.5h1m-5 3h1m-2.5 -2.5h1m-1 0.5h1m-0.5 18h1m-1.5 -2h1m2.5 -19.5h1m-7 -1h1m7.5 1.5h1m-2 1.5h1m0.5 9h1m-7.5 -17h1m-5 7h1m4 -1h1m0 -3.5h1m0.5 12h1m-3.5 -1.5h1m-4 4.5h1m8.5 -13.5h1m-9 5.5h1m3 -14h1m1 11h1m-6 -9.5h1m1 27h1m3.5 -24h1m-6.5 13.5h1m3 -9h1m-3 18.5h1m-1.5 -18h1m0.5 -5h1m-3.5 -0.5h1m-1 13h1m2 -9h1m-2.5 -0.5h1m-0.5 25h1m-2.5 -32.5h1m2.5 13h1m-2 -7.5h1m-2.5 -3h1m-3.5 -2.5h1m-1 25h1m2 -1h1m1.5 -15h1m-5 22.5h1m2.5 -25h1m-5.5 1h1m3.5 0h1m-7.5 13h1m2.5 -20.5h1m-4.5 15h1m4 12.5h1m-5 -23h1m0 0.5h1m-4 26h1m0.5 -26.5h1m3.5 -4h1m1 2h1m-6 26.5h1m-1 -24h1m0.5 12h1m-3 1.5h1m0 14.5h1m2 -29h1m-3 7.5h1m-1.5 13h1m-2.5 -6.5h1m4.5 -14h1m-6.5 -4h1m1 19.5h1m-4.5 -13h1m0.5 4.5h1m1 -4h1m-2.5 -5h1m1.5 12h1m-2.5 8h1m-5 6.5h1m3 -20.5h1m3.5 2.5h1m-8 -7.5h1m-1 14.5h1m-1 3h1m1 -13h1m3 0h1m-4 -3.5h1m-6 1.5h1m3.5 0.5h1m-7.5 4.5h1m4.5 -3h1m-2.5 -8.5h1m6 7.5h1m-4.5 7.5h1m1 -4.5h1m-4.5 0h1m2 1.5h1m-5.5 -0.5h1m1.5 1h1m-1.5 2.5h1m-1 -2h1m-1.5 -6h1m-4 2h1m3.5 5.5h1m-3 -7h1m-2 7.5h1m1 -7.5h1m1 -3.5h1m-3 5.5h1m-2 -4.5h1m2.5 11.5h1m-8 -6.5h1m5 9h1m-4.5 -13.5h1m0.5 12.5h1m-1 -7.5h1m4.5 -10h1m-13 12.5h1m8 -9h1m-2 5.5h1m-2 -3.5h1m-3 0h1m0.5 2.5h1m4 3.5h1m-11 -1h1m8.5 -0.5h1m-2 -1h1m-2.5 -4h1m-0.5 -1.5h1m0.5 -0.5h1m-11.5 8h1m5 -1.5h1m1 -0.5h1m-5 1h1m2.5 1h1m4 -5h1m-7 5.5h1m-2.5 -7.5h1m-1 9.5h1m-0.5 -2h1m-2.5 -0.5h1m-0.5 -5.5h1m1.5 3.5h1m3 -6.5h1m-4 13h1m1.5 -8h1m-7 -0.5h1m2 3h1m-1 1.5h1m-5.5 -7h1m-1.5 -1h1m2.5 7h1m7.5 0.5h1m-9 4h1m-3.5 -4.5h1m4.5 1.5h1m-3 -4.5h1m-6 1h1m1 3.5h1m0.5 -0.5h1m-5.5 1.5h1m1.5 -10.5h1m-2.5 4h1m6.5 5.5h1m-8 -2.5h1m2 -7h1m-3.5 -2h1m-0.5 -2.5h1m-1 7h1m-1 0.5h1m5 2h1m-4 4.5h1m1.5 0h1m-5.5 -7.5h1m-2 2.5h1m1.5 1.5h1m2.5 0h1m1 4.5h1m-8 -0.5h1m-8.5 2h1m9.5 -4h1m-7.5 9h1m3 -11h1m3.5 -0.5h1m-7 3.5h1m-1.5 0.5h1m2.5 1.5h1m-5 0.5h1m3.5 3h1m-4 -0.5h1m3 -4.5h1m-5 -0.5h1m3 -6h1m-6.5 0.5h1m7 3.5h1m-2.5 0.5h1m-3.5 0h1m-3 4h1m1 -4h1m4.5 -18.5h1m3 1.5h1m-1 -2h1m-1 3h1m-8 0.5h1m3.5 -2.5h1m-3.5 1.5h1m-0.5 -2.5h1m0.5 0h1m-5.5 1h1m-1.5 0.5h1m1 0h1m-3 -1h1m6.5 3.5h1m-7 -2h1m-5 0h1m6 0.5h1m3.5 -1h1m-6.5 -0.5h1m-4 0h1m6.5 -1.5h1m-4.5 4h1m-1 -3h1m-3 -1h1m3 1h1m-2.5 -1h1m-2.5 4.5h1m-3.5 -2h1m4.5 1h1m0.5 0.5h1m-11 -1.5h1m-1.5 0h1m-0.5 -1.5h1m8.5 1h1m-4 -0.5h1m-3.5 0.5h1m5.5 -1h1m-1 2.5h1m-7.5 -0.5h1m-1.5 -1h1m1 -2h1m-0.5 3h1m2 0h1m-0.5 -1h1m-8 -1.5h1m6 2h1m-10.5 1h1m0.5 -4h1m1.5 3h1m-5 -2.5h1m2 2h1m-4.5 2h1m8 -2h1m-2.5 0.5h1m-6 -1h1m2.5 0.5h1m-3 3h1m4.5 -1.5h1m-7.5 -2h1m-1.5 0h1m5.5 0.5h1m-1.5 2.5h1m-1.5 -2h1m-8.5 1h1m-1.5 -2h1m9.5 -1h1m-0.5 3h1m-10 -1.5h1m2.5 -1h1m-1.5 0h1m-3 0h1m-3.5 0.5h1m1 -1.5h1m7.5 3.5h1m-7 -1h1m-4 0.5h1m-2.5 -1.5h1m6 1h1m1 -0.5h1m-8 1.5h1m5 -0.5h1m-9.5 -0.5h1m0 -1.5h1m5 -0.5h1m-7.5 0.5h1m3.5 0h1m-0.5 0.5h1m-6.5 -1h1m8.5 3.5h1m-2 -1.5h1m-0.5 -3h1m-2.5 1h1m-5.5 0h1m4 2h1m-2.5 1h1m-0.5 -2.5h1m0.5 2h1m-6.5 -1.5h1m6.5 2h1m-6.5 0h1m-13.5 29.5h1m-4 -11.5h1m-11.5 7.5h1m9 -7.5h1m-1 2h1m-10 -3.5h1m19 3h1m1 -9h1m-26 13h1m18.5 -8h1m-2.5 16h1m3.5 -10.5h1m-11.5 -15.5h1m-0.5 19.5h1m12 -16h1m-21.5 3h1m14.5 -15.5h1m-3 12h1m-7.5 22h1m4.5 -10.5h1m-13 10.5h1m6 -0.5h1m2.5 -12.5h1m8.5 -0.5h1m-10 -1.5h1m-7 4h1m-5 5h1m18 -4h1m-1 5.5h1m2.5 -16.5h1m-4 6.5h1m-4 1.5h1m-3 1.5h1m-26.5 -7h1m14 10h1m-19.5 -12h1m13 10h1m7.5 -6.5h1m-17 11.5h1m10 6h1m-3 -2.5h1m-4 -4h1m8 2h1m-10.5 -5.5h1m0 -0.5h1m7 8.5h1m-0.5 4.5h1m2 -1h1m7.5 -27.5h1m-11 18h1m-23.5 -9.5h1m15 1h1m4 -10.5h1m5 26h1m-5 -11.5h1m-4 -1h1m9.5 9.5h1m6.5 -8.5h1m-6 -2h1m-15.5 -5h1m5.5 10h1m-0.5 15.5h1m-7 -11h1m7.5 -4.5h1m-14 4h1m8.5 4.5h1m2 -14.5h1m-4.5 19h1m-9 -9h1m-2.5 -2h1m20 0.5h1m-25 1.5h1m9.5 8h1m-15.5 -20.5h1m11 -6.5h1m10 -4.5h1m-19 5.5h1m0.5 22.5h1m10.5 1.5h1m-1 -30h1m-3.5 2h1m-8.5 14.5h1m-1.5 9h1m-3 12.5h1m11.5 -5.5h1m0.5 -3h1m-17.5 -4.5h1m8.5 -6.5h1m2 -5.5h1m4 15.5h1m-8 -0.5h1m-11.5 -25.5h1m3.5 15.5h1m26.5 0.5h1m-14 10.5h1m8.5 -7h1m-14 -3.5h1m-14.5 -8h1m-0.5 24.5h1m8.5 -16h1m-3.5 -4h1m-1 5h1m5 9.5h1m-21.5 -6.5h1m26 -12.5h1m-15.5 12h1m11 4h1m-13 -1h1m10.5 -1h1m6.5 0.5h1m-27.5 -12h1m7.5 5.5h1m5.5 5.5h1m9 4.5h1m-3 -15.5h1m-18 14.5h1m3.5 -0.5h1m0.5 -12.5h1m12 17.5h1m-30.5 -17.5h1m13.5 13h1m-2 -20.5h1m7 11.5h1m2.5 5h1m-3 5.5h1m-2 -13.5h1m0.5 7h1m-21.5 -6h1m7 9h1m8.5 -16h1m-1 10.5h1m-17 9h1m2 -20h1m12.5 20.5h1m-13.5 2h1m13.5 -16h1m8 4.5h1m-17 -23h1m3 17.5h1m-3 -11h1m5.5 32h1m5.5 -44h1m-12.5 32.5h1m-33.5 -10.5h1m25.5 21.5h1m-7.5 -12h1m6 1.5h1m-4.5 5.5h1m11.5 -22.5h1m0.5 6h1m-13.5 18.5h1m2 -5.5h1m5.5 0.5h1m-13 -15.5h1m10 17h1m-4 -9.5h1m3.5 1.5h1m-21 3.5h1m16 4.5h1m-13.5 -15h1m10 3h1m-4.5 14h1m2 7.5h1m-3.5 -17.5h1m11 -4.5h1m-17 7.5h1m6.5 -16h1m-2 10.5h1m-3.5 5h1m-2.5 9h1m5 -12.5h1m-4.5 12h1m5.5 2.5h1m-9.5 -11h1m18.5 -2h1m-4 9h1m-20 -22.5h1m8.5 7h1m-13 -10h1m16 18h1m-11.5 3h1m1 -3h1m1.5 -3.5h1m-28.5 10h1m25.5 -7h1m9.5 -14.5h1m-41 29h1m28.5 -31.5h1m-8 22.5h1m-8.5 -0.5h1m29 8.5h1m-20.5 -10.5h1m-9 -2h1m4.5 -11.5h1m2.5 0h1m-5.5 25h1m17.5 -21h1m-14 15h1m-5.5 -20.5h1m-7 11.5h1m1 -13h1m4 22.5h1m7 -11.5h1m10 -6h1m-19 -5.5h1m7 12.5h1m-23 -7h1m30 15h1m-16 1.5h1m-16.5 -16.5h1m1.5 0h1m7.5 13h1m11.5 4.5h1m14 -14.5h1m-25.5 10h1m-8 -8h1m10 -6h1m-0.5 21h1m-15 -34.5h1m9.5 12h1m0 6h1m0 15.5h1m3.5 -14.5h1m-18.5 -21.5h1m-10 17h1m19 1h1m-7 -9h1m-10.5 -1.5h1m19 -2.5h1m-0.5 10.5h1m-2 11.5h1m0.5 9.5h1m-14.5 -22h1m2 2h1m8.5 6.5h1m-6.5 5.5h1m-5.5 6.5h1m-13.5 -8.5h1m20 -10h1m-11.5 16.5h1m2 -28h1m-10 29h1m3 3h1m19.5 -15h1m-8.5 -6h1m-9.5 1h1m8 -6h1m-7.5 13.5h1m4.5 -21.5h1m-21.5 12h1m13 10.5h1m7 4.5h1m-11.5 1.5h1m9.5 -1h1m-8 -0.5h1m13.5 -14h1m-34 16h1m25 -10.5h1m-12 -9.5h1m-1 17h1m-2 -9h1m7 -0.5h1m-2.5 4h1m-11.5 1h1m-2 8.5h1m1 -11.5h1m-9 -2h1m4 19h1m9.5 -9.5h1m-16 -17.5h1m13.5 -1h1m10.5 9.5h1m-10 7h1m-3.5 4.5h1m-5.5 -4h1m15.5 -1.5h1m-10.5 -5.5h1m-1.5 10h1m-4 -23.5h1m2.5 15.5h1m2 1.5h1m9 -12h1m-24 18h1m-1.5 -3h1m8 -22.5h1m5 32.5h1m-5 -27h1m4 3.5h1m-9 14.5h1m-6.5 -21h1m4.5 16.5h1m-7.5 -7.5h1m13.5 7h1m-12 -5h1m4.5 6.5h1m-4 -14.5h1m-2.5 7.5h1m3 17.5h1m6.5 -5h1m-8.5 -9.5h1m1 -1.5h1m-7 -3.5h1m1.5 7.5h1m16 6h1m-20.5 2h1m-2 2.5h1m-6.5 -10.5h1m7.5 3.5h1m6.5 -12.5h1m-13.5 12.5h1m13.5 -13.5h1m-23 22h1m20 -1h1m-17 -12.5h1m9.5 6.5h1m-4 -5h1m9 -3.5h1m-14.5 0h1m-0.5 5.5h1m1.5 -5.5h1m13 7h1m-16 9.5h1m-3 -12.5h1m3 -5.5h1m-3.5 6.5h1m-10 -4.5h1m13.5 6.5h1m2.5 -4h1m-8 1h1m4 -2.5h1m8 -8h1m-8.5 15.5h1m-16 1h1m13.5 -12h1m14 13h1m-23.5 -11.5h1m-4.5 7h1m5.5 -16h1m-10 7h1m4 3h1m-3 9.5h1m13 -5h1m-28 -2.5h1m22.5 1h1m-3.5 1.5h1m-16 -25h1m17 19h1m-3 2h1m-6 16h1m-9.5 -13h1m0 1h1m12 5.5h1m-3.5 -19.5h1m-0.5 21.5h1m2 -18h1m-10.5 10.5h1m12.5 -11.5h1m-2 17h1m-16.5 -0.5h1m0 -6h1m3 2.5h1m-8.5 2.5h1m-9.5 -8.5h1m13 18.5h1m8 -19.5h1m-13 5h1m-17 0h1m1.5 9.5h1m13.5 5.5h1m1 -5h1m5.5 1h1m-2.5 -39.5h1m-7.5 13.5h1m13 19.5h1m-9 -0.5h1m1 -10h1m14 8h1m-19.5 -16.5h1m-4.5 14h1m2.5 -4.5h1m0 -6h1m-0.5 -4h1m-8 7.5h1m13.5 12h1m-7.5 -16h1m-5.5 18.5h1m13.5 -21.5h1m-15.5 15h1m5.5 -1h1m2 -13.5h1m6.5 3h1m-14 15.5h1m8.5 4h1m-3.5 3.5h1m-9.5 -5h1m13.5 -14.5h1m-26.5 -2.5h1m23.5 21.5h1m-16.5 -9.5h1m6.5 7.5h1m-21.5 -15h1m13 8.5h1m2 -6.5h1m1 -21h1m22.5 32h1m-19.5 -14h1m7 7h1m-27.5 1h1m7 6.5h1m-9 -10h1m12 -2.5h1m6 -6.5h1m-21 7.5h1m17 0.5h1m-13 10.5h1m6 -12.5h1m-2 2.5h1m3 3.5h1m-13 -5.5h1m2.5 8h1m5.5 -11.5h1m-6 11h1m10.5 -1h1m6 -2h1m-11.5 -3.5h1m-15.5 4.5h1m11.5 2h1m-4 -6.5h1m-9 0.5h1m10 12h1m-33.5 -3.5h1m36.5 6.5h1m-7 -6h1m-8 -7h1m7.5 -9.5h1" stroke="#ec0c16" stroke-opacity="0.85" stroke-width="1" fill="none"/><path d="M101.5 434.5h1m2 6h1m-11 15.5h1m-18.5 -38h1m22 31.5h1m-16 -13.5h1m10 -30.5h1m-25.5 19h1m47.5 32.5h1m-41.5 -13h1m41 -3.5h1m-11.5 1.5h1m-22 14h1m8.5 -22.5h1m-19 -21.5h1m-12 -4.5h1m24 27.5h1m-23 -20.5h1m4.5 40h1m-6.5 2.5h1" stroke="#ec0c16" stroke-opacity="0.4" stroke-width="1" fill="none"/><ellipse cx="53.9" cy="420.5" rx="19.6" ry="13.9" fill="none" stroke="#000" stroke-width="1.55"/><text x="128.8" y="233.6" font-size="10" text-anchor="start" font-weight="normal" font-family="'Liberation Serif', serif" fill="#000" >No mAb</text><text x="128.5" y="307.09999999999997" font-size="10" text-anchor="start" font-weight="normal" font-family="'Liberation Serif', serif" fill="#000" >Control IgG</text><text x="127.3" y="376.0" font-size="10" text-anchor="start" font-weight="normal" font-family="'Liberation Serif', serif" fill="#000" >Anti-CD154</text><text x="127.3" y="440.9" font-size="10" text-anchor="start" font-weight="normal" font-family="'Liberation Serif', serif" fill="#000" >Naive</text><path d="M16.8,473.3 V386 M16.8,473.3 H90" stroke="#000" stroke-width="1.6" fill="none"/><path d="M16.8,379.5 L13.2,388 L20.4,388 Z" fill="#000"/><path d="M97,473.3 L88.5,469.7 L88.5,476.9 Z" fill="#000"/><text transform="translate(10.3,335.8) rotate(-90)" font-size="10" font-weight="bold" text-anchor="middle" font-family="'Liberation Serif', serif">CD44 FITC</text><text x="75.1" y="489.8" font-size="10.6" text-anchor="middle" font-weight="bold" font-family="'Liberation Serif', serif" fill="#000" >CD62L PE</text><text x="195" y="210.5" font-size="17.5" text-anchor="start" font-weight="bold" font-family="'Liberation Sans', sans-serif" fill="#000" >D</text><path d="M243.6,200.7 H327.3 V250.5" stroke="#7a7a7a" stroke-width="0.8" fill="none"/><path d="M243.6,200.7 V250.5 H327.3" stroke="#333" stroke-width="0.9" fill="none"/><path d="M243.6,250.5v2M243.6,250.5h-2M249.9,250.5v1.2M243.6,246.8h-1.2M253.6,250.5v1.2M243.6,244.6h-1.2M256.2,250.5v1.2M243.6,243.0h-1.2M258.2,250.5v1.2M243.6,241.8h-1.2M259.9,250.5v1.2M243.6,240.8h-1.2M261.3,250.5v1.2M243.6,240.0h-1.2M262.5,250.5v1.2M243.6,239.3h-1.2M263.6,250.5v1.2M243.6,238.6h-1.2M264.5,250.5v2M243.6,238.1h-2M270.8,250.5v1.2M243.6,234.3h-1.2M274.5,250.5v1.2M243.6,232.1h-1.2M277.1,250.5v1.2M243.6,230.6h-1.2M279.2,250.5v1.2M243.6,229.3h-1.2M280.8,250.5v1.2M243.6,228.4h-1.2M282.2,250.5v1.2M243.6,227.5h-1.2M283.4,250.5v1.2M243.6,226.8h-1.2M284.5,250.5v1.2M243.6,226.2h-1.2M285.4,250.5v2M243.6,225.6h-2M291.7,250.5v1.2M243.6,221.9h-1.2M295.4,250.5v1.2M243.6,219.7h-1.2M298.0,250.5v1.2M243.6,218.1h-1.2M300.1,250.5v1.2M243.6,216.9h-1.2M301.7,250.5v1.2M243.6,215.9h-1.2M303.1,250.5v1.2M243.6,215.1h-1.2M304.3,250.5v1.2M243.6,214.4h-1.2M305.4,250.5v1.2M243.6,213.7h-1.2M306.4,250.5v2M243.6,213.1h-2M312.7,250.5v1.2M243.6,209.4h-1.2M316.4,250.5v1.2M243.6,207.2h-1.2M319.0,250.5v1.2M243.6,205.7h-1.2M321.0,250.5v1.2M243.6,204.4h-1.2M322.7,250.5v1.2M243.6,203.5h-1.2M324.1,250.5v1.2M243.6,202.6h-1.2M325.3,250.5v1.2M243.6,201.9h-1.2M326.3,250.5v1.2M243.6,201.3h-1.2" stroke="#555" stroke-width="0.6" fill="none"/><text transform="translate(241.4,250.5) rotate(-90)" font-size="5.2" text-anchor="middle" font-family="'Liberation Serif', serif" fill="#6a6a6a">10<tspan font-size="3.8" dy="-2">0</tspan></text><text transform="translate(241.4,238.1) rotate(-90)" font-size="5.2" text-anchor="middle" font-family="'Liberation Serif', serif" fill="#6a6a6a">10<tspan font-size="3.8" dy="-2">1</tspan></text><text transform="translate(241.4,225.6) rotate(-90)" font-size="5.2" text-anchor="middle" font-family="'Liberation Serif', serif" fill="#6a6a6a">10<tspan font-size="3.8" dy="-2">2</tspan></text><text transform="translate(241.4,213.1) rotate(-90)" font-size="5.2" text-anchor="middle" font-family="'Liberation Serif', serif" fill="#6a6a6a">10<tspan font-size="3.8" dy="-2">3</tspan></text><text transform="translate(241.4,200.7) rotate(-90)" font-size="5.2" text-anchor="middle" font-family="'Liberation Serif', serif" fill="#6a6a6a">10<tspan font-size="3.8" dy="-2">4</tspan></text><path d="M286 209h1m2 -0.5h1m-36.5 2.5h1m49.5 2h1m-29.5 -4.5h1m23.5 2h1m-25.5 -1.5h1m27 4.5h1m-51.5 -1.5h1m62 -0.5h1m-22.5 -0.5h1m-26 -0.5h1m4 1h1m-15.5 -1.5h1m20.5 -0.5h1m27.5 -0.5h1m-31.5 2h1m-12 -1.5h1m8.5 3h1m-4 -5h1m-0.5 4.5h1m5.5 0h1m14 1h1m-1 -2.5h1m-52 -2h1m66.5 1h1m-44.5 3.5h1m5.5 -2.5h1m4.5 0h1m28 -0.5h1m-65 1h1m58.5 -0.5h1m-13.5 -2h1m-11.5 1.5h1m-10.5 2.5h1m8.5 1h1m11.5 -2.5h1m-19.5 -1h1m34 3.5h1m-27.5 -3h1m-9 -1.5h1m32 2h1m-66 1h1m63.5 1.5h1m-31.5 -3.5h1m-26.5 2h1m40 -1.5h1m-34 2.5h1m16 -1.5h1m3.5 0h1m31 -2h1m-22.5 1h1m-18 0h1m13.5 -5.5h1m-0.5 7.5h1m-38.5 -1.5h1m16.5 -0.5h1m-16.5 0h1m-5.5 0.5h1m15 0.5h1m-22.5 -2.5h1m10 2h1m-1.5 0h1m25.5 0h1m-9.5 -2.5h1m-24.5 2.5h1m64.5 -2h1m-19 2.5h1m-6 1.5h1m-3.5 -0.5h1m5 -2h1m-40.5 -0.5h1m38.5 0h1m-27.5 1.5h1m-13.5 -1.5h1m5.5 0h1m39 -3h1m-32 2.5h1m33.5 0h1m7.5 0.5h1m-5 3h1m-35 -4h1m5.5 0h1m1.5 3h1m-38.5 -2.5h1m48 1h1m2.5 1h1m-45.5 -0.5h1m9 -1.5h1m21 3h1m22.5 1h1m-45 -4h1m37.5 1h1m-61 2h1m34.5 -2h1m-19 -1h1m40.5 1h1m-51 2h1m-8 -3h1m20.5 2h1m26.5 0h1m-2.5 -1.5h1m-30 2h1m27.5 0h1m-44 0.5h1m21.5 0h1m30.5 -4h1m-54 4h1m5 -0.5h1m7.5 0.5h1m-11.5 -3h1m22.5 3h1m-9.5 -1h1m12 -2.5h1m-43.5 4h1m58 -3.5h1m-32 0h1m-25.5 2h1m40 -1.5h1m-34 1.5h1m2 -1h1m39 1h1m-51.5 1h1m63.5 -1.5h1m-53 1.5h1m26 0h1m-37 -3h1m64 3h1m-4.5 -0.5h1m-23 -1h1m-29.5 2h1m6 0.5h1m15 -1h1m-23.5 -4h1m22 3h1m22.5 -0.5h1m-57 -0.5h1m8 1h1m50 -1h1m-8.5 3h1m-62 -2h1m4 -0.5h1m39.5 1.5h1m13 0h1m9.5 0.5h1m-64 -1h1m24.5 -1h1m2 0h1m24 -3.5h1m-28 1h1m-34 4h1m1.5 -2h1m30.5 3.5h1m-28 0h1m27 -5h1m4.5 2.5h1m-7 4.5h1m4.5 -6.5h1m-43 2h1m49.5 -1h1m-50 0h1m33.5 0h1m-27 0.5h1m18 1.5h1m29 -3h1m1 2.5h1m2.5 -2h1m-15 2h1m-13 -0.5h1m19 -2h1m-55.5 2h1m-3.5 -1.5h1m62 -0.5h1m-13 3.5h1m-22.5 -5h1m-14 4h1m52 0h1m-57 -2h1m1.5 3h1m50.5 -0.5h1m-15 -3.5h1m6 3h1m5.5 0h1m0.5 -2h1m-43 2h1m-12 0.5h1m22.5 -2.5h1m-14 -2.5h1m-4.5 4h1m17 -1.5h1m22 -2h1m-26.5 2.5h1m-16.5 -3.5h1m-12 3.5h1m46.5 3h1m-15.5 -7h1m-32 5.5h1m43 -2.5h1m-55 1h1m-0.5 -1h1m14 2.5h1m35.5 -1h1m-20 -1.5h1m11 -0.5h1m15 1.5h1m5 2.5h1m-12 -4h1m-30.5 2.5h1m7 0h1m-41.5 -4h1m5 5.5h1m25.5 -2h1m-9.5 3.5h1m13.5 -0.5h1m-39 -3.5h1m68.5 0.5h1m-35.5 -1.5h1m-24.5 -0.5h1m34.5 3.5h1m-6 -2h1m9 0h1m19.5 0h1m-41.5 1.5h1m-18.5 -1h1m14 -0.5h1m-12.5 0.5h1m16.5 3.5h1m10 -7h1m-9 1.5h1m-36 3h1m-3 -0.5h1m-1 1.5h1m47.5 0h1m-21.5 1.5h1m10 -5h1m-12.5 2.5h1m20.5 -1.5h1m21.5 2h1m-29 -1h1m-31.5 1h1m37.5 -2.5h1m-38.5 1.5h1m34 -1.5h1m-9.5 0.5h1m-42.5 0h1m12 -1h1m2 3.5h1m10 -1.5h1m36.5 1.5h1m-14 -3.5h1m-18 -1.5h1m-6.5 2h1m-29 1h1m13 1.5h1m48 0.5h1m-38 0h1m-8.5 0.5h1m48 -1h1m-54 -1.5h1m41.5 -1h1m-32 2h1m-2 -2h1m-3.5 -0.5h1m-5.5 2.5h1m-1.5 -0.5h1m0.5 1h1m12.5 -2.5h1m-2.5 3h1m-32.5 -1.5h1m26.5 -0.5h1m30.5 -1h1m-6 -1h1m-47 0h1m5 4.5h1m30 -5h1m-1 3.5h1m-44 -1.5h1m18.5 -0.5h1m14 0.5h1m11.5 0.5h1m-10 1.5h1m5 -0.5h1m17 -1h1m-1.5 -2h1m-51 -1h1m48 6h1m-49.5 -4.5h1m-16 -1h1m56.5 4.5h1m8 -4.5h1m-60.5 4h1m47 0h1m-50.5 -1h1m60.5 1h1m-34 -4h1m0.5 0.5h1m30.5 1.5h1m-46 0.5h1m16.5 0h1m-33.5 1h1m4.5 -2h1m25.5 -2.5h1m23.5 4h1m-37.5 -1h1m-28 2h1m15.5 2h1m19 -3.5h1m-33.5 1h1m5 -2.5h1m5 3h1m45 -1h1m-32 0h1m-22 1h1m28.5 -3.5h1m1.5 3h1m2 0h1m8 1.5h1m-13.5 -5.5h1m-39 3h1m39 3.5h1m0 -4h1m-9 0h1m-27.5 3.5h1m3.5 1h1m30.5 -4h1m9.5 -1h1m-52.5 0h1m50 0.5h1m-24 -1h1m12 0h1m10.5 2h1m-53 -0.5h1m47 1h1m0 -1h1m-21.5 -2h1m-16.5 3.5h1m22.5 -1h1m0 -1.5h1m-14.5 0.5h1m8 1h1m14.5 -0.5h1m3 0h1m10.5 1.5h1m1 0.5h1m-71.5 -2.5h1m64.5 0.5h1m-2.5 -2h1m7.5 2h1m-16.5 1h1m10.5 0.5h1m1.5 -1h1m-63.5 -0.5h1m-2 -1h1m31.5 1.5h1m25.5 -2.5h1m-29.5 2h1m-3 0h1m25 -1.5h1m-21 2h1m16.5 -1h1m-17.5 1.5h1m-7 -2h1m-2.5 2h1m21 1.5h1m-51 -2h1m15 1h1m-19 -2.5h1m41 0.5h1m-20 -2.5h1m35 3h1m-42 -2h1m42 2h1m-46 -3.5h1m46 2h1m-4.5 1.5h1m-46 0.5h1m17 -3h1m-35 2h1m39.5 5h1m3 -3h1m-17 -1h1m-3 -5h1m3.5 3h1m21 2.5h1m-44.5 -0.5h1m46 0.5h1m-10 0.5h1m-24.5 -1.5h1m41.5 1.5h1m-30 -4.5h1m-6 7h1m0 -4.5h1m-14.5 -0.5h1m12.5 3.5h1m-33 -1.5h1m37 0.5h1m-21 -2.5h1m23 1.5h1m-5.5 0.5h1m8 5.5h1m-6 -3h1m-39 -5h1m38.5 -2h1m-35 2h1m46 0h1m2.5 0.5h1m-47 -2.5h1m49 2h1m-24.5 2.5h1m6 1.5h1m-1 -7.5h1m-5.5 6h1m-40.5 -3h1m32.5 -0.5h1m27.5 2.5h1m-12 -1h1m-28.5 4h1m38 0h1m-7 -3h1m-34.5 -1h1m29 7.5h1m-44.5 0.5h1m-9.5 -5h1m25 -1.5h1m22 3.5h1m-9.5 1.5h1m-29.5 -6h1m12.5 7h1m19.5 -6h1m-4 4h1m15.5 -5h1m-60.5 1.5h1m42.5 -1.5h1m-6 1.5h1m-29.5 3h1m49 -6h1m-35.5 2h1m10 2.5h1m25 -3h1m-34.5 8h1m8 -11h1m-7 12.5h1m18 -10h1m-13 5h1m-40 2h1m-8 -3.5h1m61.5 -6h1m-11.5 3.5h1m-47.5 1h1m54 2h1m-16.5 1h1m-5 0.5h1m9.5 1h1m12 -7.5h1m-47 6h1m-19.5 -8.5h1m45 6h1m-28 -4h1m29 -2h1m-3.5 8.5h1m-1.5 -3h1m9 3h1m-49.5 -8h1m1 1h1m24 3.5h1m-27 -1.5h1m24 2h1m-18.5 -2h1m52 1h1" stroke="#f07818" stroke-opacity="0.75" stroke-width="1" fill="none"/><path d="M289.5 228.5h1m17 -9.5h1m-13 -0.5h1m-7.5 6h1m13 -4h1m-2.5 -0.5h1m-3 6.5h1m-1 -2.5h1m-5.5 0.5h1m1 11.5h1m-16.5 -7.5h1m4 -8h1m1.5 -1.5h1m10 7h1m6 7.5h1m-11 -6h1m-2 -9h1m9.5 6h1m-12 -5.5h1m6.5 -0.5h1m-3 2h1m-14 4.5h1m11.5 5h1m-2 -6.5h1m-11 0h1m0 -3.5h1m-3 6.5h1m18.5 -7.5h1m2.5 -0.5h1m-9 1.5h1m5 4.5h1m-22.5 -2.5h1m19.5 15.5h1m2.5 -10.5h1m-3 -2h1m-20 12h1m14 -9h1m-10 -7.5h1m8 -1.5h1m-14 6.5h1m4 3.5h1m-5 3h1m6.5 5.5h1m-5 -7h1m8 -8h1m-3.5 10h1m-4 -0.5h1m-4.5 -8.5h1m-2.5 0.5h1m1 1h1m4.5 -3h1m-5.5 4h1m0 -7h1m-3.5 9.5h1m-1 -2.5h1m-5.5 -4.5h1m-10 5.5h1m17.5 4.5h1m-1.5 2h1m-12 -14.5h1m20 9h1m-23.5 -6.5h1m15 2h1m-6.5 -4.5h1m-0.5 2h1m5 15h1m-2.5 -8h1m-8 3.5h1m-9 -5.5h1m-2 3.5h1m9.5 -1.5h1m9.5 -2h1m-6.5 4.5h1m-7.5 -1.5h1m1.5 -5h1m1.5 2h1m7 10h1m-19.5 -10.5h1m10 2h1m-4.5 -0.5h1m-8.5 -4h1m-3 -4.5h1m16 1h1m-8 3.5h1m-5 8.5h1m1.5 -7.5h1m5.5 -1.5h1m-8 0.5h1m10.5 -4h1m-15 -0.5h1m-5 9.5h1m4 -7h1m-7 7h1m3.5 -7h1m10.5 -0.5h1m3 0h1m-9 9h1m-4.5 1.5h1m-9.5 -4.5h1m-1.5 4h1m9.5 -10h1m-2.5 8.5h1m-7 -10h1m0 1h1m14 0.5h1m-5 8h1m-8 -5.5h1m0 -3.5h1m7 1.5h1m-8 -1.5h1m-1.5 5.5h1m-14.5 2h1m-2 -8.5h1m-3 9h1m-3.5 0h1m16 -8h1m1.5 0.5h1m-10 4.5h1m9 7.5h1m-1 -11.5h1m-5 4h1m-11.5 -3h1m21 0h1m-1.5 14.5h1m-16 -10.5h1m17.5 1h1m-14.5 -2.5h1m-7.5 -1h1m2 -3.5h1m-12 0.5h1m10.5 12h1m-10.5 7h1m19.5 -9h1m-7 -10.5h1m-14 5h1m14 -4h1m-18.5 8.5h1m13 3.5h1m1.5 -13h1m-4 2.5h1m-10 -2.5h1m6.5 2h1m-1.5 2.5h1m1 7h1m9.5 -2.5h1m0.5 -7h1m-1.5 2.5h1m-17.5 -5h1m-2 11.5h1m4.5 -11h1m2.5 0.5h1m-20 0h1m10 11.5h1m17 -8.5h1m-24 4h1m3 -5.5h1m-1 14.5h1m8 -8h1m-5 -8.5h1m-3 1h1m-10 -1h1m15 -1h1m-5.5 4h1m-6 11h1m4 0h1m5 -7.5h1m-18 3.5h1m-1.5 -7h1m3 1.5h1m0 1h1m-17.5 -4.5h1m17.5 18h1m12 -16.5h1m-12 4h1m9 -5.5h1m-30 2.5h1m19.5 6.5h1m10.5 -9h1m0.5 7.5h1m-16.5 -8.5h1m-3.5 14.5h1m8 -12.5h1m-13 -1h1m5.5 5.5h1m-11 -4.5h1m12 0h1m-1.5 0.5h1m11 15h1m-10.5 -18.5h1m-8.5 5.5h1m3.5 2h1m-10 -3.5h1m9 -1h1m-3 -2.5h1m3.5 5h1m3 5h1m-23 -10h1m16.5 7.5h1m2 -5.5h1m-15.5 8h1m22 -1h1m-20.5 -5.5h1m17.5 -2.5h1m-8 -1h1m0.5 3.5h1m-6.5 5.5h1m4.5 -8h1m-16.5 7.5h1m1 -4h1m-9.5 14h1m17.5 -9.5h1m-10.5 -7h1m10 11h1m-2 -3h1m-15.5 -4h1m14.5 4.5h1m-4.5 -9h1m-1.5 -1h1m1 5.5h1m-4.5 -2h1m-1 5h1m7 -5.5h1m-16.5 -0.5h1m-2.5 0.5h1m2.5 -1.5h1m12.5 11h1m-11.5 -6h1m15.5 3h1m-38 -5.5h1m16.5 2h1m1 -5.5h1m4.5 6h1m7 -2h1m-12.5 0h1m-7 -2h1m13 2h1m4 -4h1m-31.5 4h1m22.5 -3.5h1m-3.5 0.5h1m-9.5 0.5h1m2 5.5h1m4.5 -3.5h1m-3 1h1m-3 9.5h1m-8 -4h1m10 -11h1m-8 5.5h1m4.5 -3.5h1m-6 1.5h1m5 1h1m3 -2.5h1m-4.5 7h1m2 4.5h1m-16.5 -8h1m13 -4.5h1m-2.5 3.5h1m-7.5 -2h1m2.5 0h1m-21 7h1m20.5 -5.5h1m-4.5 1.5h1m-15 5.5h1m20 -8.5h1m-10 14.5h1m6 -13h1m-5 -1.5h1m4.5 -2.5h1m-4 0h1m-3.5 8h1m4.5 -4h1m1.5 2.5h1m-24 0h1m16 -5.5h1m-5.5 1.5h1m-5 8h1m17.5 -8h1m-4 4.5h1m-16 -6.5h1m-1.5 -1h1m13.5 7.5h1m-11.5 -4h1m1 -3.5h1m-13.5 1h1m13 0.5h1m8.5 -1h1m-13 2h1m1.5 5.5h1m13 11.5h1m-7.5 -18.5h1m3 1h1m-7 7h1m3.5 -5.5h1m-22.5 5h1m5.5 4.5h1m-7.5 -12h1m25 5.5h1m-13 -0.5h1m-3.5 -1.5h1m-5.5 -2.5h1m-3 9h1m-14.5 -7h1m33.5 4h1m-15 2h1m0 -9.5h1m-12 8h1m9 1h1m2.5 -8h1m-4.5 1.5h1m4 14.5h1m-12 -5.5h1m8 -6.5h1m3 -4.5h1m-3.5 11.5h1m-2 1h1m-5 -10h1m-7.5 0h1m10.5 -3h1m-8 5.5h1m-5 4.5h1m11.5 -2h1m-18.5 -6h1m7 1.5h1m9 -3.5h1m0 1.5h1m-11 0h1m2.5 5.5h1m2.5 -4h1m-5.5 -3h1m-6.5 7.5h1m8 -7h1m-3 3h1m-1.5 -4h1m7 11h1m-7.5 3.5h1m-6.5 4h1m3.5 -17h1m12 7h1m-20.5 4.5h1m2.5 -6.5h1m-5 -2h1m7.5 -3h1m-13 -1h1m12 1h1m1 1.5h1m-12.5 5.5h1m-1.5 -4h1m-5.5 -3.5h1m10.5 11.5h1m-10 -2h1m2.5 -7h1m1 4h1m-3 2h1m10 -5.5h1m5 11h1m-29 -2.5h1m9 -9.5h1m7 6.5h1m-11 -8.5h1m3 18.5h1m4.5 3h1m8 -22h1m-2.5 5.5h1m-12 0.5h1m2 -5.5h1m-5 10h1m0.5 -3h1m-8.5 -6.5h1m-5.5 2h1m9.5 2h1m9.5 0.5h1m-3 6.5h1m-20.5 -12h1m11.5 1.5h1m-4.5 1h1m6 2.5h1m-11.5 2h1m14.5 -3.5h1m-9.5 0.5h1m5 -1.5h1m1 6h1m-22 -6.5h1m12 2h1m12 -0.5h1m-12.5 4h1m7 -3h1m-6 -3h1m-8 -1.5h1m5 4h1m5 -3.5h1m0.5 6h1m0.5 4.5h1m-20.5 -2.5h1m13.5 -1h1m-17.5 -3h1m8.5 6h1m-1.5 -10.5h1m5 3h1m-3 6h1m6 -6h1m-15 2h1m10 7.5h1m-4.5 -10.5h1m-4 1h1m-10 3h1m12 -2h1m-2.5 -3.5h1m2.5 7.5h1m-7.5 -1h1m-2.5 -4.5h1m4 1h1m-0.5 -3h1m0.5 12h1m8 -9.5h1m-19.5 7h1m17.5 -3.5h1m-37 -6h1m28 13.5h1m-14 -6h1m19 -8h1m-21.5 0.5h1m13.5 6.5h1m-16.5 -6.5h1m-2 0.5h1m13.5 0h1m-0.5 1.5h1m-13 1.5h1m17.5 -4h1m-16.5 11.5h1m13 -8.5h1m-20 3h1m-0.5 3h1m6.5 -7.5h1m-9 5h1m10 1.5h1m-20.5 6.5h1m16.5 -14h1m-6.5 21.5h1m-4 -18h1m7.5 -2.5h1m-4 1h1m-3 3.5h1m8.5 4.5h1m-5 -10h1m0 8h1m6 -1h1m-11.5 -6.5h1m5.5 8h1m-10 -8h1m6.5 3h1m-1.5 -2.5h1m-9 6.5h1m-8.5 -6.5h1m1 -1h1m1.5 3h1m10 2h1m-6 3h1m-2 -6h1m4.5 0h1m1 -2h1m4 0.5h1m-16 8h1m7.5 -7h1m0.5 0h1m-13.5 4h1m7 -2.5h1m-9 -1h1m4.5 -2h1m3.5 13.5h1m-16.5 -14h1m5 2h1m-0.5 2h1m5.5 8h1m-7 -1.5h1m7.5 -10.5h1m-10.5 6h1m1.5 -2.5h1m7.5 -3h1m-3 4h1m-2.5 0h1m-2.5 -3.5h1m7 11.5h1m1.5 -10.5h1m-14 8h1m-3.5 5.5h1m-3.5 0h1m20 -13.5h1m-20.5 -1.5h1m-4.5 11h1m11 -12h1m5 18.5h1m-18 -7h1m7 0h1m-10.5 -5h1m4.5 -1.5h1m16 8.5h1m-12 -13.5h1m-4 3h1m1.5 8h1m0.5 -3.5h1m-4 2.5h1m-9 -1.5h1m-1 -7h1m22 3.5h1m-20.5 7h1m13.5 -9.5h1m-15.5 -2h1m14 0.5h1m-5.5 3.5h1m-7.5 -3h1m14.5 5h1m-22 0h1m4 -5h1m-5.5 2h1m-0.5 -3.5h1m2.5 6.5h1m-5.5 5.5h1m3.5 -9.5h1m13.5 -0.5h1m-26 20h1m2.5 -19.5h1m1.5 2.5h1m2.5 3.5h1m10 1.5h1m-3 4h1m-3 -3.5h1m-3 -7h1m10.5 4h1m-22.5 -4h1m-1 -1.5h1m7.5 5.5h1m0.5 2.5h1m-4.5 -6h1m-5.5 3.5h1m-4.5 -4.5h1m7 7h1m-4.5 -5.5h1m1 -2h1m-5.5 0h1m17 -1.5h1m-7.5 2.5h1m9.5 10h1m-19 -8h1m3.5 -4h1m-3.5 9h1m1 -4.5h1m-3 4h1m0 -5h1m-14.5 -3.5h1m11.5 -0.5h1m6 6h1m-20.5 -4.5h1m11 -2h1m6 2.5h1m4 2h1m-11 2.5h1m3 -6.5h1m8.5 1h1m-4.5 16h1m-14 -8.5h1m-2 2h1m11 -11.5h1m-7 19h1m-6.5 -16.5h1m1.5 9.5h1m3 0h1m-5 -8h1m-1.5 -3h1m-1 0h1m-10 4.5h1m23 0.5h1m-5 -5h1m1.5 7.5h1m-13.5 -2h1m1 -1.5h1m2.5 -0.5h1m0.5 1h1m-20.5 -0.5h1m15 -2h1m-11 8h1m6 -2.5h1m-5.5 0.5h1m16.5 -4.5h1m-9.5 -2.5h1m-5 1h1m9.5 -2h1m-12 15h1m-6 -8.5h1m3 -5.5h1m-2 -0.5h1m2 5.5h1m5 -7h1m-8.5 3.5h1m-0.5 3.5h1m7 1.5h1m-6.5 0h1m4 -7.5h1m-7 1.5h1m-11.5 21.5h1m0 -11h1m-5 -11h1m20 17h1m-6.5 -14.5h1m-7.5 3.5h1m-5 -6.5h1m9 9h1m-4.5 -7.5h1m2.5 3.5h1m-10 -6h1m-3 10.5h1m19 -5.5h1m-19.5 12.5h1m6 -16.5h1m9 8h1m-24.5 -5.5h1m17.5 -1.5h1m-5.5 -1h1m-2.5 1.5h1m2 17.5h1m-12 -20h1m-8.5 -0.5h1m29.5 5.5h1m-17 -2h1m7.5 1h1m0.5 0h1m-7 1.5h1m0.5 -2h1m1 -1.5h1m5 -1h1m-9 2h1m5 -2h1m-12.5 4h1m-2 4h1m2.5 -9h1m1.5 2h1m0 -0.5h1m9 -1.5h1m-9 11.5h1m-6.5 -10.5h1m12.5 11h1m-12.5 -8.5h1m-1 5h1m0 -4h1m-7 6h1m-6.5 -6h1m8 5h1m-4.5 -2.5h1m-5 -1.5h1m6.5 2.5h1m-3.5 -6.5h1m-4 -0.5h1m-9.5 1.5h1m11 -2.5h1m13 2h1m-7.5 -0.5h1m0.5 3.5h1m-9 -5h1m7 4.5h1m-14 3h1m0.5 -6.5h1m6.5 7h1m-15.5 -3h1m10 -1h1m0.5 2.5h1m9.5 0.5h1m-18.5 0h1m7 -2h1m-9 0.5h1m0 1h1m-17 0h1m12 10.5h1m14.5 -15.5h1m-5.5 2.5h1m-4 5h1m11 -1.5h1m-10 1h1m-14 3h1m6.5 -8h1m0 -0.5h1m11.5 1.5h1m-19.5 5.5h1m8.5 5.5h1m3.5 -8h1m-14.5 0h1m5.5 -6h1m-16.5 8.5h1m15 8h1m-18.5 -15h1m12.5 5.5h1m15 -3.5h1m-11 3.5h1m-3.5 -5h1m-0.5 4.5h1m11.5 -4h1m-10.5 -1.5h1m3 2.5h1m-12 -4h1m-1 7h1m-5.5 -8.5h1m5 5h1m-4.5 20h1m11.5 -13h1m-3.5 -10.5h1m-7 2.5h1m-4 4h1m-18.5 -8h1m16 3h1m6 8h1m1.5 -7.5h1m-29 5h1m4 -3h1m18 3.5h1m-9.5 -0.5h1m5 -4h1m-3 4.5h1m7 -1.5h1m-19 -4h1m8.5 -1.5h1m10 8.5h1m-6.5 -9.5h1m-8.5 2.5h1m8.5 0.5h1m-2.5 3.5h1m-9.5 -1h1m10.5 1.5h1m-1 -4.5h1m-7 0h1m7 9h1m-16.5 -0.5h1m13 -7.5h1m-8 -0.5h1m-6.5 6.5h1m1.5 -9.5h1m12 1h1m-13.5 3.5h1m0.5 7h1m-3.5 3h1m-2 -10.5h1m12 9.5h1m5.5 -2.5h1m-4.5 -2h1m-7 -6h1m0.5 1.5h1m-9 -0.5h1m-2 2h1m-6 4.5h1m18 -4.5h1m-14 0.5h1m-4 -5h1m0 0.5h1m5 15.5h1m-6.5 -13.5h1m3 4h1m0.5 -5h1m7.5 -3h1m-20 5h1m10 -0.5h1m-8 -4.5h1m1 9.5h1m14 -9h1m-8.5 11.5h1m-8.5 -11h1m5.5 10.5h1m-4.5 -8h1m7.5 2.5h1m-13 6h1m6 -8.5h1m-6 -1h1m0.5 4.5h1m-2 -3.5h1m-4.5 -1.5h1m4.5 0h1m5.5 6h1m-13 6h1m0.5 -10h1m5 -5h1m-9.5 4.5h1m11 -2h1m-2 4h1m-23.5 -1h1m11 6.5h1m-4 -6.5h1m13 9.5h1m0 -10h1m-17 -3h1m3 2h1m3.5 4.5h1m-3 8h1m7 -14.5h1m1 12h1m-4 -7h1m2.5 -1.5h1m-2 -5h1m-8.5 5h1m-3.5 -3.5h1m-3.5 -0.5h1m10.5 0h1m-0.5 3.5h1m0 -1h1m-11 10.5h1m-1.5 9h1m4 -17h1m6.5 -1.5h1m-8 0.5h1m-2 -4.5h1m-8.5 4.5h1m8.5 6h1m-0.5 -9h1m-12 1.5h1m19 -3h1m-20.5 3h1m12.5 -3h1m-9.5 10.5h1m2 5h1m-8 -5.5h1m0.5 -9.5h1m8.5 5.5h1m-8 -3h1m-2 -3.5h1m8 8h1m-2 -1.5h1m-5 -0.5h1m-0.5 1h1m10 -6h1m-15 3h1m3 -3h1m-0.5 2.5h1m-14.5 1.5h1m-5 1.5h1m14 -2.5h1m4.5 1.5h1m-6 -4.5h1m-6.5 -0.5h1m-1.5 6h1m9.5 -2h1m-9 -3.5h1m-11 2h1m16 8.5h1m-4 -1.5h1m0 -7.5h1m4 5h1m1 -6h1m-7 1.5h1m-6 4h1m-15.5 2.5h1m17 -5h1m-4.5 1h1m10 -2.5h1m-1.5 1h1m-7 -1h1m-10.5 8h1m5.5 -6.5h1m-9 2h1m2.5 0h1m-1.5 -3h1m5 8h1m-9.5 -6.5h1m6.5 0h1m-5 9h1m-2.5 -7h1m0.5 -2h1m-9 4h1m8 -7.5h1m7.5 3h1m-11 -2.5h1m6.5 3.5h1m-7.5 -5h1m-3.5 6.5h1m3 -9.5h1m-5 9h1m15 -4h1m-23 6h1m7 -8h1m3.5 4h1m-8 -4h1m3 5.5h1m-8.5 3.5h1m1.5 1.5h1m6 -6h1m-1 -2h1m-2.5 9h1m-3.5 -3h1m-2.5 -3.5h1m7.5 -4.5h1m-4 -4h1m-7.5 7h1m8 4.5h1m-9 -3.5h1m4 -5.5h1m0 11.5h1m2.5 -8h1m-8.5 -1h1m-1 2.5h1m4 1.5h1m-8 3h1m7 -6h1m-6 2h1m-7.5 1h1m9.5 7.5h1m-3 -9h1m-2.5 3.5h1m3 -6h1m-3.5 6h1m-11 3h1m7 -2h1m0 -4.5h1m-1.5 2.5h1m3.5 -2.5h1m-10 -1.5h1m-0.5 5.5h1m-0.5 3h1m3.5 -6h1m4.5 -1.5h1m-8 5h1m3.5 -7.5h1m6.5 6.5h1m-17.5 -3h1m9 1.5h1m-1.5 8.5h1m-0.5 -1.5h1m-2.5 -10.5h1m3 0h1m-3.5 5.5h1m-9 -5.5h1m2 4.5h1m5.5 -1.5h1m2 3h1m-12.5 -5.5h1m2 0h1m-1.5 5.5h1m0.5 0.5h1m-5.5 -7h1m-4 -4h1m3.5 7.5h1m0 0h1m9 -4.5h1m-11.5 2.5h1m-3.5 7.5h1m2.5 -0.5h1m-5.5 2.5h1m14 -11h1m-11 3h1m1.5 -5h1m-1.5 8.5h1m-6 -12h1m-1 7.5h1m5.5 -1h1m-10 5h1m6 0.5h1m-2.5 1h1m1 -11h1m-2 10h1m-2 3h1m-3 -3.5h1m-4.5 -2.5h1m2 -4h1m-4.5 5h1m7 -3.5h1m-8.5 -1h1m8 -1.5h1m0.5 -1.5h1m-5 9h1m3.5 -4.5h1m-10 -4h1m6.5 5.5h1m-7 -1h1m2 1.5h1m3 -8.5h1m-2.5 6.5h1m-5 0.5h1m-1 4.5h1m0.5 -9h1m-2.5 5.5h1m1 0.5h1m-3 4h1m-5.5 4.5h1m1.5 -12.5h1m5 8.5h1m1 1.5h1m-4.5 -6h1m-1.5 0h1m-5 6.5h1m9.5 -6.5h1m-10 -2h1m-7.5 -0.5h1m4 2.5h1m-3 -7.5h1m6.5 14.5h1m-13.5 -7.5h1m12.5 -4h1m-11.5 4.5h1m4.5 -2.5h1m7.5 8.5h1m-5.5 -6h1m-5.5 3.5h1m-0.5 2.5h1m5.5 -8.5h1m-3 9h1m-1.5 -10h1m-5 2h1m0.5 1.5h1m-3 3.5h1m6.5 -5.5h1m-13.5 3.5h1m5.5 0.5h1m-4 -0.5h1m-2 3h1m11 -8h1m-20.5 2h1m8.5 2.5h1m1.5 1h1m11 -4h1m-15 4h1m-7.5 1.5h1m4.5 -9h1m-2 8h1m6.5 3h1m-2.5 -8h1m-0.5 2.5h1m7 -8h1m-4.5 11.5h1m-6.5 -3.5h1m-5 -3.5h1m-5.5 12h1m10 -5.5h1m-3.5 -10.5h1m-4 8.5h1m5.5 -4.5h1m-5 3h1m-2 -2h1m0.5 3h1m-11 5h1m17.5 -8.5h1m-6 -0.5h1m-8.5 11h1m2.5 -1h1m-0.5 -2h1m-3 1.5h1m7.5 -3h1m-11.5 -4h1m-2.5 4h1m5.5 -5.5h1m0.5 0.5h1m3.5 6h1m-2.5 -6.5h1m-12.5 -4.5h1m6.5 3h1m2 5h1m-3.5 -5.5h1m-7 6h1m5.5 -3.5h1m-4.5 3.5h1m3.5 5h1m-12 5h1m13.5 -5.5h1m-0.5 -6h1m-10.5 -1h1m-1.5 2h1m-3 12h1m-10.5 -19h1m6.5 18.5h1m3 -11.5h1m5 5h1m-1.5 -5h1m-4.5 16.5h1m-12 -11.5h1m12 6h1m-3.5 -5h1m-20.5 1h1m2 0.5h1m-11.5 11h1m39.5 -8h1m-26.5 -6h1m16 7.5h1m-16.5 4.5h1m13 -5.5h1m-12 -4h1m-4.5 1.5h1m-0.5 8h1m6 -8h1m2 1h1m-18.5 7.5h1m14 -14.5h1m-11.5 -1h1m2.5 5.5h1m-3.5 1h1m9 -6.5h1m14.5 4.5h1m-14.5 2h1m-6 4h1m14.5 -5.5h1m-23.5 4.5h1m-14 -3h1m18.5 1.5h1m-14 -6h1m4 -1h1m15 2.5h1m-13 11h1m5 -25.5h1m-11.5 19.5h1m13.5 -1.5h1m-2.5 -9h1m-4.5 -2.5h1m-8.5 2.5h1m-1 4.5h1m5 -4h1m11.5 3h1m3.5 11.5h1m-28 -1h1m-3 4h1m16 -19h1m-26 4.5h1m7.5 12h1m0 -10.5h1m16 1.5h1m-3.5 -2h1m3.5 -5.5h1m-2.5 -2h1m-4.5 0.5h1m-5 13.5h1m13 -18.5h1m-20.5 6.5h1m18.5 0.5h1m-6 3h1m-22.5 5h1m2 4.5h1m18.5 5h1m-19 2h1m18.5 -26.5h1m8 27h1m-30 -10.5h1m-4 -3.5h1m14 6h1m-10.5 -5.5h1m-2.5 3.5h1m15 -2.5h1m3.5 5.5h1m-8.5 3h1m-17 -9.5h1m-6 0.5h1" stroke="#f07818" stroke-opacity="0.82" stroke-width="1" fill="none"/><path d="M252 219h1m59.5 25h1m4.5 -14h1m-47.5 -8.5h1m35.5 8h1m-28 2h1m-5.5 9.5h1m-5.5 -20.5h1m2 12h1m1 9.5h1" stroke="#f07818" stroke-opacity="0.35" stroke-width="1" fill="none"/><rect x="277.3" y="204.8" width="48.2" height="13.4" fill="none" stroke="#000" stroke-width="1.6"/><path d="M244.3,258.5 H327.5 V316.9" stroke="#7a7a7a" stroke-width="0.8" fill="none"/><path d="M244.3,258.5 V316.9 H327.5" stroke="#333" stroke-width="0.9" fill="none"/><path d="M244.3,316.9v2M244.3,316.9h-2M250.6,316.9v1.2M244.3,312.5h-1.2M254.2,316.9v1.2M244.3,309.9h-1.2M256.8,316.9v1.2M244.3,308.1h-1.2M258.8,316.9v1.2M244.3,306.7h-1.2M260.5,316.9v1.2M244.3,305.5h-1.2M261.9,316.9v1.2M244.3,304.6h-1.2M263.1,316.9v1.2M244.3,303.7h-1.2M264.1,316.9v1.2M244.3,303.0h-1.2M265.1,316.9v2M244.3,302.3h-2M271.4,316.9v1.2M244.3,297.9h-1.2M275.0,316.9v1.2M244.3,295.3h-1.2M277.6,316.9v1.2M244.3,293.5h-1.2M279.6,316.9v1.2M244.3,292.1h-1.2M281.3,316.9v1.2M244.3,290.9h-1.2M282.7,316.9v1.2M244.3,290.0h-1.2M283.9,316.9v1.2M244.3,289.1h-1.2M284.9,316.9v1.2M244.3,288.4h-1.2M285.9,316.9v2M244.3,287.7h-2M292.2,316.9v1.2M244.3,283.3h-1.2M295.8,316.9v1.2M244.3,280.7h-1.2M298.4,316.9v1.2M244.3,278.9h-1.2M300.4,316.9v1.2M244.3,277.5h-1.2M302.1,316.9v1.2M244.3,276.3h-1.2M303.5,316.9v1.2M244.3,275.4h-1.2M304.7,316.9v1.2M244.3,274.5h-1.2M305.7,316.9v1.2M244.3,273.8h-1.2M306.7,316.9v2M244.3,273.1h-2M313.0,316.9v1.2M244.3,268.7h-1.2M316.6,316.9v1.2M244.3,266.1h-1.2M319.2,316.9v1.2M244.3,264.3h-1.2M321.2,316.9v1.2M244.3,262.9h-1.2M322.9,316.9v1.2M244.3,261.7h-1.2M324.3,316.9v1.2M244.3,260.8h-1.2M325.5,316.9v1.2M244.3,259.9h-1.2M326.5,316.9v1.2M244.3,259.2h-1.2" stroke="#555" stroke-width="0.6" fill="none"/><text transform="translate(242.1,316.9) rotate(-90)" font-size="5.2" text-anchor="middle" font-family="'Liberation Serif', serif" fill="#6a6a6a">10<tspan font-size="3.8" dy="-2">0</tspan></text><text transform="translate(242.1,302.3) rotate(-90)" font-size="5.2" text-anchor="middle" font-family="'Liberation Serif', serif" fill="#6a6a6a">10<tspan font-size="3.8" dy="-2">1</tspan></text><text transform="translate(242.1,287.7) rotate(-90)" font-size="5.2" text-anchor="middle" font-family="'Liberation Serif', serif" fill="#6a6a6a">10<tspan font-size="3.8" dy="-2">2</tspan></text><text transform="translate(242.1,273.1) rotate(-90)" font-size="5.2" text-anchor="middle" font-family="'Liberation Serif', serif" fill="#6a6a6a">10<tspan font-size="3.8" dy="-2">3</tspan></text><text transform="translate(242.1,258.5) rotate(-90)" font-size="5.2" text-anchor="middle" font-family="'Liberation Serif', serif" fill="#6a6a6a">10<tspan font-size="3.8" dy="-2">4</tspan></text><path d="M307.5 273.5h1m-52.5 -4.5h1m15.5 5h1m25.5 -3.5h1m-29.5 2h1m24 0.5h1m-32 -1h1m4 3.5h1m-20.5 -4.5h1m43 0.5h1m-28 2h1m-17 -1h1m12.5 1h1m-7.5 -1.5h1m14 -1.5h1m44.5 4h1m-4 -1.5h1m-7 2h1m-4 1h1m7 -4h1m-58.5 -1h1m25 0.5h1m21.5 -0.5h1m11 -3.5h1m-27 9.5h1m-38 -3h1m15.5 4.5h1m-13.5 -7h1m44 2.5h1m2 -0.5h1m-32.5 -1h1m40 0.5h1m-4.5 -0.5h1m3 0.5h1m-15 -6h1m17.5 4h1m-56.5 0h1m-12.5 6h1m54 -3h1m-2.5 0.5h1m-43.5 0h1m25 -2h1m-41 4.5h1m3.5 -5h1m63.5 -3h1m-9 5.5h1m-55.5 1h1m36.5 -2.5h1m3.5 0.5h1m-15 1.5h1m-3.5 1.5h1m13 -2.5h1m-52 3h1m72 -3.5h1m-28.5 4.5h1m-11.5 -8.5h1m-16 5.5h1m-1.5 -1.5h1m25.5 -0.5h1m-34 -3.5h1m38.5 6h1m-49 -3h1m22.5 -2h1m-9 0.5h1m31.5 2h1m14 -2.5h1m-40 0h1m-12.5 3.5h1m31 -1.5h1m-43 5h1m56.5 -6h1m-28 3h1m12.5 2.5h1m-30 -4.5h1m16 2.5h1m2 -1.5h1m3.5 -0.5h1m12 4h1m-29 -6.5h1m-1 0.5h1m-1 -2.5h1m-31.5 4h1m25 2.5h1m42.5 -3h1m-20.5 3h1m-25 -4h1m34 4.5h1m-43.5 -3h1m10 -1h1m-11 5.5h1m8.5 -4.5h1m-22 1.5h1m32.5 -1h1m-34.5 1.5h1m23.5 -1.5h1m23 -3h1m9.5 3.5h1m-19.5 0.5h1m-22.5 -0.5h1m-15 -1.5h1m5 5.5h1m-2 -6.5h1m30 2h1m7 0.5h1m-50 -3.5h1m23.5 0h1m22.5 4.5h1m-5.5 0h1m-47 -1.5h1m35.5 -4h1m27 3h1m-7 1.5h1m-49.5 1h1m46 1h1m10.5 -1.5h1m-5 1h1m-6.5 2h1m-59 -10h1m23.5 8h1m16.5 -3.5h1m15 2.5h1m-3.5 -0.5h1m-34 -3.5h1m-5.5 0.5h1m26 3.5h1m-34 -1.5h1m10.5 2h1m32.5 -2.5h1m-45.5 6h1m43 -6h1m-62.5 6h1m1.5 -7h1m20.5 3h1m23.5 1.5h1m-36.5 -6h1m56.5 1h1m-29.5 3.5h1m-41.5 1.5h1m11.5 0.5h1m47.5 -2h1m-59 1.5h1m-8 -5.5h1m16.5 1.5h1m-18.5 5h1m12.5 -5h1m21.5 0.5h1m25.5 -3.5h1m-30 4h1m7 -3.5h1m-35.5 4.5h1m17 3h1m22.5 -3h1m-14 -0.5h1m35 -1.5h1m-42 2.5h1m38.5 -4h1m-56.5 1.5h1m35.5 6.5h1m6 -8.5h1m14.5 2h1m-63 -2h1m34 6.5h1m23 -4h1m-34.5 -2.5h1m36.5 0h1m-7 6h1m-48.5 -1h1m14 0h1m-13.5 -2h1m36.5 2.5h1m-59.5 1h1m48 -1.5h1m-50 -6.5h1m55 1h1m-45 4.5h1m27 -4.5h1m25.5 1h1m-58 3h1m15.5 -2.5h1m29 -1h1m-13.5 5.5h1m0 -1h1m-35 0.5h1m25 0.5h1m23.5 1.5h1m-25.5 -4h1m8 -0.5h1m3.5 -3.5h1m-27 3.5h1m11 -1h1m-13.5 4.5h1m-7.5 -1h1m-16.5 2h1m62 -1h1m-43 0h1m27.5 -1.5h1m-40.5 -1h1m29.5 -1.5h1m10.5 1h1m-4.5 -2.5h1m-18.5 3.5h1m39 -1h1m-66 -5h1m45 -1.5h1m-49.5 5h1m28.5 0.5h1m-35 4.5h1m64.5 -5h1m-13.5 -1.5h1m-56 4h1m2.5 1.5h1m1 1.5h1m56 -6.5h1m-29 2h1m26.5 -0.5h1m-19 5h1m12 -2h1m-51 -2h1m45 2h1m-34 -3h1m25.5 0.5h1m-38.5 0.5h1m12.5 -1h1m36 0.5h1m-57.5 1.5h1m5 -0.5h1m7 20h1m24.5 -22.5h1m3.5 -8.5h1m-29.5 5.5h1m-3.5 -1.5h1m-8 3h1m0 30h1m34.5 -12h1m-32.5 -8.5h1m-1.5 -11h1m19.5 25.5h1m-20.5 -6.5h1m-1 -14.5h1m34 8h1m2 14h1m-13.5 4.5h1m0.5 -0.5h1m-23.5 -14h1m-2 -2h1m24 -4h1m-16.5 -15.5h1m-18 10.5h1m5 20.5h1m21 -18h1m-19.5 11.5h1" stroke="#ee70b8" stroke-opacity="0.65" stroke-width="1" fill="none"/><path d="M313.5 273h1m-6 -0.5h1m-13.5 -2h1m-3 3h1m17 -0.5h1m-19.5 1.5h1m12 -2.5h1m-3 0.5h1m-3 0h1m-7.5 -2.5h1m16.5 6h1m-6.5 -6.5h1m-10.5 1.5h1m-7 1h1m5 -1.5h1m-10.5 2.5h1m3 -1h1m0 0.5h1m-3 0.5h1m9 -0.5h1m-11 0h1m-2.5 0h1m-1.5 0.5h1m20 0.5h1m-22 -1.5h1m22 0h1m-2 0h1m-11.5 1h1m8.5 -1h1m-23.5 0h1m18 -1.5h1m-6.5 5h1m1 -4.5h1m9 4h1m-23 -1.5h1m3 0.5h1m9 -1h1m-14.5 0.5h1m18.5 -0.5h1m-21 0.5h1m5 0.5h1m8.5 1h1m2 -4h1m-3 2.5h1m0 1.5h1m-12 -0.5h1m-1.5 -3.5h1m3 2h1m-10.5 0h1m8.5 0h1m-0.5 -3.5h1m-7 4.5h1m-5.5 -3.5h1m-2.5 5.5h1m6 -2.5h1m3.5 -1h1m10.5 1h1m-21.5 -0.5h1m-5.5 -1h1m6.5 0.5h1m3 0.5h1m2 -1.5h1m-7 2h1m14 0.5h1m-19.5 0h1m0.5 0.5h1m-1.5 0h1m17.5 -1h1m-13.5 1h1m-4.5 -2h1m-8.5 0.5h1m7.5 1.5h1m10 1h1m0 -3.5h1m1.5 -1.5h1m-20.5 5h1m-5 -1h1m2.5 1h1m-3.5 -1.5h1m19.5 -1h1m-16 -1.5h1m13 -0.5h1m-15 3.5h1m-6 -0.5h1m3.5 -1h1m8 -2h1m8.5 1h1m-10 -0.5h1m3.5 0.5h1m-8.5 -3.5h1m9.5 4.5h1m-2.5 2h1m2 -3h1m-4.5 0.5h1m-5 0.5h1m2.5 -2h1m0.5 2.5h1m-6.5 -2h1m-16.5 0.5h1m8.5 1h1m12.5 -0.5h1m-8 0.5h1m-8.5 -1.5h1m11.5 2h1m-14.5 -2.5h1m-0.5 3h1m3 -2h1m2.5 -1h1m-3.5 1.5h1m-7.5 -1.5h1m5 1h1m-6.5 0.5h1m7.5 1.5h1m-4 0h1m-12.5 -0.5h1m12.5 -1.5h1m7 -1.5h1m-9.5 2h1m-15 -0.5h1m11.5 0.5h1m-11.5 -0.5h1m6 0h1m-7.5 2h1m18.5 -3.5h1m-5 2h1m-6 2h1m-8.5 -3h1m-6 -0.5h1m15 1.5h1m-13 -0.5h1m16 1h1m-1.5 1.5h1m-20 -2h1m21 1h1m-2 -1.5h1m-24 0h1m10.5 1h1m-7 -1.5h1m8 3h1m4.5 -2.5h1m-16 0.5h1m-6 -1.5h1m6.5 1h1m-5.5 -1h1m12.5 1h1m-12 -2h1m7 2.5h1m-13.5 2.5h1m3 -5h1m12 5h1m0.5 -2.5h1m-8 1.5h1m-0.5 -3h1m-14.5 4.5h1m13 -4.5h1m-1.5 1.5h1m-10.5 2.5h1m12.5 -4.5h1m-16.5 -1.5h1m9.5 3.5h1m-12.5 -1h1m18.5 -0.5h1m-12.5 0.5h1m13.5 -1h1m-14.5 4h1m7.5 0h1m-8 -4h1m-12.5 2h1m6 -0.5h1m6 2h1m4 -2.5h1m-20 3.5h1m10.5 -2.5h1m6 -1h1m-15.5 1h1m2.5 -0.5h1m-2.5 4h1m11 -3h1m-13 -1h1m15 1h1m-3 2h1m-8 -4h1m10 -1h1m-18 4.5h1m-9 -1h1m16 -1.5h1m2.5 0.5h1m2.5 2h1m-21 -6h1m-4.5 6h1m13.5 -2h1m-6 1h1m-5.5 -1h1m10.5 4.5h1m-5 -5.5h1m1.5 3h1m7 -6h1m-2.5 4h1m-19 1.5h1m-4 -3.5h1" stroke="#e2148e" stroke-opacity="0.85" stroke-width="1" fill="none"/><path d="M296 288.5h1m14 5.5h1m-9.5 -4h1m-4.5 7h1m3 -2.5h1m0.5 -8h1m8.5 -3h1m-2.5 2.5h1m-12 -2.5h1m9 4h1m-8 -7.5h1m6.5 13.5h1m-5.5 -1.5h1m-18.5 -7h1m16 3.5h1m-5 0.5h1m-1.5 -4.5h1m-3.5 4h1m1.5 -3h1m9.5 2.5h1m-8 -8h1m-3.5 13h1m4.5 -4.5h1m-5 0h1m2 -2h1m-15.5 11.5h1m17 -11h1m0.5 -6h1m-1.5 8h1m-3 -3h1m-4.5 5h1m3 -0.5h1m-4 -5.5h1m5.5 4h1m-10.5 -2.5h1m-6 -2.5h1m-2.5 5h1m6 0h1m-7 -3h1m2.5 7h1m-5.5 -13h1m13 10h1m-15.5 5h1m14.5 -1h1m-19 -5.5h1m5 -2h1m-4.5 10.5h1m3.5 -7.5h1m6.5 1.5h1m-3 -5h1m-2 1h1m-13.5 6h1m7.5 -7.5h1m0 -4.5h1m-5 -2.5h1m7.5 15.5h1m-3 -12h1m5 4.5h1m-15.5 -8.5h1m8 17.5h1m-4 -11h1m-0.5 -1h1m-2.5 6h1m-1.5 3.5h1m-2.5 -1.5h1m5.5 -5.5h1m-4 0.5h1m9 -2.5h1m-3.5 9h1m-8.5 3.5h1m-11.5 -7.5h1m11.5 -1h1m2.5 -2h1m-6 8h1m-0.5 -11.5h1m2.5 5h1m-7 3.5h1m-2 -8h1m1.5 4h1m0.5 -5.5h1m7.5 10h1m-9 -2.5h1m-14 4h1m6.5 -2.5h1m-2 2.5h1m2.5 -6h1m9 6h1m-15.5 -8.5h1m7 2h1m2 -2h1m-14.5 -1.5h1m7.5 8h1m3.5 3.5h1m-3.5 -7.5h1m1.5 0.5h1m-7 -2h1m6 10h1m1 -16h1m-2 2.5h1m-8 9h1m-6 -9.5h1m1.5 15h1m8.5 -13h1m-6 5h1m0 -4h1m4.5 1.5h1m-4 -7h1m-3 9.5h1m4 -14h1m-5.5 17.5h1m-5 3h1m10 -2.5h1m-6.5 2.5h1m-3 -0.5h1m0 -10h1m-9.5 9.5h1m7.5 -9.5h1m-4 11h1m-9.5 -12h1m11 9h1m-10.5 -9.5h1m6 12.5h1m-2 -19.5h1m4 12h1m-8.5 -6h1m7.5 7.5h1m-5 0.5h1m-1 2.5h1m5.5 -10h1m-10 3h1m8 1h1m-17.5 1.5h1m3.5 -4h1m0 -3h1m-8 17h1m8 -15h1m2.5 12h1m-13 -9.5h1m9.5 -2h1m-0.5 -2h1m-6.5 6h1m4.5 0.5h1m-6.5 -2h1m-8 13h1m7.5 -12.5h1m2.5 4.5h1m-1 -6.5h1m-11 2.5h1m3.5 -2h1m3 4h1m5.5 -2h1m-16 4h1m12 -11.5h1m-2.5 9.5h1m-7 0h1m4 2h1m2.5 -3h1m-6.5 12.5h1m-6.5 -14h1m2.5 5.5h1m6.5 -11h1m-0.5 1h1m1.5 2.5h1m-4 2h1m-3 -2.5h1m-4 4h1m-1 4h1m-3.5 -5.5h1m-5.5 0.5h1m3 5.5h1m5 -8.5h1m-2.5 11h1m-4 -13h1m9 9h1m-6.5 10h1m-8.5 -11.5h1m-6.5 1h1m10.5 -6.5h1m-7.5 3h1m2.5 9h1m-1.5 -9h1m-0.5 -7.5h1m-2.5 1.5h1m2 -4.5h1m-7 13h1m-6 -9.5h1m14.5 1h1m-6 8.5h1m-6.5 -10.5h1m12 6h1m-6 -1h1m-1.5 -3h1m-10 1.5h1m3 2h1m0.5 5.5h1m-2 3h1m-2 -1.5h1m9 5.5h1m-17.5 0h1m0 -1.5h1m8 -5.5h1m-6 3h1m7.5 -8h1m-7.5 7.5h1m7 -0.5h1m-8 -4h1m5.5 4.5h1m0 -4h1m-10 1h1m4.5 -4.5h1m-1 -1.5h1m-1.5 1.5h1m6.5 9h1m-8.5 -13h1m-8.5 10.5h1m4 -2h1m-8 -9.5h1m7.5 7h1m-8 -3h1m9.5 1.5h1m-2 11h1m-2.5 -8h1m-5.5 6h1m-5.5 -12h1m6.5 -2h1m4 4h1m-3.5 2h1m-5 1.5h1m-9.5 -5.5h1m6.5 17h1m5.5 -8h1m-10 1h1m10 -0.5h1m1.5 -11h1m-15 5.5h1m-0.5 1.5h1m6.5 0h1m-3 2h1m2.5 -5.5h1m-8.5 9.5h1m1 -10.5h1m2 2.5h1m-2 1.5h1m1.5 5h1m-8 -11h1m11 3h1m-17 -6.5h1m7 6.5h1m-10 -1.5h1m2.5 10h1m5.5 -5h1m-8.5 -1h1m8.5 2h1m1 -0.5h1m-2.5 2h1m-7.5 4.5h1m3.5 -3h1m-8 -9.5h1m3.5 1h1m3 6.5h1m2 1h1m-12.5 2h1m1 -9h1m2.5 4h1m4 14.5h1m-4 -7h1m-4 -6h1m-2.5 -4h1m8 5h1m-5.5 -6.5h1m5.5 3h1m-13 1h1m6 4h1m3 -9.5h1m-10.5 13.5h1m10 -11.5h1m-10.5 -4.5h1m-4.5 3.5h1m2.5 -2h1m4 6h1m-7 5h1m-1 -11h1m0.5 17.5h1m-0.5 -8.5h1m-2.5 -3.5h1m2.5 -13h1m-10 11h1m4 10.5h1m9.5 -4.5h1m-8 0.5h1m4.5 -8.5h1m-11 5.5h1m3 -10.5h1m-0.5 1.5h1m1 13h1m-16.5 -2h1m11.5 -6h1m2.5 14h1m-3 -16h1m-11 -0.5h1m1.5 11.5h1m5.5 -5.5h1m2 0h1m-5.5 -4.5h1m-4 4.5h1m-4 8.5h1m5.5 -11.5h1m3.5 -2.5h1m-1 6h1m3.5 -3.5h1m-12.5 -1.5h1m-5.5 5.5h1m0 0.5h1m1 4h1m-10.5 -3.5h1m12 -2h1m-4 9h1m0 -7h1m-0.5 -4h1m1 5.5h1m-7 -6h1m-2.5 4.5h1m1.5 -6h1m6.5 4h1m-2 -1h1m-1 1.5h1m-8.5 0.5h1m2.5 -2.5h1m2.5 -1.5h1m-8 9h1m13.5 -8h1m-4.5 4h1m-10 -6.5h1m1 2h1m-1.5 2h1m-4.5 5h1m-1 -10h1m9 9.5h1m1.5 -3.5h1m-11.5 5.5h1m2 -7h1m-5 3h1m-8.5 0.5h1m1 2h1m1 -1h1m16 -5h1m-16 11.5h1m2.5 -16h1m7.5 -9h1m-14.5 8h1m3 -3.5h1m6.5 15.5h1m-5.5 -7.5h1m-8.5 5h1m3.5 0.5h1m7.5 -3h1m-16.5 -5h1m16 6.5h1m-0.5 -13h1m-8.5 10.5h1m-8.5 -2.5h1m12 6h1m-9 -1h1m8 -7h1m-5.5 11h1m-6 1h1m2 -1h1m4 -4h1m-7 -5h1m1.5 4.5h1m5 -1.5h1m-6.5 9h1m-1 -6h1m5.5 -2h1m-7 3.5h1m-3.5 -10h1m-8 5h1m12 6h1m1.5 -0.5h1m-12.5 -12h1m0 6h1m-2.5 6h1m-1 -1.5h1m7 -12h1m-7 15.5h1m5 -6h1m-10.5 -4h1m5 10h1m1 -7h1m-2.5 4.5h1m-11 -9h1m8 11h1m4.5 -10h1m-6.5 0h1m-3 4.5h1m-1 -3.5h1m-5 -5.5h1m4 9.5h1m3 -5.5h1m-7.5 11h1m4.5 -2h1m-6 -8.5h1m-4 9h1m-1 -14h1m1 15.5h1m3 -5.5h1m-0.5 -1.5h1m-2.5 -7h1m8 6.5h1m-3 -7h1m-4.5 2h1m-10 7.5h1m10.5 5.5h1m0.5 -8.5h1m-3.5 -1.5h1m-8 4h1m1.5 3.5h1m-9.5 1.5h1m5 1.5h1m7.5 -13.5h1m-7 9.5h1m-4.5 -7.5h1m1.5 8h1m5 -6.5h1m-1.5 10h1m-0.5 -11.5h1m-10 5.5h1m7.5 0.5h1m-7 -7h1m7 4h1m2 -5h1m-11.5 2.5h1m9.5 10h1m-12.5 -16.5h1m7 10.5h1m-12 -8.5h1m6.5 7h1m-2.5 3h1m-3.5 -3.5h1m4 1h1m-5.5 4h1m-9.5 3h1m11 -10.5h1m-4 10.5h1m2.5 -15.5h1m-8.5 10h1m13 3h1m-11 -1h1m0 -4.5h1m1 -9.5h1m2 14h1m-8 -7.5h1m-5 6h1m5.5 -0.5h1m7 -12.5h1m-13 7.5h1m7 2.5h1m-10 2.5h1m5.5 7.5h1m-1.5 -11h1m-5 -1.5h1m4 8h1m-4.5 -4.5h1m7 1h1m-5.5 -6h1m-6.5 -5.5h1m-5 13h1m12 -3.5h1m-13 2h1m10.5 -1.5h1m-2 0.5h1m-11.5 -4h1m3.5 16.5h1m3.5 -13h1m-2.5 2h1m-4.5 -1.5h1m-0.5 4.5h1m8 3h1m-10 -4h1m-3 -8.5h1m3 8.5h1m-2 1.5h1m3.5 -0.5h1m-6 -11h1m9 4.5h1m-6.5 5h1m-6 7h1m4 -9.5h1m-6.5 -5h1m-5.5 8h1m3.5 -5.5h1m3.5 0.5h1m-0.5 -1.5h1m-6.5 8h1m-2 -1.5h1m5 -3h1m-11.5 -6.5h1m1.5 0h1m9 2h1m-11.5 2h1m4.5 -6h1m2.5 12h1m-7 0.5h1m-5.5 -7h1m5.5 3.5h1m5.5 -2h1m-11.5 2.5h1m5 1.5h1m-3.5 -1.5h1m-2.5 2h1m-1.5 -6h1m8 -1h1m-6.5 7h1m-2.5 1.5h1m-2.5 0.5h1m-5.5 -12h1m7 14.5h1m6.5 -12h1m-9 2h1m-11.5 6h1m7.5 3.5h1m2.5 -9.5h1m-6 1.5h1m4.5 -1.5h1m5.5 3.5h1m-15 -0.5h1m10 1.5h1m-8 -5.5h1m-3.5 -2.5h1m0.5 7.5h1m-1.5 7h1m4 -11h1m-3 10h1m-9.5 -6.5h1m16 4h1m-14 -4.5h1m2.5 13.5h1m-3.5 -15.5h1m1 -6h1m-15.5 6.5h1m17.5 -1h1m-1 6h1m0 -12.5h1m3 13h1m-4.5 -4.5h1m-5 -3h1m1 7.5h1m-6 -0.5h1m-0.5 -1h1m1 1.5h1m9 -3.5h1m-13 -3h1m4.5 -0.5h1m1 4h1m-1.5 -4.5h1m-10 -1h1m5.5 0h1m0.5 -6.5h1m-8 9.5h1m-6.5 -2h1m0.5 2.5h1m5.5 4.5h1m-4 -12.5h1m0.5 9h1m2 0.5h1m4.5 -3h1m-8 -2.5h1m-3 10h1m4 -19h1m3 3.5h1m-9 15h1m1.5 -2h1m3 -1.5h1m-11.5 0.5h1m1.5 -14.5h1m1 15.5h1m1 -3h1m7 1.5h1m-5 0h1m2.5 -3.5h1m-3 11.5h1m-9 -4h1m-5.5 -4h1m9 -5.5h1m-13.5 4.5h1m6.5 0.5h1m2 3.5h1m5.5 -2h1m-16.5 1h1m8.5 -2.5h1m5 0.5h1m-10.5 1h1m-7.5 2.5h1m7.5 4h1m2 -7h1m-3.5 -8h1m-2.5 7.5h1m4.5 1h1m-2.5 1h1m-7 -2h1m0.5 -8h1m-7.5 11h1m13.5 3h1m-12 0.5h1m11 -11.5h1m-6.5 12.5h1m-3 -2.5h1m-4.5 -8h1m6.5 1h1m-4.5 1h1m-7 7.5h1m3.5 -9.5h1m-2.5 2h1m-3.5 4h1m2 0h1m-3.5 -9.5h1m-1.5 6.5h1m-3 3h1m4 0.5h1m-1 -0.5h1m-4.5 -10h1m7 3h1m1.5 -1h1m-4 -0.5h1m-12 11.5h1m6.5 -2.5h1m1 -13.5h1m0 14h1m3.5 3h1m-5.5 -9h1m-2.5 -5.5h1m2.5 10h1m-3 -8h1m0.5 1.5h1m2 -0.5h1m-10 1.5h1m-3.5 -3h1m2.5 -8h1m10 14.5h1m-9 -6.5h1m-1.5 4.5h1m-1.5 -7.5h1m-2 -2h1m-1.5 5h1m-3 3h1m6 8h1m-5 -12h1m6.5 -1.5h1m-11 6h1m-2 8h1m4.5 -1.5h1m-4.5 -1h1m0 -5h1m1 2.5h1m0.5 -3h1m-11.5 -0.5h1m-6.5 0h1m8 6h1m-10.5 6h1m11 -18.5h1m2.5 10.5h1m-1 8.5h1m-7 -9.5h1m4 -5h1m-0.5 10h1m-6.5 -4h1m8 1h1m-14 -2h1m5 5h1m0.5 3.5h1m-6.5 -7.5h1m0.5 6.5h1m11.5 -14h1m-5.5 5h1m-12.5 -5.5h1m7.5 8h1m-3.5 -1h1m2.5 0h1m-8.5 -1h1m7.5 -8h1m4 15h1m-7.5 3.5h1m-6 -16h1m0 1.5h1m11 4h1m-10.5 1.5h1m7.5 -1h1m-11 0.5h1m7.5 -2.5h1m-0.5 2.5h1m-9 1h1m9.5 -3.5h1m-3.5 4h1m-7 -2.5h1m2 2.5h1m-3 0.5h1m-7 -7h1m-2 2h1m3 -0.5h1m2.5 -3h1m-4.5 9.5h1m8.5 -4h1m-3.5 6.5h1m-12 -5.5h1m-1 -3.5h1m6 -4.5h1m-0.5 6h1m-4.5 3.5h1m-4 -11.5h1m3 5h1m-2 -2h1m-4.5 0h1m-3 1.5h1m1.5 4h1m11 -3h1m-17 6h1m1 -7.5h1m3.5 4.5h1m1 1h1m-2 4.5h1m3.5 -8.5h1m-6 -4h1m3 6h1m5.5 -2.5h1m-3 -1h1m-17 0h1m9 9.5h1m-7 0h1m1 -7.5h1m0 11h1m1.5 -7h1m-9.5 -0.5h1m8 7h1m-7 -11.5h1m-1 0h1m6.5 -0.5h1m2 4h1m-11.5 -3.5h1m-3.5 -4h1m11.5 12h1m-11.5 -7h1m11.5 -1.5h1m-7.5 6.5h1m-3 -3.5h1m-2 1.5h1m-7 -0.5h1m7.5 -7h1m0.5 2h1m-16 -5h1m12.5 12.5h1m-4 -10h1m0.5 12h1m-0.5 -12h1m1.5 6.5h1m-4 1h1m2.5 -1h1m-8.5 0h1m4.5 7h1m-7.5 -7h1m0.5 2h1m0.5 -17h1m6.5 12.5h1m-11 -4.5h1m-1 1h1m3.5 7.5h1m-0.5 1h1m-5 1.5h1m3 -1h1m2.5 -4h1m2 6h1m-9 4.5h1m9 -16.5h1m-20 4.5h1m12 8h1m0 -5h1m0.5 4h1m-8 -2.5h1m6.5 -4.5h1m-9 -1h1m9 7.5h1m-4 -5h1m-5.5 8h1m-2 0h1m0.5 -6.5h1m1.5 4.5h1m5 -6h1m-1.5 -2h1m-13.5 -7.5h1m7.5 19h1m-11 -9.5h1m3.5 -6h1m0.5 9.5h1m-3.5 -7h1m2 8.5h1m-8.5 -3.5h1m8.5 -14h1m-2 23h1m-9 -2h1m4 -3.5h1m-0.5 -9h1m-13 29.5h1m1.5 -21h1m18 4.5h1m-9.5 -18h1m-6.5 5.5h1m-9 13h1m17 -8.5h1m-11 9h1m9.5 -11.5h1m1 15.5h1m-9 -16h1m3 14.5h1m5 -10.5h1m-0.5 2h1m-8 2h1m-4 12.5h1m-6.5 -5h1m2 -7h1m-4 2h1m-10 -3.5h1m20 8.5h1m-19 -15.5h1m7 23.5h1m-1 -14.5h1m0 2.5h1m-5.5 -0.5h1m8.5 6h1m-10 -1h1m15 -1h1m-6.5 -25.5h1m3.5 34.5h1m-1.5 -11h1m-14.5 -7h1m11.5 5h1m-23.5 -0.5h1m16.5 -9h1m-1 9.5h1m-16 2h1m21 10h1m-18.5 -24.5h1m7.5 12.5h1m-11 -8h1m18 8h1m-3.5 -2.5h1m-1 -3.5h1m-11.5 -3.5h1m-11 4.5h1m3 -1h1m9.5 5.5h1m0.5 -4.5h1m-4 12h1m-1.5 -9h1m-17 -9h1m23.5 2h1m-16 14.5h1m-2 0.5h1m6.5 -13h1m-14.5 15.5h1m0.5 -20.5h1m17.5 0h1m-3 9.5h1m-6.5 -8h1m-3.5 10.5h1m-3.5 3h1m7.5 -1h1m-1 0.5h1m0 2h1m-1 -4h1m-10 -16.5h1m5.5 21.5h1m-7.5 -20.5h1m1.5 15.5h1m9 -5h1m-15.5 2h1m12 0h1m1.5 -3.5h1m-2 17h1m-14 -20h1m9.5 6.5h1m4.5 -0.5h1m-21.5 -7h1m19.5 -5.5h1m-20 20h1m10 3h1m-9.5 -15.5h1m4 -4h1m-0.5 8.5h1m7 0.5h1m-10 5h1m9.5 4h1m-6.5 -11h1m-6.5 -7.5h1m3 10h1m9 2h1m-6.5 9h1m-19 -16h1m10 6.5h1m-7 5.5h1m13 -2.5h1m-2.5 -13h1m2.5 4h1m-22.5 6h1m15.5 -6.5h1m-15.5 -4h1m9.5 -11h1m7 28.5h1m-9.5 0.5h1m-1 -17.5h1m5 13.5h1m-12 -16h1m-1.5 20.5h1m3.5 13h1m-3 -17.5h1m5.5 -6.5h1m2.5 -5h1m-7 -2.5h1m-16 10h1m6.5 -11h1m11 9h1m-2.5 15h1m-2.5 -10h1m-10.5 3h1m13.5 -15h1m-2.5 11h1m-7 -2h1m9.5 -6h1m-12.5 6h1m0 -15h1m5 21.5h1m4.5 -11.5h1m-20 9.5h1m0.5 -5h1m3.5 1.5h1m-1.5 4h1m-4 13.5h1m11 -24h1m-13.5 3.5h1m2.5 -5h1m12 14h1m-18 -3h1m6.5 1.5h1m-5.5 11h1m4 -1h1m-5 -5.5h1m1.5 2.5h1m-1.5 -21.5h1m-7 3.5h1m10.5 8h1m-4.5 5.5h1m9 -16.5h1m-4.5 26.5h1m-12.5 -23h1m6.5 6.5h1m-8 -2.5h1m13.5 8h1m-17 -21h1m-3.5 15h1m1.5 -8.5h1m9.5 4.5h1m-8.5 4h1m11.5 1h1m-6 -2h1m4.5 -10.5h1m-19.5 6h1m16.5 16.5h1m-18 -16h1m10.5 4h1m1 -4.5h1m-18.5 9h1m19 -17.5h1m-22.5 9h1m-1 7h1m4 2.5h1m4.5 -5h1m6 -2.5h1m-12.5 9h1m-4.5 4h1m5 -15.5h1m6.5 7.5h1m-0.5 -15h1m-10.5 14h1m7.5 -3h1m5.5 -1h1m-3.5 10h1m-5 -10h1m1.5 5h1m-1.5 -10.5h1m-2 20h1m-6.5 -12h1m-0.5 6h1m-14 6h1m17 -15h1m-2.5 11h1m-0.5 -3.5h1m5 -4h1m-4.5 10.5h1m-2 -17h1m0.5 21.5h1m-8.5 -13h1m4 3.5h1m-7 -7h1m11.5 5.5h1m-14.5 1h1m3.5 6h1m-12.5 -11.5h1m17 -11h1m-13 14h1m4.5 -6.5h1m1 -8.5h1m-9 25h1m0 -10.5h1m3.5 3.5h1m1.5 -3.5h1m4.5 -1h1m-20.5 -7.5h1m20.5 13.5h1m-12.5 -21h1m-4.5 29h1" stroke="#e2148e" stroke-opacity="0.85" stroke-width="1" fill="none"/><rect x="279" y="263.6" width="46.8" height="14.4" fill="none" stroke="#000" stroke-width="1.6"/><path d="M243.9,329.5 H328 V385.3" stroke="#7a7a7a" stroke-width="0.8" fill="none"/><path d="M243.9,329.5 V385.3 H328" stroke="#333" stroke-width="0.9" fill="none"/><path d="M243.9,385.3v2M243.9,385.3h-2M250.2,385.3v1.2M243.9,381.1h-1.2M253.9,385.3v1.2M243.9,378.6h-1.2M256.6,385.3v1.2M243.9,376.9h-1.2M258.6,385.3v1.2M243.9,375.5h-1.2M260.3,385.3v1.2M243.9,374.4h-1.2M261.7,385.3v1.2M243.9,373.5h-1.2M262.9,385.3v1.2M243.9,372.7h-1.2M264.0,385.3v1.2M243.9,372.0h-1.2M264.9,385.3v2M243.9,371.4h-2M271.3,385.3v1.2M243.9,367.2h-1.2M275.0,385.3v1.2M243.9,364.7h-1.2M277.6,385.3v1.2M243.9,363.0h-1.2M279.6,385.3v1.2M243.9,361.6h-1.2M281.3,385.3v1.2M243.9,360.5h-1.2M282.7,385.3v1.2M243.9,359.6h-1.2M283.9,385.3v1.2M243.9,358.8h-1.2M285.0,385.3v1.2M243.9,358.0h-1.2M285.9,385.3v2M243.9,357.4h-2M292.3,385.3v1.2M243.9,353.2h-1.2M296.0,385.3v1.2M243.9,350.7h-1.2M298.6,385.3v1.2M243.9,349.0h-1.2M300.6,385.3v1.2M243.9,347.6h-1.2M302.3,385.3v1.2M243.9,346.5h-1.2M303.7,385.3v1.2M243.9,345.6h-1.2M304.9,385.3v1.2M243.9,344.8h-1.2M306.0,385.3v1.2M243.9,344.1h-1.2M307.0,385.3v2M243.9,343.4h-2M313.3,385.3v1.2M243.9,339.3h-1.2M317.0,385.3v1.2M243.9,336.8h-1.2M319.6,385.3v1.2M243.9,335.1h-1.2M321.7,385.3v1.2M243.9,333.7h-1.2M323.3,385.3v1.2M243.9,332.6h-1.2M324.7,385.3v1.2M243.9,331.7h-1.2M326.0,385.3v1.2M243.9,330.9h-1.2M327.0,385.3v1.2M243.9,330.1h-1.2" stroke="#555" stroke-width="0.6" fill="none"/><text transform="translate(241.7,385.3) rotate(-90)" font-size="5.2" text-anchor="middle" font-family="'Liberation Serif', serif" fill="#6a6a6a">10<tspan font-size="3.8" dy="-2">0</tspan></text><text transform="translate(241.7,371.4) rotate(-90)" font-size="5.2" text-anchor="middle" font-family="'Liberation Serif', serif" fill="#6a6a6a">10<tspan font-size="3.8" dy="-2">1</tspan></text><text transform="translate(241.7,357.4) rotate(-90)" font-size="5.2" text-anchor="middle" font-family="'Liberation Serif', serif" fill="#6a6a6a">10<tspan font-size="3.8" dy="-2">2</tspan></text><text transform="translate(241.7,343.4) rotate(-90)" font-size="5.2" text-anchor="middle" font-family="'Liberation Serif', serif" fill="#6a6a6a">10<tspan font-size="3.8" dy="-2">3</tspan></text><text transform="translate(241.7,329.5) rotate(-90)" font-size="5.2" text-anchor="middle" font-family="'Liberation Serif', serif" fill="#6a6a6a">10<tspan font-size="3.8" dy="-2">4</tspan></text><path d="M249 343.5h1m2.5 -2.5h1m49 3.5h1m-43.5 -4h1m-15 5h1m4 -3.5h1m43.5 -1.5h1m-6 1.5h1m26 -1.5h1m-63 2h1m40 -4h1m-48 3h1m58 1.5h1m-25.5 0.5h1m-37 -1.5h1m70 -3h1m-38.5 3.5h1m34 -1h1m-63 1h1m26 -0.5h1m16.5 4h1m-51 -3.5h1m38.5 -2h1m30.5 8h1m-57 -5.5h1m-1 -0.5h1m-1 2h1m20.5 -3h1m-16 0.5h1m19 2.5h1m29 -4.5h1m-70.5 1.5h1m66.5 3.5h1m-14 2h1m-12.5 -4.5h1m-22 0h1m30.5 2.5h1m-50.5 -5.5h1m-10.5 1.5h1m43 0h1m-30 -3h1m4 -1.5h1m1.5 5.5h1m1.5 3h1m17.5 -1h1m22.5 1.5h1m2 -9h1m-31.5 6h1m-30 3h1m14.5 -4.5h1m48 -1h1m-68 3.5h1m53 -0.5h1m-19 1h1m14.5 -1.5h1m1 3h1m-19.5 -1h1m19.5 -1h1m-2 -1.5h1m1 2.5h1m2.5 -3h1m-59 3.5h1m25.5 0.5h1m39 -0.5h1m-56.5 -5h1m2.5 3.5h1m40 0h1m-7 1h1m1 -5h1m3 2h1m11 1h1m-67.5 3.5h1m28.5 -4.5h1m-10.5 3.5h1m-2 -2h1m34.5 4h1m10.5 -3.5h1m-24.5 -4.5h1m-54 3h1m30 1.5h1m41 2h1m-34.5 -1.5h1m-25 -2h1m-8.5 -2h1m4.5 3h1m-9.5 -0.5h1m56.5 3.5h1m-12.5 -1h1m-4 -5.5h1m10 -2h1m-25.5 4.5h1m24.5 1.5h1m0.5 -3h1m-11 1h1m-40 4h1m60.5 -1h1m-38 -5.5h1m17.5 4.5h1m-37.5 -0.5h1m-13 -0.5h1m-5.5 1.5h1m-1 0h1m71.5 4.5h1m-71 -5h1m3 -2.5h1m59.5 0.5h1m-72 3h1m64 2.5h1m-5 -3h1m9.5 0h1m-22 -0.5h1m-32 -1.5h1m57.5 1h1m-18 -3h1m-41.5 4.5h1m-0.5 -0.5h1m38 -1h1m-18 -2h1m26 1h1m-43 -0.5h1m-14 2h1m42.5 -1.5h1m-55 1.5h1m18 1.5h1m8 0.5h1m10.5 -5h1m-4.5 1.5h1m28 -1.5h1m-5.5 5h1m-53.5 -4.5h1m-2.5 5h1m39.5 -4.5h1m-23.5 3.5h1m47 -3.5h1m-55 1h1m-9 0.5h1m10.5 0h1m27.5 -0.5h1m-11.5 2h1m-26.5 1h1m51.5 -1h1m1 -3h1m-11 -3h1m-41.5 4.5h1m-20 -6.5h1m45.5 8h1m0.5 -0.5h1m17.5 -4h1m-70 4h1m15.5 -2.5h1m54.5 4h1m3.5 -4.5h1m-52.5 0h1m40.5 0.5h1m-4.5 2h1m-57 -3h1m50.5 7.5h1m-29.5 -6h1m-7.5 4.5h1m29.5 -4.5h1m-23 0h1m35 -1h1m-49 0h1m-4 3h1m-14 1.5h1m60 -2.5h1m-38 -2h1m-26 2.5h1m71 -2.5h1m-65.5 -4h1m4 6h1m35 -4h1m22 2.5h1m-1 1.5h1m0.5 -1h1m-52 0h1m0 4.5h1m-24 -1.5h1m55 1h1m6 -2.5h1m-67 0h1m23 3.5h1m43.5 -5.5h1m-39 2h1m29 -0.5h1m-30.5 0.5h1m42 0.5h1m-70 -1h1m50 1.5h1m15.5 -3.5h1m-12.5 3h1m3 -3.5h1m-43 4.5h1m17.5 0h1m-5 -2.5h1m-38 -1h1m59 1h1m-58.5 1.5h1m12 -4.5h1m3.5 1h1m50.5 4.5h1m-3 -2.5h1m-46 -2.5h1m1 -2h1m-16 4h1m7 -3h1m-16.5 4h1m65 -0.5h1m-46.5 4.5h1m-12 -7h1m-10 4h1m3.5 -4h1m-10 0.5h1m28.5 2h1m32 -1.5h1m6.5 6h1m-54.5 -4.5h1m-11 -1.5h1m20 7h1m-29.5 -7h1m61.5 1h1m-41 0.5h1m-1 -1.5h1m44.5 3h1m3.5 1.5h1m-3.5 -5.5h1m-32.5 1.5h1m-14.5 0.5h1m-21 -2.5h1m68 0.5h1m-73.5 2h1m61 -1.5h1m1.5 3h1m-4.5 1h1m2 -1.5h1m-34.5 0.5h1m34 -3h1m-41 1h1m45 2h1m-71.5 0.5h1m63.5 -1.5h1m-39.5 1.5h1m14.5 -2h1m-43.5 -2h1m-3 3.5h1m6 -2h1m9 -2.5h1m5 5.5h1m25.5 -1h1m-18 1h1m14 -3h1m-28 4.5h1m-14.5 -2.5h1m51 1.5h1m-14.5 -4h1m21.5 1h1m2.5 3.5h1m-37 -3h1m-22 0h1m-3 3.5h1m21 -1h1m-13.5 -2h1m32 4h1m-20 -7.5h1m8 3h1m-19.5 -1h1m33 4.5h1m-22 0h1m25.5 -4.5h1m-30.5 1.5h1m28.5 2h1m-3.5 -1h1m-43 -0.5h1m0 1.5h1m53.5 2h1m-47 -4h1m16.5 -2.5h1m21.5 2h1m-30.5 0h1m-38 -0.5h1m26 2.5h1m8.5 0h1m31.5 0h1m-1 -0.5h1m-54 -0.5h1m-13.5 -3h1m29 1.5h1m-7 -1h1m26 2.5h1m-23 -1h1m-26.5 0h1m18 1.5h1m-17.5 -2h1m46.5 3h1m-22 0h1m17 -4.5h1m-50.5 5h1m68 -3.5h1m-45 -1h1m13.5 1h1m12 -2h1m-8 3.5h1m17.5 2h1m-63 -6h1m46.5 4h1m15 0.5h1m-14.5 0h1m1 0h1m-55 -0.5h1m8.5 -2h1m57.5 3h1m-52.5 -1h1m23 1h1m-6 -1h1m31.5 -1.5h1m-52.5 0.5h1m-7.5 1.5h1m18 1h1m24 -6.5h1m-45 1.5h1m-13.5 -1h1m8 2.5h1m39.5 -0.5h1m-50 2h1m37.5 -1h1m29 3.5h1m-7 -4h1m-51 -0.5h1m-20.5 0h1m48 6.5h1m-31 -2h1m-6 -0.5h1m-8.5 -5.5h1m0.5 2.5h1m46.5 0.5h1m1.5 6h1m-25 -2.5h1m21 -0.5h1m-18.5 -2h1m4 6h1m19 -16h1m-31.5 6.5h1m4 8h1m33.5 -6h1m-1.5 4.5h1m-28.5 4h1m-9.5 -3h1m-37 -10h1m32 5.5h1m-13.5 -4h1m10.5 7h1m-16.5 2.5h1m54.5 -5.5h1m-56.5 3h1m30.5 -3h1m-48 9h1m27 -7.5h1m42.5 0.5h1m-46 1.5h1m-22.5 2h1m42 -1.5h1m12.5 -3h1m-61.5 0h1m41.5 2h1m-40.5 0.5h1m52 -4h1m-15 -1h1m15 1.5h1m8 3h1m-16 -4h1m3 -2.5h1m-28 3h1m-9.5 -0.5h1m44.5 4.5h1m-47 -4.5h1m41 0.5h1m-31.5 9.5h1m-34 -6h1m41.5 -6h1m10.5 9h1m-54.5 -6.5h1m70 -2h1m-49 6.5h1m8 -9h1m20 5.5h1m-13 3h1m-9 0.5h1m35.5 -5h1m-63 0h1" stroke="#f07818" stroke-opacity="0.75" stroke-width="1" fill="none"/><path d="M298.5 349.5h1m8.5 -0.5h1m-23.5 7.5h1m18.5 1.5h1m-4.5 -3h1m7 1h1m-20 12h1m16.5 -17h1m-16.5 6.5h1m8 -8.5h1m-6.5 -0.5h1m-16.5 4h1m17 0h1m2.5 -1h1m2.5 4.5h1m-12 -0.5h1m-5.5 -3.5h1m13.5 -2h1m-9 -1.5h1m9.5 4h1m2 7h1m-13.5 -4h1m-0.5 -8.5h1m-5.5 0h1m-11 2h1m14.5 2h1m4.5 -0.5h1m1.5 0h1m-9 -0.5h1m12.5 -2h1m-18.5 14.5h1m3 -14.5h1m-5 7.5h1m-0.5 2h1m0.5 4h1m-4 -11.5h1m1 -2h1m4 0.5h1m-2 3.5h1m-10 5.5h1m11 1h1m-11 -8h1m8.5 0h1m-4 5h1m-16 -3h1m5.5 -4.5h1m14.5 8h1m-13.5 -3.5h1m-1 1h1m1 -2h1m3 -3h1m2.5 3h1m-7.5 0h1m14 -2.5h1m-18 0.5h1m-0.5 -1.5h1m1 5h1m2 -5h1m8.5 4.5h1m0.5 2h1m-16 -0.5h1m0.5 -6.5h1m5 2.5h1m-7 0h1m6.5 0h1m-15.5 -1h1m13.5 2.5h1m-24 -2.5h1m19.5 -1h1m0 4.5h1m6 1h1m-20 2h1m11.5 -7h1m-1.5 6.5h1m-13 -4h1m8 -4h1m-9.5 1.5h1m-3.5 9h1m-3.5 -6.5h1m9 -1.5h1m-7.5 2.5h1m-9 -4h1m17.5 5h1m-16.5 -5h1m17.5 7h1m-4.5 -4.5h1m-9.5 -1h1m-6.5 -1h1m4 2h1m-4.5 5h1m6.5 4.5h1m-1 -12.5h1m14 4h1m-29 0h1m10.5 -3.5h1m8 0h1m2.5 3.5h1m1.5 4h1m-19 -3.5h1m12.5 1.5h1m-29 1.5h1m19.5 -5.5h1m7 7h1m-2 -5.5h1m-17.5 -1h1m3.5 3h1m-11 -2h1m9.5 -2h1m-5.5 5.5h1m11.5 -6h1m-9 -1.5h1m9.5 12h1m-6.5 -10h1m-2.5 3h1m15 -3.5h1m-5.5 0h1m-20.5 2.5h1m20 1.5h1m-5.5 0h1m3.5 -5h1m-8 2.5h1m-18.5 -1h1m10 4h1m-17 6.5h1m7 -10.5h1m4.5 3h1m14.5 6h1m-10.5 -8h1m0 2.5h1m3 -2.5h1m-13.5 -2.5h1m14.5 3.5h1m-8 5h1m-10 2.5h1m2 -7h1m1.5 -2h1m5.5 -2h1m5.5 0h1m-14.5 1h1m-0.5 11h1m14.5 -12h1m-4 8.5h1m2 -4h1m-13 -0.5h1m-5.5 -1.5h1m7.5 8.5h1m-4 -1h1m-9.5 -9h1m15.5 3h1m0.5 6.5h1m-19.5 -8h1m-0.5 7.5h1m1 4.5h1m-7 -6.5h1m15.5 -6.5h1m-19 1.5h1m15.5 3.5h1m-3 -6.5h1m2 4h1m-18.5 8h1m11.5 -1h1m0 5h1m4 -16h1m-5 10h1m-8.5 -6h1m12.5 -0.5h1m1 -2.5h1m-1.5 2.5h1m-17.5 -2.5h1m9 -1h1m-12 7.5h1m4.5 1.5h1m6.5 -2h1m-18.5 0.5h1m22 -1h1m-3 8h1m-16.5 -9.5h1m0.5 3h1m3 -2.5h1m-1.5 -1h1m-9.5 0h1m7.5 -4h1m-12 14h1m6 -11h1m17.5 -4h1m-15 0.5h1m-3.5 9h1m14.5 -6.5h1m-11 15.5h1m1.5 -8h1m-10.5 -4.5h1m12 -4h1m-12 -2h1m8.5 4h1m-3 7h1m7.5 3.5h1m-6.5 -9.5h1m-9 1.5h1m-9.5 9h1m5 -9h1m-4 -3.5h1m16.5 5h1m-16.5 0h1m-15.5 -1.5h1m20 1h1m2.5 -5.5h1m-15 -1h1m12 1.5h1m-17 12.5h1m11.5 -6h1m-4.5 7.5h1m3 -10h1m0 -4.5h1m-10 0h1m11 5h1m-11.5 -2.5h1m4 -2h1m9 0h1m-19.5 5h1m7 2.5h1m11 -6.5h1m-3.5 4.5h1m-16.5 -4.5h1m-0.5 -2h1m8.5 6h1m-10.5 1h1m4.5 -6h1m-12.5 15.5h1m15 -14.5h1m-19 -1h1m13 8.5h1m3.5 -0.5h1m-12 0h1m-8 -3.5h1m1.5 -6h1m-6.5 0h1m28 2.5h1m-30 0h1m4 -0.5h1m12 7.5h1m-3 -10h1m6.5 0h1m1.5 0.5h1m-8 3.5h1m-5 -0.5h1m-5 -0.5h1m2 3h1m8 -2.5h1m-3.5 8h1m-1 -8.5h1m-19.5 -1h1m6.5 -1.5h1m-0.5 9h1m0 -4h1m-5 -5h1m13 3h1m2 -3h1m4 0.5h1m-18.5 4h1m2 -5.5h1m0.5 18h1m-1.5 -14h1m-7.5 2h1m12 -6h1m-23.5 6.5h1m11 2h1m-12 -4h1m19 4h1m-17 -6.5h1m0.5 3h1m8.5 -3.5h1m-9.5 3h1m9.5 -3.5h1m-6 2h1m15 -1.5h1m-24 1.5h1m2.5 -3h1m10 2.5h1m-4.5 -2.5h1m1.5 3.5h1m-7 0h1m9 -1.5h1m-6 2.5h1m7 -4.5h1m-22.5 7.5h1m12 -5h1m-5 3h1m4 -4.5h1m-11.5 8h1m13 -6h1m-18 -2.5h1m16.5 2h1m-3.5 -2.5h1m-20 9.5h1m16.5 -1h1m-19.5 3h1m19 -10.5h1m-18.5 3.5h1m11.5 -4.5h1m-2.5 4h1m-12 13.5h1m-3 -9h1m18 -1.5h1m-9 -6.5h1m11.5 9h1m-10 -4.5h1m11 3h1m-11 -7.5h1m11 -0.5h1m-11.5 7h1m-3.5 4h1m3 -10h1m-11.5 -0.5h1m0 1h1m17.5 5h1m-16 -4h1m-8.5 -2h1m12 4h1m-11.5 0h1m6 -0.5h1m7.5 9.5h1m0.5 -11h1m1.5 2.5h1m-4.5 1h1m-5 -4h1m-2 -2h1m-3 2h1m-3.5 5.5h1m11.5 -6.5h1m-14 0.5h1m13 -0.5h1m-15 0.5h1m9.5 3.5h1m-33.5 -3.5h1m23 2h1m-7 -1.5h1m16.5 3h1m-1.5 0.5h1m-18 -2.5h1m3 0.5h1m7.5 1.5h1m-6 2.5h1m-3 -7h1m6.5 7h1m-19.5 -2.5h1m22.5 -3h1m-10.5 6h1m-27.5 -4.5h1m14.5 3h1m6 -6.5h1m11 4h1m-12.5 -0.5h1m-13 3h1m22 -4.5h1m-8.5 -1.5h1m-4.5 1h1m7.5 14h1m-12.5 -14.5h1m1.5 -0.5h1m8 0h1m-5.5 1h1m3 0.5h1m-11.5 -1.5h1m14.5 0.5h1m-25 3.5h1m-0.5 -2h1m14 3h1m-7.5 -5.5h1m3 2h1m-2.5 -0.5h1m-2.5 0h1m-8 -1h1m10 3.5h1m7 -3h1m-18.5 2.5h1m18 -3h1m-0.5 7.5h1m-20.5 -2h1m12.5 -2h1m-16.5 -2.5h1m7 21.5h1m-9 -19h1m3.5 -3.5h1m-11.5 0h1m12.5 9h1m-8 -6.5h1m0.5 9.5h1m-10 -10h1m15.5 -0.5h1m10.5 -2h1m-16 0.5h1m1 5.5h1m-9 -5.5h1m4 2.5h1m-4 6h1m-6.5 -7.5h1m4.5 15.5h1m2 -6.5h1m5.5 -5.5h1m-6.5 2.5h1m4 4h1m7.5 -3.5h1m-4 -7.5h1m-12 1.5h1m-12 4.5h1m12 -4.5h1m1 -1.5h1m6.5 3.5h1m-8 -1h1m8 3h1m-13.5 -4h1m6.5 5h1m-13.5 -6h1m-1.5 0.5h1m4.5 5.5h1m3 2.5h1m3 0h1m-32 -6.5h1m33.5 10.5h1m2 -5h1m-2.5 -6.5h1m-5 6.5h1m-8.5 -6.5h1m4 5.5h1m5 -7h1m-19 1h1m12 6h1m-2 -2h1m-6.5 0.5h1m12.5 -3h1m-19 5h1m-3 -7.5h1m6.5 0.5h1m-6 2h1m15 -1.5h1m-25 6.5h1m1.5 -4h1m12 6h1m2.5 -7h1m-16.5 -2.5h1m19 0h1m-26.5 6h1m22.5 -0.5h1m-16.5 -5h1m2.5 4.5h1m15 -1h1m-14 0h1m-5.5 -4h1m6 6h1m9.5 1.5h1m-13 -4.5h1m-7.5 -0.5h1m6.5 -1.5h1m-12.5 1.5h1m3.5 3.5h1m0 -2h1m8.5 -4.5h1m-10 5h1m7 1.5h1m4 -2.5h1m2.5 0.5h1m-27 0h1m12 8.5h1m-10 1.5h1m13.5 -10.5h1m-4 1h1m-3 0h1m-5.5 0.5h1m-4.5 -4h1m-6.5 6h1m20 -4.5h1m-10 -0.5h1m0.5 3h1m1.5 -2h1m2.5 -1.5h1m5.5 0h1m-15 0.5h1m5.5 -0.5h1m-19 -0.5h1m9 4.5h1m-3.5 3h1m-0.5 -7.5h1m13 5.5h1m-9 6.5h1m-1.5 -3.5h1m-1 -10h1m-3.5 1h1m-1 -1h1m-4 2h1m-0.5 3h1m0 6h1m1 -9h1m-14.5 -1.5h1m14.5 9h1m-2 1.5h1m2.5 -2.5h1m-13 -3h1m0.5 -0.5h1m13 2.5h1m-13.5 -6.5h1m8.5 -0.5h1m-10 11h1m-5 2.5h1m-3 -9.5h1m5.5 -1h1m0 -1.5h1m-7 3.5h1m20 0h1m-12 3.5h1m-8 -8.5h1m17.5 0.5h1m-6 3h1m-13.5 2h1m-3.5 -0.5h1m6 0h1m6 0.5h1m-17.5 -2.5h1m19 13h1m-13 -8.5h1m8.5 -7h1m-8.5 3h1m4 1h1m0 0.5h1m4 -3.5h1m-16.5 3h1m17 -4h1m-23.5 1.5h1m11.5 3h1m2 -4h1m-6.5 9.5h1m6 -5.5h1m-21 -2h1m11.5 2h1m7.5 -5h1m-9 6.5h1m-10 -3.5h1m9 1h1m-0.5 -4h1m-10.5 5.5h1m17.5 5.5h1m-16 -2h1m-4.5 -4.5h1m8 2h1m-7 -6.5h1m2.5 3.5h1m2.5 4h1m-6.5 -7.5h1m7 7h1m-3 -5.5h1m6 -0.5h1m-18.5 8.5h1m7.5 -8.5h1m0.5 0.5h1m-0.5 4h1m-20 -4.5h1m7 5h1m10 0h1m1 -1h1m-5 -2h1m0 1h1m7 -2.5h1m-13 0h1m-4.5 11.5h1m17 2.5h1m-8 -12h1m-7 1h1m-5.5 -4.5h1m17 10h1m-15.5 -9.5h1m-5.5 1h1m15.5 -1h1m-22.5 1h1m9.5 0.5h1m5 13.5h1m-8 -11.5h1m-3 -3h1m6.5 -1h1m-14 12.5h1m7 -9h1m6 -3.5h1m-15 11.5h1m18.5 -10.5h1m-13.5 -0.5h1m0 4.5h1m-4 1.5h1m7 -3.5h1m-9 6h1m4.5 -4.5h1m7 -4h1m-1 0h1m-23 9h1m21.5 -1.5h1m-15.5 -2h1m5.5 -5.5h1m-2.5 0h1m0.5 7.5h1m-8 1h1m8 -8.5h1m2.5 -0.5h1m-13.5 11.5h1m3.5 -11.5h1m5.5 6h1m1 -3.5h1m-7 -2.5h1m-1.5 1h1m1 3h1m-7.5 -2h1m4 2.5h1m-5.5 -4.5h1m-1.5 2h1m-17 10.5h1m3.5 -1h1m16 -11.5h1m2 3.5h1m-3.5 -2h1m-3.5 3.5h1m-4.5 -2h1m6 -0.5h1m-8.5 -0.5h1m2 -1h1m11 0h1m-24 4.5h1m5.5 -5h1m1.5 5.5h1m-14 -0.5h1m4.5 2.5h1m17 -1.5h1m-5.5 -3.5h1m-6 2h1m10 -0.5h1m-19 -2.5h1m19.5 -0.5h1m-14 -1h1m-5.5 1h1m12.5 -1h1m-5.5 12.5h1m-3.5 -4.5h1m-3.5 -3h1m-14.5 3h1m-3 -3.5h1m15.5 -4h1m6.5 -1h1m-15 7.5h1m6 -2h1m-14 0h1m-0.5 6.5h1m10.5 -6h1m5 -3h1m-1 4.5h1m3 -3h1m-17 5.5h1m4 -8.5h1m6.5 0h1m-15 2.5h1m4.5 4h1m1.5 -6.5h1m-1.5 -0.5h1m6 4h1m-4.5 -3h1m-7.5 5h1m-16 5h1m23.5 -11.5h1m0.5 0h1m-4.5 6h1m-2.5 5h1m0 -4h1m5 -1.5h1m-15 3.5h1m2.5 -10h1m-8 2h1m5 -2h1m-5.5 0h1m-1 5.5h1m-10.5 1h1m14 1h1m7.5 -6.5h1m-32.5 -1h1m32.5 9h1m-11 -6.5h1m-6 5.5h1m6.5 -5h1m-5.5 -2.5h1m0.5 3.5h1m11 -4h1m-11 2.5h1m0.5 0.5h1m-6 9h1m-0.5 -3h1m-6.5 -3.5h1m5 1h1m-6 -4.5h1m14 3h1m-11.5 -4.5h1m6.5 0h1m3.5 4.5h1m-3.5 2.5h1m-14.5 -3h1m17.5 -4.5h1m-29 5h1m25.5 5h1m-32.5 0.5h1m12 -7.5h1m5.5 0h1m-6 -3h1m-12 2h1m4 3h1m12.5 -2.5h1m-16.5 -2.5h1m17.5 9.5h1m3 -8h1m0.5 -1.5h1m-9.5 7h1m-3.5 0h1m-3.5 -1h1m13.5 3h1m-3 -7.5h1m-5.5 9.5h1m-3.5 -6h1m5 2.5h1m-24.5 -2.5h1m21 3h1m-12.5 -7.5h1m-14.5 1.5h1m25.5 1.5h1m-15.5 2h1m8.5 -2.5h1m-10.5 0h1m2 7h1m14.5 -3h1m-11 -5h1m-0.5 2h1m-16.5 -3h1m18.5 2h1m-13 8.5h1m7.5 -9.5h1m-12.5 3.5h1m10 4h1m0.5 -5h1m-17 2h1m13 2.5h1m-10.5 -1h1m16 -4.5h1m-8 -3h1m-3.5 0.5h1m9.5 6.5h1m-5.5 -0.5h1m-10.5 -3.5h1m9 -0.5h1m-5.5 4.5h1m7 -1h1m-19.5 -2.5h1m20 7h1m-18 -10h1m0 -1h1m-3.5 6.5h1m2 5h1m14.5 -8.5h1m-12.5 2.5h1m-11 -4h1m6.5 0h1m2 -1h1m4.5 6.5h1m-11 -5h1m3 5.5h1m8.5 -7h1m-13 1.5h1m1 14h1m-11.5 -12.5h1m16 9.5h1m-12 -10.5h1m15.5 1.5h1m-4.5 1.5h1m-4 2.5h1m-11.5 -8h1m0.5 1.5h1m-1.5 2h1m3 -3h1m-4.5 5h1m-2.5 -2h1m4 0.5h1m-2 1.5h1m-4 -2h1m9.5 1h1m0 -1.5h1m-14 -0.5h1m16 3h1m-10.5 -3.5h1m6 10.5h1m2 -0.5h1m-25 -10.5h1m14 10h1m2.5 -8.5h1m1 -1h1m-4 6.5h1m0.5 -8h1m-21 0.5h1m3.5 2.5h1m11 1h1m-21.5 7h1m11 -5.5h1m1.5 3h1m3.5 -2.5h1m3.5 -2h1m-6.5 3.5h1m-9.5 5h1m-2 -12h1m10 9.5h1m0.5 -5.5h1m-3 -0.5h1m-2.5 2h1m-1.5 -3h1m-13 2h1m10 -1h1m5 -3.5h1m-16 3h1m11.5 1h1m1 -2.5h1m5.5 1.5h1m-13.5 3.5h1m-2.5 4h1m-8.5 -10.5h1m0 0.5h1m-5 4.5h1m-2.5 -3.5h1m18.5 -2.5h1m-6.5 1.5h1m1.5 7h1m-16 -6h1m-4.5 -1h1m1 2h1m26 0.5h1m-5 -2h1m-20.5 4h1m10.5 -3h1m-0.5 3.5h1m-10 -5h1m1.5 5.5h1m11.5 0h1m-2.5 -2.5h1m0.5 3.5h1m-5.5 -3h1m-3 3h1m2 0h1m-6 -6.5h1m13.5 5h1m-12.5 -2h1m1.5 -0.5h1m-6 3.5h1m-5.5 -1h1m4 -2h1m-3.5 -1h1m-4.5 12.5h1m11.5 -11h1m5.5 -4h1m-11.5 8.5h1m-4 -8h1m-6 -1h1m-7 9h1m15.5 0h1m-1 -7h1m-12 1.5h1m6 3.5h1m-8.5 -3h1m17 -2h1m-11.5 0h1m2 3.5h1m8.5 -3h1m-32 4h1m20 4.5h1m-2 -7h1m-5.5 2.5h1m1.5 -6h1m8.5 8.5h1m-16 -5.5h1m-0.5 -1.5h1m17 1h1m-6 8.5h1m-5 -4.5h1m1.5 -6.5h1m-7 9.5h1m-4 -6.5h1m0.5 6h1m2.5 -9h1m-7 4h1m-10 -3.5h1m10 -1.5h1m3 7h1m-4.5 5h1m5.5 -11h1m-4 1h1m4 3.5h1m-7.5 -4h1m-3.5 1.5h1m5 4.5h1m1.5 -5h1m-11.5 4.5h1m-4 -5.5h1m16 4h1m-15.5 -3.5h1m6 -0.5h1m-10 -2h1m4.5 9h1m-2.5 -4.5h1m-2 -3h1m7.5 5h1m-15.5 -5.5h1m15 1h1m-8.5 -0.5h1m1 1h1m-6.5 -1h1m13.5 10.5h1m-10.5 -5.5h1m1 -2h1m-5 -1h1m4 -2.5h1m-10 5.5h1m-4.5 2.5h1m5.5 -4h1m8 -0.5h1m-7.5 -1.5h1m1 3.5h1m-9 0h1m9.5 -0.5h1m-11 1h1m11.5 -4h1m-19.5 -0.5h1m9.5 6h1m6 -2h1m-11.5 0h1m2.5 -5h1m-11 6h1m-0.5 0.5h1m21.5 -3.5h1m-19 -2h1m0 3h1m9 -3h1m-9 0h1m7.5 5h1m-12.5 -4h1m5 -4h1m-5 5.5h1m-6 0h1m7.5 -2h1m4.5 -1h1m-4.5 2h1m3 -1.5h1m-4 4h1m2 2.5h1m-16 -4.5h1m1.5 3h1m13 -4h1m-7.5 5h1m-1.5 -4.5h1m-11.5 -1.5h1m14.5 -2h1m-5.5 4.5h1m-2.5 2h1m-5.5 1.5h1m1 -1h1m-2 -2h1m0.5 4h1m-5 -7h1m13.5 4.5h1m-9.5 -3h1m-8.5 -0.5h1m8.5 4.5h1m2.5 0.5h1m-4 -6h1m-5.5 6.5h1m1.5 -0.5h1m-10.5 -5.5h1m3.5 2.5h1m-1 -5h1m3 -2.5h1m-4 8h1m-4 -1.5h1m0.5 -1h1m5.5 2.5h1m0 -3.5h1m5.5 3h1m-13.5 3h1m0.5 1.5h1m6 -6h1m-8.5 -2h1m-3 1.5h1m11.5 1.5h1m-9.5 1h1m-2 -5h1m-8 7.5h1m6 1h1m12 -4h1m-8 -2h1m-6 1.5h1m-0.5 4h1m-1.5 -2h1m0.5 -0.5h1m9 -6.5h1m-5 3h1m-6.5 0.5h1m-5 -3h1m-14 10.5h1m20 -7h1m-17.5 2.5h1m19.5 -0.5h1m-20.5 -3h1m11 1.5h1m4 -3h1m-11.5 -4.5h1m9.5 9.5h1m-10.5 -7.5h1m7 1.5h1m-14 -1.5h1m-2 2.5h1m1 6.5h1m10 -3h1m-9 -0.5h1m-5.5 1h1m1.5 -2.5h1m6.5 -1h1m-11.5 5.5h1m-3 -7h1m2.5 2h1m5 -7.5h1m-3 13.5h1m9 -1.5h1m-8.5 -2h1m-4 -5.5h1m4.5 8h1m-1 -3h1m2 1h1m1 -2.5h1m-19 3h1m15.5 -4h1m-5 4.5h1m-19 5.5h1m20 -8h1m-12.5 -4.5h1m18 4h1m-9 -1h1m-7 4h1m-4.5 -2h1m3.5 1.5h1m5 -2h1m2.5 -1h1m-12 2h1m0 2h1m-17 -8h1m3 10h1m17.5 -6.5h1m-3.5 -3.5h1m-5.5 10h1m5 2h1m-8 -3h1m2.5 -2.5h1m0 1.5h1m5.5 -2.5h1m-6.5 -0.5h1m-1.5 -2h1m3 4.5h1m-5 -2h1m-7 -3h1m-3.5 0.5h1m11 4h1m-15 -4.5h1m16 8h1m-4 1.5h1m-10.5 -5h1m-0.5 5.5h1m5.5 -5.5h1m-1.5 -3.5h1m-3.5 -5h1m-3.5 4h1m6.5 7h1m-4 -7h1m-9.5 5.5h1m4 -3h1m-5.5 1.5h1m6.5 1.5h1m-8 -2.5h1m-3.5 1h1m3 5.5h1m9 -7.5h1m6 14h1m-11.5 -1h1m-15.5 -7h1m17.5 4.5h1m-8 -2.5h1m5 8h1m-25 10.5h1m25 -9h1m-9 -7.5h1m5 21.5h1m-11.5 -29.5h1m-0.5 9.5h1m10 -11h1m-16.5 7.5h1m15 11.5h1m-10 0h1m-2 -8h1m-27.5 -8h1m12 10.5h1m12 -12h1m-1.5 7.5h1m3 -3.5h1m-13.5 14.5h1m4 -2h1m-8 -10h1m5.5 -6h1m10.5 -3h1m-6.5 -6.5h1m4 17.5h1m4 16h1m-21 -16h1m-8 -4h1m14 4h1m7 4h1m1 -9.5h1m-10 -3h1m-4.5 -14h1m-0.5 22.5h1m-5 -3.5h1m-14.5 -2h1m11 7h1m11 -5.5h1m-8 6.5h1m-9 5.5h1m26 -5.5h1m-23.5 -1h1m17 8.5h1m-28.5 -8h1m5.5 -6h1m10 8h1m-7 -11h1m0 -1.5h1m19.5 -4.5h1m-12.5 13.5h1m-7.5 -9h1m-6.5 5.5h1m-2 0.5h1m6.5 -1.5h1m2.5 9.5h1m-12 0h1m5.5 -10.5h1m3.5 13.5h1m-9.5 -23.5h1m11 22.5h1m-21.5 -9h1m16 -18h1m2.5 24.5h1m-0.5 6.5h1m-21.5 -4.5h1m27.5 -25.5h1m-22 23.5h1m-5 -20h1m10.5 15.5h1m-12.5 1h1m17 6h1m-6.5 -18h1m-9 -8.5h1m-9.5 19.5h1" stroke="#f07818" stroke-opacity="0.82" stroke-width="1" fill="none"/><path d="M263.5 361.5h1m52.5 -8.5h1m-48.5 6.5h1m6.5 12h1m6.5 -1.5h1m19.5 -20.5h1m13 30h1m-19.5 -11h1m-34 -1h1m46 3h1m-41.5 -3.5h1m-18.5 16.5h1m-5 -29.5h1m60 19h1m-24.5 -3.5h1m-22.5 14.5h1m-14.5 -12h1m68 -18h1m-14.5 6h1m-4 21h1" stroke="#f07818" stroke-opacity="0.4" stroke-width="1" fill="none"/><rect x="278.2" y="333.1" width="48.1" height="13.3" fill="none" stroke="#000" stroke-width="1.6"/><path d="M244.3,396.4 H327.6 V453.2" stroke="#7a7a7a" stroke-width="0.8" fill="none"/><path d="M244.3,396.4 V453.2 H327.6" stroke="#333" stroke-width="0.9" fill="none"/><path d="M244.3,453.2v2M244.3,453.2h-2M250.6,453.2v1.2M244.3,448.9h-1.2M254.2,453.2v1.2M244.3,446.4h-1.2M256.8,453.2v1.2M244.3,444.7h-1.2M258.9,453.2v1.2M244.3,443.3h-1.2M260.5,453.2v1.2M244.3,442.2h-1.2M261.9,453.2v1.2M244.3,441.2h-1.2M263.1,453.2v1.2M244.3,440.4h-1.2M264.2,453.2v1.2M244.3,439.6h-1.2M265.1,453.2v2M244.3,439.0h-2M271.4,453.2v1.2M244.3,434.7h-1.2M275.1,453.2v1.2M244.3,432.2h-1.2M277.7,453.2v1.2M244.3,430.5h-1.2M279.7,453.2v1.2M244.3,429.1h-1.2M281.3,453.2v1.2M244.3,428.0h-1.2M282.7,453.2v1.2M244.3,427.0h-1.2M283.9,453.2v1.2M244.3,426.2h-1.2M285.0,453.2v1.2M244.3,425.4h-1.2M286.0,453.2v2M244.3,424.8h-2M292.2,453.2v1.2M244.3,420.5h-1.2M295.9,453.2v1.2M244.3,418.0h-1.2M298.5,453.2v1.2M244.3,416.3h-1.2M300.5,453.2v1.2M244.3,414.9h-1.2M302.2,453.2v1.2M244.3,413.8h-1.2M303.5,453.2v1.2M244.3,412.8h-1.2M304.8,453.2v1.2M244.3,412.0h-1.2M305.8,453.2v1.2M244.3,411.2h-1.2M306.8,453.2v2M244.3,410.6h-2M313.0,453.2v1.2M244.3,406.3h-1.2M316.7,453.2v1.2M244.3,403.8h-1.2M319.3,453.2v1.2M244.3,402.1h-1.2M321.3,453.2v1.2M244.3,400.7h-1.2M323.0,453.2v1.2M244.3,399.6h-1.2M324.4,453.2v1.2M244.3,398.6h-1.2M325.6,453.2v1.2M244.3,397.8h-1.2M326.6,453.2v1.2M244.3,397.0h-1.2" stroke="#555" stroke-width="0.6" fill="none"/><text x="245.1" y="460.2" font-size="5.2" text-anchor="middle" font-family="'Liberation Serif', serif" fill="#6a6a6a">10<tspan font-size="3.8" dy="-2">0</tspan></text><text transform="translate(242.1,453.2) rotate(-90)" font-size="5.2" text-anchor="middle" font-family="'Liberation Serif', serif" fill="#6a6a6a">10<tspan font-size="3.8" dy="-2">0</tspan></text><text x="265.9" y="460.2" font-size="5.2" text-anchor="middle" font-family="'Liberation Serif', serif" fill="#6a6a6a">10<tspan font-size="3.8" dy="-2">1</tspan></text><text transform="translate(242.1,439.0) rotate(-90)" font-size="5.2" text-anchor="middle" font-family="'Liberation Serif', serif" fill="#6a6a6a">10<tspan font-size="3.8" dy="-2">1</tspan></text><text x="286.8" y="460.2" font-size="5.2" text-anchor="middle" font-family="'Liberation Serif', serif" fill="#6a6a6a">10<tspan font-size="3.8" dy="-2">2</tspan></text><text transform="translate(242.1,424.8) rotate(-90)" font-size="5.2" text-anchor="middle" font-family="'Liberation Serif', serif" fill="#6a6a6a">10<tspan font-size="3.8" dy="-2">2</tspan></text><text x="307.6" y="460.2" font-size="5.2" text-anchor="middle" font-family="'Liberation Serif', serif" fill="#6a6a6a">10<tspan font-size="3.8" dy="-2">3</tspan></text><text transform="translate(242.1,410.6) rotate(-90)" font-size="5.2" text-anchor="middle" font-family="'Liberation Serif', serif" fill="#6a6a6a">10<tspan font-size="3.8" dy="-2">3</tspan></text><text x="328.4" y="460.2" font-size="5.2" text-anchor="middle" font-family="'Liberation Serif', serif" fill="#6a6a6a">10<tspan font-size="3.8" dy="-2">4</tspan></text><text transform="translate(242.1,396.4) rotate(-90)" font-size="5.2" text-anchor="middle" font-family="'Liberation Serif', serif" fill="#6a6a6a">10<tspan font-size="3.8" dy="-2">4</tspan></text><path d="M250 414.5h1m46 -3h1m-18.5 -2h1m-34 3.5h1m53.5 -4h1m-45 3h1m8.5 -1.5h1m12 -5.5h1m-14.5 7h1m35.5 2h1m7.5 -5h1m-4.5 2.5h1m-30.5 -0.5h1m19 -2h1m-33 0h1m9.5 3h1m2 -4h1m-6.5 0.5h1m-17.5 3.5h1m48 0h1m-18.5 1.5h1m-21.5 -5h1m-4.5 -2h1m-14 6h1m23.5 -6.5h1m-10.5 2.5h1m38 0.5h1m-55 5h1m5.5 -4h1m29.5 -3.5h1m-26.5 3h1m3 3.5h1m40.5 -8h1m-50 1.5h1m-6 6h1m11 -2.5h1m2.5 -3h1m6.5 2h1m14.5 1h1m-40.5 -3h1m2 1.5h1m49 5h1m-17 -3h1m-41 2h1m32.5 -3h1m16 -1h1m-42 2h1m16 -3h1m20 3h1m-36.5 -1.5h1m29 0h1m-21.5 0h1m11 -1.5h1m1.5 5.5h1m-39 -7h1m39.5 4.5h1m8 -4h1m-42.5 5.5h1m-8.5 -3h1m29.5 1h1m-2 1h1m-5 -0.5h1m29 -0.5h1m-57.5 0.5h1m38 0h1m14 -2h1m-4 0.5h1m-6.5 0h1m-37 -1h1m-0.5 0.5h1m13.5 4.5h1m24 -7h1m-49 8h1m-3 -5.5h1m57 3h1m-37.5 -1.5h1m15.5 -0.5h1m21 1.5h1m-58.5 3h1m20 -4.5h1m-6 34h1m9.5 -10h1m-19 -2.5h1m39 -9.5h1m-36 19.5h1m1.5 -23h1m12 2h1m11 -15h1m0 5.5h1m-18 10.5h1m15.5 0h1m-11.5 5h1m-18 11h1m6.5 -19h1m-9.5 -4.5h1" stroke="#f07818" stroke-opacity="0.45" stroke-width="1" fill="none"/><path d="M307 414h1m-4 10h1m5 7h1m-6.5 -4.5h1m0.5 -7h1m-4 4h1m3 -4h1m5 4h1m-4 -1h1m2 -11h1m-9 13.5h1m7 -1.5h1m-12 9h1m7 -10h1m-5.5 0h1m1 -8h1m-1 6h1m1 5h1m-9 5.5h1m8 -12h1m-10 1h1m6 10.5h1m-7 -11h1m6 4h1m-4 -0.5h1m-2.5 10.5h1m5.5 -11.5h1m0.5 12h1m-5 -8.5h1m-5.5 -1h1m2.5 6.5h1m-7 -16h1m1.5 11h1m-8.5 -3.5h1m5 -5h1m3.5 12.5h1m-8.5 -5h1m5 2.5h1m0 -7h1m3 5.5h1m-10.5 -13h1m0.5 12h1m6.5 -4.5h1m-6.5 -6.5h1m-1.5 10.5h1m-1.5 -1.5h1m-3 -4h1m5 -4h1m-2 15h1m-4 -9h1m-2.5 -4.5h1m0.5 0h1m0.5 4h1m-5.5 3.5h1m9.5 4h1m-7.5 -4.5h1m-4.5 -1.5h1m7.5 5.5h1m2 -12h1m0.5 10h1m-1.5 -2h1m-2.5 0h1m-12 1.5h1m1.5 -1.5h1m4 4h1m-0.5 1h1m-11.5 1.5h1m2.5 -6h1m1 -7h1m5.5 1h1m-8 13.5h1m-9.5 -17h1m14.5 6.5h1m-1.5 2.5h1m-7.5 4h1m-2 -7h1m3.5 -3h1m-9 -3h1m10.5 19.5h1m0.5 -14h1m-9.5 -2h1m1.5 11h1m-1.5 -5.5h1m-16.5 1.5h1m9 -3h1m7 2h1m0.5 8h1m-16 -17h1m18.5 11h1m-12.5 -4h1m2.5 7.5h1m-2.5 -6h1m-6 8h1m8 -10.5h1m-10 2.5h1m10 13h1m2 -15h1m-10.5 -3h1m3.5 1h1m-0.5 6h1m-1.5 -7h1m2.5 4h1m-13 1h1m6 0.5h1m3 6.5h1m1 -7h1m-1.5 -14h1m0 14h1m-2 -1h1m-4.5 5h1m-6.5 -7h1m-12.5 6.5h1m12.5 -4.5h1m6 3.5h1m-6 -12.5h1m-1.5 8.5h1m3.5 -1h1m-12.5 1.5h1m12.5 -3.5h1m-1.5 4h1m-18 4.5h1m16 -1h1m-13 -4h1m0 17h1m6 -28.5h1m0.5 15.5h1m-10.5 -6h1m4 13h1m-3.5 -14h1m6.5 1h1m-11 2.5h1m8.5 1.5h1m-7 7.5h1m8 -17h1m-14 4h1m4 6h1m-0.5 -0.5h1m1.5 -8h1m-14 9h1m16 -0.5h1m-9 2h1m-0.5 -10.5h1m-1.5 11.5h1m2.5 -0.5h1m-5 -0.5h1m8.5 -5h1m-10.5 8.5h1m2 -13h1m-3.5 13.5h1m2.5 3h1m0.5 -8.5h1m1 -5h1m-0.5 3h1m-8 2.5h1m-2 -8h1m-3 9h1m5 -2.5h1m1 -5.5h1m-6.5 14h1m-4 -2h1m2.5 -4h1m1.5 -4.5h1m-1.5 7h1m-5 -10.5h1m7 3h1m-6.5 1h1m-2 -9h1m0.5 7.5h1m-7 -0.5h1m6.5 12.5h1m-4.5 -2h1m-1 -5h1m0 1.5h1m1 -6h1m-9 7.5h1m-1 -9h1m13.5 5h1m-7.5 -1h1m-0.5 -2.5h1m-0.5 1h1m-4 3.5h1m3.5 -0.5h1m1 8.5h1m1 -10h1m-13.5 6h1m5 -2h1m-3 0.5h1m-5 -4h1m-2 10h1m4.5 -22.5h1m6.5 17h1m-0.5 -11.5h1m-6 13.5h1m-3.5 -5h1m-1.5 -4h1m7 -2.5h1m-7.5 7.5h1m-1 1.5h1m-11 1.5h1m3 -7.5h1m3 4h1m0 -5h1m3 13.5h1m-7.5 -15h1m-0.5 -3h1m-4.5 4h1m8.5 0h1m-8.5 2h1m-0.5 15.5h1m10 -14.5h1m-16.5 -3.5h1m2.5 -1.5h1m-7 2h1m6.5 -1h1m-4 5.5h1m1 -14h1m-2 16.5h1m10 -10.5h1m-7.5 9h1m4 -5.5h1m-4 0h1m-11.5 7.5h1m7.5 -2.5h1m-1.5 -7h1m-2.5 6.5h1m-4.5 6.5h1m11.5 -20.5h1m-3 9.5h1m-2.5 3.5h1m-5 4h1m0.5 3h1m0 -15.5h1m-3 7.5h1m-3 -6.5h1m8.5 6h1m-8 -8h1m2 8h1m1.5 9.5h1m-9.5 -13h1m8 10h1m-5.5 -2h1m-4 -4h1m0.5 -11.5h1m2.5 16h1m-9 -7.5h1m5 7h1m-2.5 -6.5h1m1 3.5h1m-7.5 -2.5h1m2 5h1m-6 -7.5h1m3.5 4.5h1m7.5 -1.5h1m-2 5.5h1m0 5h1m-4.5 -14.5h1m-5.5 13h1m7 -1h1m-1 -3h1m-11.5 -3.5h1m4.5 4.5h1m2 -9.5h1m0.5 1.5h1m-5.5 6.5h1m1 -0.5h1m-7 -3.5h1m6 -2h1m-11 -11h1m4.5 9h1m-1 -1h1m-3 3.5h1m5.5 -2.5h1m-11.5 5h1m9 -5.5h1m-2.5 5h1m-1 -10h1m-3 8.5h1m-0.5 -2h1m-2.5 -8h1m-0.5 19h1m0 -7h1m-0.5 7h1m-6 -15.5h1m-3 4.5h1m5 8h1m-5 -10h1m7 11.5h1m-9.5 -2h1m2 -6.5h1m-0.5 -2h1m-9 -3h1m4 9h1m4.5 3h1m-7 -4.5h1m-4 -5.5h1m11 4.5h1m1 4.5h1m-10.5 -7.5h1m-9 11h1m14.5 12.5h1m1 -17.5h1m-13 -11.5h1m2 9.5h1m-6.5 4h1m11.5 -9.5h1m-7.5 -2h1m5.5 2.5h1m-11.5 -6h1m-0.5 1.5h1m9 13h1m-12 -8.5h1m4.5 5.5h1m-6 7h1m7.5 3.5h1m-18 -20h1m16.5 10h1m-6 -7.5h1m3 3.5h1m3 9h1m-3 -16h1m-4 19.5h1m4.5 -2.5h1m-2.5 -11.5h1m1 15h1m-6.5 -7.5h1m-4 -2h1m-1.5 1.5h1m-0.5 -11h1m-3 10.5h1m3 6h1m3 -1h1m-6.5 -1h1m-4 -9.5h1m7 5h1m-9.5 3.5h1m10.5 -1h1m-2 1h1m-3 -9.5h1m-15 2.5h1m-8 -1h1m10 3.5h1m1 -0.5h1m-2 -1.5h1m11 -4.5h1m-17.5 13.5h1m12 -8h1m-7 2h1m-1 4h1m-0.5 -9h1m3 -1h1m-1 -2h1m-6.5 7.5h1m-1.5 4.5h1m2 -4.5h1m-10.5 2h1m9.5 -14h1m-0.5 12.5h1m-5.5 -7.5h1m-4.5 6h1m6 -1.5h1m6 1.5h1m-7.5 -9h1m0 14h1m-7 6.5h1m0.5 -11h1m0 -3h1m-13.5 7h1m2.5 2h1m4.5 -9.5h1m11 -2.5h1m-8.5 -1.5h1m-1 9h1m7.5 -16.5h1m-9 17.5h1m4 -7.5h1m-5 14.5h1m0 1.5h1m-8.5 -15.5h1m5 -2h1m2 -0.5h1m-2.5 -2h1m-7 10h1m6.5 -7h1m-11.5 8.5h1m1.5 -1h1m10.5 1.5h1m-15 3h1m12 -10h1m-8.5 11.5h1m2.5 -5.5h1m3 0.5h1m-0.5 4.5h1m-6.5 -7h1m-3 6h1m-5.5 -1.5h1m2 -15h1m7 12.5h1m-4.5 -4h1m-2.5 -2h1m6 11h1m-8 -7.5h1m0.5 5h1m-1.5 -7.5h1m-3 4h1m-0.5 -3.5h1m6 4.5h1m-3 -7.5h1m-1 5.5h1m-6.5 -4h1m-3 1h1m2.5 2h1m5.5 3.5h1m-6.5 -3.5h1m-6.5 -4h1m5 -3.5h1m4.5 17h1m-16 -2h1m12 -0.5h1m-3 3h1m-8.5 -12h1m6 3h1m-11 4h1m11.5 -5.5h1m-4.5 6.5h1m-13.5 -8.5h1m5.5 2.5h1m-3 -6.5h1m6.5 17.5h1m-8.5 -1.5h1m10 -3h1m1 -8h1m-2 -6h1m-11 10h1m7 -9.5h1m-14.5 10h1m10 1.5h1m-2.5 -11h1m5 11.5h1m-6 8h1m-0.5 -4h1m-3 -24.5h1m-6 1h1m3.5 21.5h1m-8.5 -2.5h1m6.5 1.5h1m2 -11h1m0 5.5h1m1 11h1m-6.5 -1.5h1m-0.5 -6h1m0 -7h1m-1 1.5h1m1 -3.5h1m-8.5 10.5h1m6.5 -1.5h1m-1 2.5h1m-1.5 -0.5h1m-7 -2.5h1m-1 -9.5h1m1.5 10.5h1m0.5 6h1m2 -7.5h1m-3.5 -9.5h1m-1.5 7.5h1m5.5 -4.5h1m-8.5 0.5h1m0.5 -5.5h1m0 9.5h1m-2 14.5h1m-2 -12h1m-1 3.5h1m5.5 3h1m-5.5 -16h1m-0.5 -2.5h1m-7.5 6h1m-2.5 3.5h1m3 -4.5h1m2.5 0.5h1m4 7.5h1m-10 -1h1m-2 -6h1m7.5 -5.5h1m-4 19.5h1m-14.5 2.5h1m0.5 -25.5h1m-2 6h1m6.5 -4.5h1m1 15.5h1m-3.5 -4h1m6 9h1m-4.5 -6h1m2 -3.5h1m-5.5 1.5h1m4 -9h1m-6 9h1m2 0h1m4.5 4h1m-14 3h1m1.5 -13.5h1m8 3h1m-15 5h1m10 -0.5h1m-10.5 1.5h1m3 0.5h1m-4 -10h1m-5 1h1m14.5 5.5h1m-9.5 6.5h1m3 -3.5h1m0 -5h1m-2 3h1m4 1h1m-2.5 -9.5h1m-15 8h1m9.5 0.5h1m-7 -1.5h1m-1.5 -0.5h1m4 -1.5h1m1 -1.5h1m-2.5 6.5h1m6.5 -1.5h1m-4 1h1m1.5 8.5h1m-11 -8h1m3.5 5h1m-15 -12.5h1m2.5 11.5h1m9.5 -4h1m-0.5 -2.5h1m-1 -3.5h1m-13.5 4h1m9.5 -5h1m-4 10.5h1m-1.5 -13.5h1m6 14.5h1m-11 -14h1m0 7.5h1m7.5 6h1m-4 -9.5h1m-4 8h1m-1 -11h1m1 4.5h1m2 -3.5h1m4 14.5h1m-13.5 -10h1m-0.5 -2.5h1m-2 0h1m6.5 2.5h1m-9.5 -12h1m-3.5 18h1m7.5 -6.5h1m7.5 -6h1m-6.5 2h1m-2 -7h1m-4 10h1m1.5 -7.5h1m-2.5 13h1m-0.5 0h1m3 -3.5h1m-6.5 -1h1m-3.5 3.5h1m5 2.5h1m4 -1.5h1m-4.5 -4h1m0.5 7h1m-7 -15h1m-6.5 12.5h1m8.5 -2.5h1m-12 -6h1m-0.5 -3.5h1m4 2.5h1m9.5 -3h1m-11.5 3h1m2.5 8h1m-5.5 -13.5h1m1 12h1m-4.5 3h1m-0.5 -9h1m1.5 14.5h1m5.5 -9h1m-10 -8.5h1m0.5 15.5h1m9 -8h1m-11 -11h1m0 13h1m4.5 -1h1m-7.5 1h1m1.5 2h1m1.5 -0.5h1m-1 -7h1m3.5 -3.5h1m-3.5 3.5h1m-6.5 4h1m-1.5 -7h1m-3 -1h1m3.5 8.5h1m-1.5 -10.5h1m0 14h1m-7.5 -10.5h1m9.5 4h1m0 -1h1m-14 2h1m6.5 1.5h1m-5.5 -4h1m10.5 -0.5h1m-0.5 -3.5h1m-7.5 8.5h1m2.5 -2h1m-9 0.5h1m-5 -14.5h1m-1.5 23h1m11.5 1.5h1m-3 -18.5h1m-8.5 10h1m0 -7.5h1m-2.5 1.5h1m-5 6.5h1m5 4.5h1m10 -7.5h1m-3 6.5h1m-5.5 -7h1m4.5 4.5h1m-8.5 -6.5h1m0 8.5h1m2.5 -9h1m-5 4.5h1m-2.5 -1.5h1m-4 -4h1m5.5 6h1m-4 10.5h1m-0.5 -8h1m1.5 -6.5h1m1 8.5h1m-4.5 -3h1m5 -8h1m-8 8h1m0 -7.5h1m-3.5 3.5h1m0 1.5h1m8 1h1m-10.5 2.5h1m4.5 -10h1m-7.5 0h1m4 11h1m-4 2h1m-3 -8.5h1m2 2.5h1m6.5 -7h1m-5.5 6.5h1m2 -7.5h1m-12.5 16.5h1m11 -3.5h1m-8 0h1m-0.5 -12h1m-1.5 4.5h1m-5.5 -1.5h1m0.5 6h1m7.5 3.5h1m-0.5 -12.5h1m-3.5 10.5h1m-2 -9.5h1m-17.5 6h1m9.5 4h1m-4.5 -2h1m4.5 -10h1m-1 6.5h1m5 5h1m1.5 -0.5h1m-9.5 -6.5h1m2 0.5h1m-10 -9.5h1m11 12h1m2 -3h1m-2.5 3.5h1m-4 -0.5h1m2 2.5h1m-9 -3.5h1m0.5 1h1m1 -3h1m-5 2.5h1m-7 2.5h1m10 -19.5h1m-8.5 17h1m-6.5 2.5h1m15 0h1m-1 -3h1m-1.5 4.5h1m-6 -3.5h1m-9 -8h1m12.5 13.5h1m-10 -14.5h1m-7 15h1m10.5 4h1m4 0.5h1m-3.5 -14h1m-6.5 9h1m-6.5 -3h1m4 4h1m-2 -11h1m7 -13.5h1m-0.5 19h1m-9.5 2h1m-0.5 0h1m2 0.5h1m-6.5 -7.5h1m11 5h1m-9 -6.5h1m-2.5 6.5h1m-4.5 -2h1m3.5 -10.5h1m0.5 17.5h1m-3 -7.5h1m2.5 -2.5h1m-11.5 3.5h1m5.5 -3.5h1m8.5 4h1m-12 -4.5h1m10.5 8.5h1m-17.5 -1h1m5.5 -7h1m7 7.5h1m-11 -4h1m6.5 -0.5h1m-2 -3.5h1m3.5 12h1m-11 -16h1m0 13h1m2.5 -5.5h1m-1 -7.5h1m-2 7.5h1m-4 5h1m-1.5 -8h1m6 7h1m-4 -2h1m0.5 0.5h1m-8 2.5h1m11 -2.5h1m-9.5 4.5h1m3.5 -10.5h1m-4.5 1h1m4.5 -4.5h1m0.5 4h1m-6 1h1m-0.5 9h1m0 -13h1m-5.5 7h1m7.5 -3.5h1m-10 -1.5h1m0.5 8h1m-5.5 4.5h1m10.5 -3.5h1m-4.5 9h1m-9.5 -16.5h1m11 -4h1m-6 6h1m-7 -4h1m2.5 6.5h1m2.5 2h1m-3 -3.5h1m1.5 -3.5h1m-10.5 8h1m-5 -1.5h1m16 -10h1m-18.5 2.5h1m11.5 -1h1m2.5 9h1m-11 0.5h1m-3.5 -6.5h1m7.5 10h1m2 1h1m-12.5 9.5h1m2 -16.5h1m11 1.5h1m-2.5 -10h1m-12.5 4.5h1m1.5 3h1m0.5 -7h1m1.5 -1.5h1m-5.5 9.5h1m-2 -1.5h1m7 8h1m1.5 -3h1m-4.5 -12h1m-8 2h1m0.5 4h1m-3 -1.5h1m9.5 0h1m-16.5 1h1m8 -0.5h1m6.5 7h1m-0.5 -8.5h1m-4 5h1m-5.5 -6h1m0.5 -6.5h1m3 26.5h1m1.5 -27h1m-7.5 7h1m-5 3h1m8 5.5h1m-11.5 -1h1m2.5 0.5h1m6.5 8.5h1m-19.5 -11h1m8 1.5h1m-6.5 11h1m5 -9.5h1m-14 11h1m6.5 -9h1m4 -3h1m-4 1.5h1m-3 -1.5h1m4 0.5h1m-4 -6.5h1m-3.5 -0.5h1m3.5 -2.5h1m1 8.5h1m1 8h1m-14.5 -14.5h1m7.5 16h1m9.5 -7.5h1m-18 9.5h1m9 -3h1m-5 -3.5h1m9.5 -12h1m0 2.5h1m-7.5 -2.5h1m-6 2.5h1m-8 9h1m6 1h1m-3 -11.5h1m4.5 6h1m8.5 12h1m-1.5 -19.5h1m-8 15.5h1m-2.5 -11h1m-2.5 4h1m1.5 -2.5h1m-4 4h1m9.5 -8h1m-15 -0.5h1m4.5 28.5h1m-5.5 -15h1m9 -8h1m2 0.5h1m-6 -6.5h1m-4 -0.5h1m-2 7.5h1m2.5 -7.5h1m-7.5 7h1m11 7.5h1m-1 -15h1m-3.5 5.5h1m-2.5 -4h1m-8.5 11.5h1m10.5 -9h1m-19 -2h1m3.5 7h1m12 13h1m-12 -16.5h1m-4 -1h1m-6 2h1m16 0h1m0 11h1m-7 -7.5h1m-13 -7h1m9 4.5h1m-5.5 -5h1m10 3h1m2.5 -6h1m-7.5 5h1m-1 -3.5h1m5.5 6.5h1m-1.5 3.5h1m-17.5 14.5h1m9.5 -20h1m-11.5 6.5h1m1.5 -1h1m11.5 -0.5h1m-15.5 -1h1m5 -7h1m8 -2.5h1m-6 2h1m-14.5 -2h1m9 19h1m-2 -18h1m-5 0.5h1m13 3h1m-9 3.5h1m-1 -2.5h1m5.5 -4.5h1m-6.5 29.5h1m-10.5 -24h1m7.5 16.5h1m1.5 -12.5h1m-2.5 -11h1m4.5 11h1m-2 4.5h1m-3.5 -14.5h1m-5 0.5h1m0 10h1m7 3h1m-19.5 -7h1m16.5 -5.5h1m-5 3.5h1m-8.5 7.5h1m3.5 11.5h1m3 1h1m-14 -23h1m9 22h1m1.5 -22h1m-10.5 7h1m6 -10h1m7 1.5h1m-9 11h1m-7.5 9.5h1m-5.5 -17.5h1m-2.5 9h1m17 2h1m-9 -7h1m0 1h1m-2 -3h1m-4 16.5h1m12 -21.5h1m-5 4.5h1m3.5 12.5h1m-17.5 -15.5h1m10.5 5h1m-1 -4h1m-12.5 -2h1m1 13h1m-1 -6h1m11 -8h1m-6 0h1m-7 0.5h1m8 7.5h1m-9.5 -8.5h1m4 8h1m-2.5 -7.5h1m-6 3.5h1m10.5 2h1m-6.5 11.5h1m-16 -8h1m12.5 0h1m9 -2.5h1m-24.5 2h1m19.5 3.5h1m-5.5 -12h1m-10.5 1h1m7 6h1m-8.5 -2h1m-3.5 1.5h1m11.5 -3.5h1m-1.5 4.5h1m-14.5 -8h1m7 6h1m2.5 9h1m-11 -15h1m16 1h1m-13 -1h1m8 11.5h1m-11 -12h1m7 11.5h1m-2.5 11h1m1 -22.5h1m-6.5 8.5h1m8 -7h1m-2.5 26h1m3.5 -13.5h1m-3 -0.5h1m-16.5 -1h1m4 -11h1m5 9h1m3 18.5h1m-12 -23h1m3.5 6h1m1 -12h1m-3.5 13h1m6 -4.5h1m-14 -2h1m8.5 -1h1m-9 18h1m6.5 -14.5h1m-9.5 -1h1m3 -4h1m7 15.5h1m-13 -10.5h1m5.5 -6.5h1m2.5 6.5h1m-5.5 3h1m-2.5 -4.5h1m1 0h1m-6.5 2.5h1m9.5 -2.5h1m-1.5 0.5h1m3 1h1m-7.5 -6h1m4 15h1m-11 -2.5h1m5 -3h1m-10 -9h1m6.5 8.5h1m-4.5 -12h1m7 7h1m-20 -1h1m11 -5.5h1m-2 14h1m5 5h1m-9.5 -12h1m1 -4.5h1m9.5 3h1m-13 -1h1m0.5 9h1m8.5 8.5h1m-21.5 -20h1m15 5.5h1m-1.5 1.5h1m-1.5 -4h1m-14 -4.5h1m1.5 18h1m2.5 -3h1m-1 8h1m8.5 -6.5h1m-8 -0.5h1m11 -14h1m-10 5.5h1m3 6.5h1m-9 -6.5h1m-1 -2.5h1m5.5 1.5h1m2 5h1m-10.5 -12h1m11 10.5h1m-10.5 -7h1m9.5 6h1m-18 -7.5h1m5 9h1m5 -6h1m-5.5 -1.5h1m-4 8h1m6.5 3h1m1 9h1m-9.5 -21h1m6.5 3.5h1m-8.5 24.5h1m-3.5 -11.5h1m12 -1.5h1m-12.5 -16.5h1m-0.5 2h1m7 1h1m-12 2.5h1m-1 19.5h1m3.5 -14.5h1m1 -8h1m4.5 -4h1m-8 12.5h1m-4 13h1m-5 -6h1m5 -6.5h1m-2 0h1m9 -10.5h1m-18 3.5h1m-2.5 18h1m-1.5 -15h1m9.5 10.5h1m3 -10h1m5 -7h1m-20 7h1m10.5 4.5h1m-6 12h1m11.5 -20.5h1m-7.5 13h1m6 -2h1m-10.5 7.5h1m6 -21.5h1m-5.5 1.5h1m-7 8.5h1m9 -10.5h1m-9 12.5h1m-13.5 -8.5h1m12.5 1.5h1m-8 -1.5h1m10 -2.5h1m5 5h1m-8 6.5h1m0.5 -11.5h1m-12.5 -1h1m2 6.5h1m0 -8.5h1m11 11.5h1m-12 6.5h1m3.5 -17h1m-14.5 6h1m7.5 7h1m3 6h1m-2.5 -16.5h1m-2 3.5h1m3.5 -6h1m-0.5 12h1m-12 2h1m-1.5 -12.5h1m11 1.5h1m0.5 13h1m-15 7h1m12 -23.5h1m-14 25.5h1m7 -19.5h1m8 -6h1m-19.5 0.5h1m9.5 11.5h1m-2.5 0h1m-7 -6.5h1m11 -6.5h1m-11.5 8h1m0.5 13.5h1m-4 -15.5h1m9 -3h1m0 11.5h1m4 -11.5h1m-11.5 6h1m-11.5 13h1m8 6.5h1m-11 -5.5h1m2 6.5h1m4 1.5h1m-9 -2.5h1m4.5 -19h1m-2.5 6h1m-7.5 -7h1m0.5 1h1m-3 4.5h1m-6 -4h1m7 7h1m-5.5 1h1m8 8h1m1 -11.5h1m3 8h1m-20 -7h1m22 9h1m-14.5 -8.5h1m-4 6h1m5.5 -3h1m1.5 4.5h1m-5 -3.5h1m-6.5 1h1m-6.5 -4.5h1m5 -8h1m-2.5 2h1m-0.5 8h1m5.5 -1.5h1m7.5 3.5h1m-10 9h1m-4 -12.5h1m4 3.5h1m5.5 8.5h1m-1 -14.5h1m-25 -4h1m13 14.5h1m-9 -11.5h1m18.5 11h1m-11 1.5h1m-10.5 -15.5h1m0 -6.5h1m6.5 5.5h1m10 19h1m-8 -2h1m-1 -8.5h1m-2.5 -11.5h1m1 4.5h1m-0.5 18h1m-12.5 -9h1m-6 -16h1m8 12.5h1m7.5 9h1m-17.5 -26.5h1m10.5 22h1m5 2.5h1m-8.5 0h1m7.5 -0.5h1m-16 -10h1m7 5h1m-1 -2h1m-1 3.5h1m-11 -9.5h1m14 15h1m-8.5 -3.5h1m1 -6h1m7.5 6h1m-9.5 -1h1m4.5 0h1m-5.5 3h1m3.5 6h1m-10 -6.5h1m6.5 -9.5h1m-10 4h1m-4.5 -3h1m8.5 -8.5h1m-18.5 6h1m20.5 15.5h1m-4 -2h1m-8.5 -8.5h1m4.5 -2.5h1m-3 -2h1m-0.5 9.5h1m-6.5 -8.5h1m13 12h1m-6.5 -18h1m-4 14.5h1m-6 -11.5h1m15 17h1m-14 -22.5h1m2 10h1m0.5 1.5h1m-8.5 -10h1m10 16.5h1m-1 10h1m5 -15.5h1m-2 11h1m-16.5 -20h1m2.5 -8.5h1m-7.5 16.5h1m8.5 5.5h1m1.5 0h1m4.5 4h1m-9.5 4.5h1m-10 -14.5h1m8 4h1m10.5 4h1m-10 -5.5h1m-1 4.5h1m-1 1.5h1m-8.5 -15.5h1m10 12h1m-15 -5h1m8 -4h1m6 14h1m-12 -13h1m9 13.5h1m-15 -5.5h1m-1 -11h1m4 1.5h1m5 9.5h1m-4.5 -2.5h1m9 9.5h1m-21 -17h1m11 6h1m-4 11.5h1m-4 -16.5h1m2.5 6h1m0.5 3.5h1m-6 2h1m18 1.5h1m-20.5 -4.5h1m-3.5 -9.5h1m1.5 10.5h1m1.5 -1.5h1m-14 -11.5h1m3.5 0.5h1m-1 -2h1" stroke="#f07818" stroke-opacity="0.85" stroke-width="1" fill="none"/><path d="M263 409.5h1m-12 11.5h1m34.5 12.5h1m-0.5 -9.5h1m0 8.5h1m-21 -14.5h1m17.5 9h1m-23 -15.5h1m-18.5 8.5h1m12 -4h1m27 11h1m-8.5 1.5h1m-22 -14h1m8 2.5h1m-0.5 6.5h1m21 0h1m1 1h1m-32.5 -2.5h1m-6.5 -7h1m38 10.5h1m-14 -2h1m-0.5 -0.5h1m-15 -4h1m28 9h1m-34.5 -12.5h1m-7.5 -3.5h1m38.5 16h1m-37 -17h1m-14 3h1m34 17h1m-13.5 -9h1m24.5 7.5h1m-29 -15h1m2.5 4.5h1m-5.5 -2.5h1m7.5 -1h1m-22 1.5h1m5 -7h1m9.5 10h1m3 3h1m0.5 3h1m-23.5 -9h1m14 -9h1m-21.5 0.5h1m-4.5 4.5h1m15.5 10h1m-2.5 -8h1m-3 3h1m17.5 1.5h1m-1 -1h1m-15.5 -2.5h1m-15 -6h1m43.5 16.5h1m-4 8h1m-19 -10.5h1m9.5 -2.5h1m-31 -11h1m19 10.5h1m-21.5 -5.5h1m21.5 3h1m15.5 8.5h1m-5 -4h1m-18.5 -10h1m16.5 11h1m-25.5 -6.5h1m20 4.5h1m-17.5 -13.5h1m22.5 17.5h1m-41 -17.5h1m8 11.5h1m20 2h1m-31.5 -11.5h1m31 16h1m-14 -7h1m15.5 8h1m-20 -18h1m12.5 10.5h1m-7 -4.5h1m7.5 9h1m-23 -10h1m-14 -0.5h1m47 9h1m-33.5 -8.5h1m25.5 15.5h1m-24.5 -13h1m-7 4.5h1m7.5 -12.5h1m18 15h1m-36.5 -3h1m30 10h1m-15.5 -13h1m-1 3h1m12.5 3h1m-28.5 -10h1m29 9.5h1m-6 -2.5h1m-24.5 -3h1m-7.5 -9h1m36 22h1m-17 -13h1m25 12h1m-20.5 -14.5h1m-6 2.5h1m-0.5 8h1m19.5 -6h1m-46 -5.5h1m43 14h1m-27.5 -14.5h1m6.5 6.5h1m-3.5 3h1m-15.5 -10.5h1m5.5 -0.5h1m-2 4.5h1m-3 5.5h1m-9 -7.5h1m38 14.5h1m6.5 -7h1m-30.5 -7.5h1m-20 -2h1m27.5 8.5h1" stroke="#f07818" stroke-opacity="0.5" stroke-width="1" fill="none"/><rect x="279" y="403.6" width="47.7" height="13.2" fill="none" stroke="#000" stroke-width="1.6"/><text x="333.6" y="238.0" font-size="10" text-anchor="start" font-weight="normal" font-family="'Liberation Serif', serif" fill="#000" >No mAb</text><text x="335.6" y="295.9" font-size="10" text-anchor="start" font-weight="normal" font-family="'Liberation Serif', serif" fill="#000" >Control IgG</text><text x="333.4" y="364.7" font-size="10" text-anchor="start" font-weight="normal" font-family="'Liberation Serif', serif" fill="#000" >Anti-CD15</text><text x="336.4" y="431.9" font-size="10" text-anchor="start" font-weight="normal" font-family="'Liberation Serif', serif" fill="#000" >Naive</text><path d="M223.6,471.4 V386 M223.6,471.4 H301" stroke="#000" stroke-width="1.6" fill="none"/><path d="M223.6,379 L220,387.5 L227.2,387.5 Z" fill="#000"/><path d="M308,471.4 L299.5,467.8 L299.5,475 Z" fill="#000"/><text transform="translate(213,341) rotate(-90)" font-size="10" font-weight="bold" text-anchor="middle" font-family="'Liberation Serif', serif">CD44 FITC</text><text x="288" y="491" font-size="10" text-anchor="middle" font-weight="bold" font-family="'Liberation Serif', serif" fill="#000" >CD62L PE</text></svg>
</body></html>
